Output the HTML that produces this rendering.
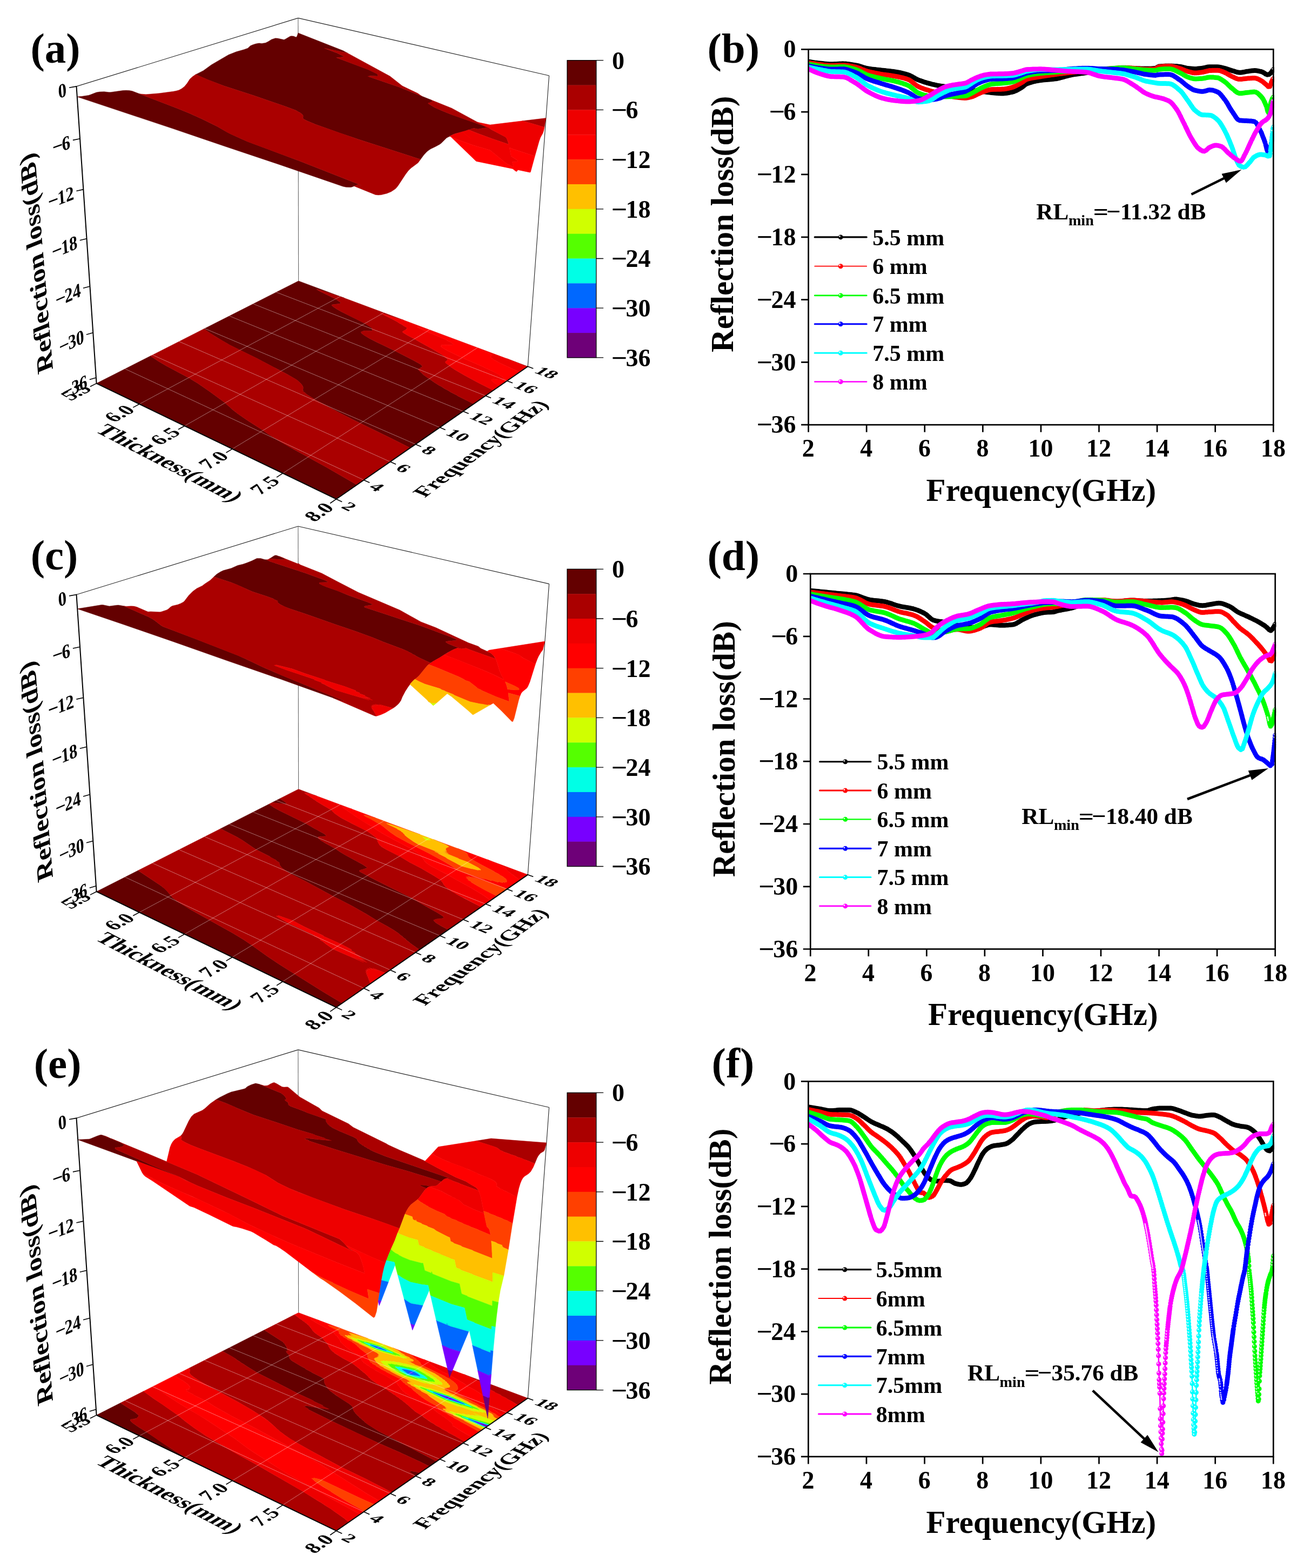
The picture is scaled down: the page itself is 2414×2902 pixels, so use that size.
<!DOCTYPE html>
<html><head><meta charset="utf-8"><title>Reflection loss figure</title>
<style>html,body{margin:0;padding:0;background:#fff}svg{display:block}</style></head><body>
<svg xmlns="http://www.w3.org/2000/svg" width="2414" height="2902" viewBox="0 0 2414 2902">
<defs><marker id="mkk" markerUnits="userSpaceOnUse" markerWidth="10" markerHeight="10" refX="5" refY="5" viewBox="0 0 10 10"><circle cx="5" cy="5" r="4.5" fill="#000000"/></marker><marker id="mkr" markerUnits="userSpaceOnUse" markerWidth="10" markerHeight="10" refX="5" refY="5" viewBox="0 0 10 10"><circle cx="5" cy="5" r="4.5" fill="#ff0000"/></marker><marker id="mkg" markerUnits="userSpaceOnUse" markerWidth="10" markerHeight="10" refX="5" refY="5" viewBox="0 0 10 10"><circle cx="5" cy="5" r="4.5" fill="#00ff00"/></marker><marker id="mkb" markerUnits="userSpaceOnUse" markerWidth="10" markerHeight="10" refX="5" refY="5" viewBox="0 0 10 10"><circle cx="5" cy="5" r="4.5" fill="#0000ff"/></marker><marker id="mkc" markerUnits="userSpaceOnUse" markerWidth="10" markerHeight="10" refX="5" refY="5" viewBox="0 0 10 10"><circle cx="5" cy="5" r="4.5" fill="#00ffff"/></marker><marker id="mkm" markerUnits="userSpaceOnUse" markerWidth="10" markerHeight="10" refX="5" refY="5" viewBox="0 0 10 10"><circle cx="5" cy="5" r="4.5" fill="#ff00ff"/></marker></defs>
<rect width="2414" height="2902" fill="#fff"/>
<g>
<path d="M278.6,658.8 178.5,709.6 622.5,923.7 660.6,897.3 603.5,864.3 545.5,832.4 524.1,820.3 507.4,810.4 495.2,802.4 487.0,796.5 459.6,779.1 440.0,765.4 432.2,759.5 415.4,744.6 388.0,724.4 366.3,709.5 350.3,699.7 307.6,676.9 293.1,668.4ZM552.6,519.9 377.3,608.8 388.5,616.4 411.2,630.4 426.0,638.9 477.3,664.2 530.3,692.1 548.3,702.4 552.3,705.4 556.5,709.4 559.4,712.9 560.0,714.5 561.2,715.9 560.9,717.2 561.5,718.3 560.6,719.5 561.2,720.6 560.2,721.7 561.4,723.0 560.8,724.4 563.7,726.3 567.9,729.9 582.1,739.1 623.9,761.6 655.0,777.6 723.6,811.1 759.4,829.0 876.9,747.6 847.8,732.9 844.8,731.0 833.9,725.5 829.8,722.7 822.4,719.0 817.4,715.6 812.8,713.2 804.5,707.9 784.4,694.0 777.1,687.0 776.9,686.4 773.8,683.7 775.3,683.7 775.0,682.1 776.9,682.2 777.8,681.1 778.9,680.8 779.9,679.8 780.8,679.5 781.5,678.3 782.3,677.9 778.5,674.3 765.6,667.1 730.9,649.2 696.5,632.7 683.3,625.9 674.7,620.8 669.5,617.0 668.2,614.5 670.3,613.7 670.2,613.3 676.4,612.1 688.2,612.6 689.6,611.2 688.9,610.4 689.4,609.1 688.2,608.3 688.0,606.6 675.7,598.6 631.3,576.5 622.6,571.5 616.7,567.6 613.9,564.9 614.7,564.0 627.6,562.3 629.9,561.7 631.0,560.2 621.2,553.3 591.9,538.9 586.2,535.7 586.9,535.7 586.5,535.3 587.9,535.6 598.6,538.9 637.3,551.5Z" fill="#640000" stroke="#640000" stroke-width=".5" fill-rule="evenodd"/>
<path d="M377.3,608.8 278.5,658.9 293.1,668.4 307.6,676.9 350.3,699.8 366.3,709.5 387.9,724.4 415.3,744.6 432.2,759.5 439.9,765.4 459.6,779.1 487.0,796.5 495.1,802.4 507.4,810.4 524.1,820.4 545.5,832.4 603.4,864.3 660.6,897.3 759.4,829.0 723.6,811.0 655.0,777.6 623.9,761.5 582.1,739.0 567.9,729.8 563.7,726.2 560.9,724.4 561.4,723.0 560.2,721.7 561.2,720.6 560.6,719.5 561.5,718.4 560.9,717.2 561.2,715.9 560.0,714.4 559.4,712.8 556.5,709.4 552.4,705.4 548.3,702.3 530.4,692.0 477.3,664.1 426.0,638.8 398.9,623.0ZM586.4,535.3 586.9,535.7 586.1,535.7 591.9,539.0 621.2,553.3 631.0,560.2 629.9,561.6 627.6,562.3 614.6,564.0 613.8,564.9 616.6,567.6 622.6,571.6 631.2,576.5 675.6,598.7 688.0,606.7 688.2,608.3 689.3,609.1 688.8,610.4 689.6,611.2 688.1,612.6 676.4,612.0 670.1,613.3 670.2,613.6 668.1,614.5 669.4,617.0 674.7,620.9 683.3,626.0 696.5,632.8 730.9,649.2 765.6,667.1 778.5,674.3 782.2,677.9 781.5,678.3 780.8,679.4 779.9,679.7 778.9,680.8 777.8,681.0 776.9,682.1 775.0,682.1 775.3,683.6 773.7,683.7 776.9,686.4 777.0,687.1 784.4,694.0 790.2,698.3 794.8,701.0 804.4,708.0 812.8,713.3 817.4,715.6 822.4,719.0 829.7,722.8 833.9,725.5 844.7,731.0 847.8,733.0 876.9,747.7 913.4,722.4 885.2,708.2 860.7,695.0 841.7,683.9 834.9,679.4 832.1,676.9 824.9,671.6 824.7,669.6 828.2,666.8 828.8,666.8 828.3,664.5 824.5,661.5 824.4,660.9 819.8,657.7 819.2,656.9 799.6,645.4 774.5,631.6 767.3,627.2 754.2,620.5 746.5,615.8 745.4,614.8 745.2,613.9 747.1,612.4 750.2,610.9 751.2,609.9 752.2,609.6 752.9,608.6 753.9,608.4 752.7,606.7 753.2,606.1 746.4,602.5 745.1,601.2 739.0,598.0 736.2,595.9 725.1,589.9 704.0,579.5 733.6,588.8 746.8,592.3 637.3,551.5 598.6,538.9ZM975.5,679.4 977.2,678.3 937.9,663.6 956.3,670.9Z" fill="#aa0000" stroke="#aa0000" stroke-width=".5" fill-rule="evenodd"/>
<path d="M703.8,579.4 725.1,589.9 736.2,596.0 739.0,598.1 745.0,601.2 746.4,602.6 753.1,606.2 752.7,606.7 753.8,608.3 752.9,608.6 752.1,609.6 751.2,609.9 750.2,610.8 747.1,612.3 745.2,613.9 745.4,614.9 746.5,615.8 754.2,620.5 767.3,627.2 774.5,631.6 799.6,645.4 819.2,657.0 819.7,657.8 824.3,661.0 824.5,661.5 828.3,664.5 828.8,666.8 828.2,666.8 824.6,669.5 824.8,671.7 832.1,676.9 834.8,679.4 841.7,684.0 860.7,695.1 885.1,708.2 913.4,722.4 924.6,714.6 914.9,708.6 910.6,704.6 909.7,702.1 914.3,701.8 922.0,702.9 927.5,702.9 931.6,702.3 931.3,702.0 932.3,700.5 931.6,700.0 930.5,697.8 923.4,693.1 910.1,686.3 898.8,681.2 893.1,678.2 855.1,662.1 828.9,649.2 819.7,643.9 816.4,641.1 816.4,640.2 817.8,638.6 821.0,638.7 822.0,638.0 826.6,638.6 827.3,638.0 833.3,639.1 833.8,638.5 838.3,638.9 837.8,638.0 841.1,638.0 835.9,635.3 837.3,634.7 827.1,630.1 827.4,629.3 800.5,617.9 789.6,613.7 776.2,607.4 770.8,604.4 793.7,611.3 882.6,644.3 896.9,650.0 911.2,656.5 910.8,656.6 911.5,657.0 910.5,657.1 911.3,657.7 908.2,657.9 909.6,659.0 907.8,659.7 909.2,660.9 908.3,661.8 912.2,664.0 913.4,665.6 920.8,669.2 923.4,671.1 962.0,688.8 975.5,679.4 956.3,670.9 937.9,663.6 746.8,592.3 733.6,588.7Z" fill="#ee0000" stroke="#ee0000" stroke-width=".5" fill-rule="evenodd"/>
<path d="M770.7,604.4 776.2,607.5 789.6,613.7 800.5,617.9 827.4,629.3 827.1,630.1 837.2,634.7 835.8,635.3 841.0,637.9 837.7,638.0 838.2,638.9 833.8,638.5 833.3,639.1 827.3,638.0 826.6,638.6 822.0,637.9 821.0,638.6 817.8,638.5 816.4,640.1 816.4,641.1 819.6,643.9 828.9,649.2 855.0,662.1 893.1,678.2 898.7,681.2 910.1,686.3 923.3,693.2 930.5,697.8 931.6,700.0 932.3,700.5 931.2,702.0 931.5,702.3 927.4,702.8 922.0,702.9 914.3,701.8 909.6,702.1 909.5,702.5 910.6,704.6 914.9,708.7 924.6,714.7 962.0,688.8 923.5,671.1 920.8,669.2 913.4,665.5 912.2,664.0 908.3,661.8 909.2,660.8 907.8,659.7 909.6,659.0 908.3,657.9 911.3,657.7 910.6,657.2 911.6,657.1 910.8,656.6 911.3,656.4 896.9,650.0 882.7,644.3 793.7,611.3Z" fill="#ff0000" stroke="#ff0000" stroke-width=".5" fill-rule="evenodd"/>
<path d="M258.0 747.9L629.8 548.7M341.7 788.3L710.5 578.8M430.1 830.9L795.2 610.4M523.6 875.9L883.9 643.5M231.5 682.7L673.5 888.4M282.4 656.9L722.3 854.6M331.5 632.0L769.2 822.2M378.9 608.0L814.1 791.1M424.6 584.8L857.3 761.2M468.7 562.4L898.8 732.5M511.4 540.8L938.7 704.9" stroke="#fff" stroke-opacity=".5" stroke-width=".85" fill="none"/>
<path d="M141.5 159.9L551.9 33.4M551.9 33.4L1016.5 140.0M1016.5 140.0L977.1 678.3" stroke="#222" stroke-width="1.1" fill="none"/>
<path d="M551.9 33.4L552.6 519.9" stroke="#666" stroke-width="1.1" fill="none"/>
<path d="M238.9,167.4 233.3,167.2 227.6,167.5 204.7,170.7 201.8,170.8 193.0,169.7 184.2,170.0 178.3,171.1 166.7,175.6 163.8,176.4 151.8,178.3 142.7,179.1 320.1,238.1 416.9,271.0 519.7,305.4 634.8,345.0 640.4,346.2 648.9,346.6 651.7,346.0 662.9,341.5 670.7,344.3 665.6,341.5 559.8,299.9 458.4,262.1 428.8,248.8 420.4,244.6 402.2,233.9 372.5,219.5 349.1,208.9 327.6,200.2 244.7,168.5ZM376.5,130.7 362.3,137.9 385.5,147.9 414.7,159.1 470.2,177.0 527.7,196.8 547.2,204.1 556.1,209.1 559.2,211.6 559.9,212.7 561.2,213.8 560.9,214.7 561.6,215.5 560.5,216.3 561.2,217.1 560.1,217.9 561.4,218.8 560.8,219.8 568.5,223.7 584.1,230.3 629.7,246.4 663.7,257.9 778.5,295.0 784.4,287.1 789.5,281.5 792.0,279.3 797.0,275.8 806.9,271.0 814.3,266.9 816.8,265.0 826.7,255.2 838.7,249.0 843.5,247.3 859.9,242.9 876.0,237.5 878.3,237.6 884.9,239.0 902.5,235.9 905.6,236.8 904.9,236.3 832.6,210.8 817.4,204.6 804.0,198.6 792.3,191.3 793.9,191.2 793.5,190.1 795.6,190.2 796.5,189.4 799.8,188.3 800.5,187.4 801.4,187.2 797.3,184.6 738.6,161.0 681.0,141.2 685.9,140.6 698.6,141.1 700.2,140.0 699.3,139.5 699.9,138.6 698.6,138.0 698.4,136.8 681.3,128.6 622.6,106.6 632.8,105.8 635.4,105.3 636.6,104.3 624.3,98.3 600.5,89.2 643.3,98.2 635.2,93.8 552.0,61.1 549.8,66.9 548.5,69.0 543.2,66.9 538.8,66.7 536.6,67.4 527.7,72.8 525.5,73.5 514.2,71.1 509.7,70.8 502.8,73.0 496.0,77.2 491.4,79.4 484.5,80.5 479.9,80.0 477.5,80.3 472.9,81.2 468.2,82.7 463.5,84.8 458.8,89.2 451.8,91.7 437.4,95.8 423.0,101.4 391.3,119.9Z" fill="#640000" stroke="#640000" stroke-width=".5" fill-rule="evenodd"/>
<path d="M362.3,137.8 356.5,141.8 351.5,146.3 346.5,154.1 341.6,160.1 336.5,164.0 331.4,166.8 326.2,168.2 321.0,169.2 294.4,172.8 270.0,174.8 258.2,173.8 327.5,200.3 349.1,208.9 372.5,219.5 402.1,234.0 420.4,244.7 428.8,248.9 458.4,262.2 559.8,299.9 665.6,341.6 670.4,344.1 662.9,341.5 655.5,344.4 695.1,360.4 700.4,360.9 705.7,360.6 716.2,358.0 724.1,354.7 732.0,349.5 734.7,346.6 737.4,343.0 750.7,322.8 756.0,315.7 761.2,310.8 774.0,301.2 778.5,295.0 663.7,257.9 629.8,246.3 584.1,230.2 568.5,223.7 560.9,219.8 561.5,218.8 560.2,217.9 561.3,217.1 560.6,216.3 561.6,215.5 561.0,214.7 561.3,213.7 560.0,212.7 559.3,211.6 556.1,209.1 547.2,204.1 527.7,196.8 470.2,176.9 414.7,159.0 385.6,147.8ZM600.2,89.1 624.3,98.3 636.5,104.3 635.4,105.3 632.8,105.7 622.4,106.6 681.3,128.7 698.4,136.9 698.6,138.0 699.8,138.6 699.3,139.5 700.1,140.0 698.6,141.0 685.9,140.6 680.9,141.2 738.5,161.0 780.7,178.0 773.1,172.6 744.8,159.1 721.9,141.0 643.2,98.2ZM796.5,189.3 795.6,190.1 793.5,190.1 793.8,191.2 792.1,191.3 803.9,198.6 810.2,201.6 836.6,212.4 899.0,234.3 836.2,200.2 797.2,184.6 801.3,187.1 800.5,187.4 799.8,188.2ZM966.9,223.8 986.9,229.3 1007.8,235.6 1010.8,218.6ZM902.5,235.8 884.9,239.0 878.3,237.6 876.0,237.5 867.5,240.2 884.4,246.9 911.0,256.7 941.8,267.2 939.7,260.3 937.9,256.0 935.9,253.6 909.2,239.6 905.6,236.8Z" fill="#aa0000" stroke="#aa0000" stroke-width=".5" fill-rule="evenodd"/>
<path d="M862.2,242.1 841.1,248.0 833.1,251.7 837.2,254.5 847.2,258.5 875.3,268.4 907.3,278.1 936.0,301.6 940.2,304.3 950.7,308.9 948.4,299.7 953.5,299.8 957.9,299.4 957.6,299.1 958.7,297.9 956.7,295.9 946.3,289.2 943.1,273.1 948.6,275.4 990.2,289.0 998.0,261.6 1000.4,254.8 1004.9,246.4 1006.4,242.2 1007.9,235.5 986.9,229.2 967.0,223.8 907.2,231.0 883.5,226.1 898.9,234.3 904.9,236.4 909.2,239.6 935.9,253.7 937.8,256.0 939.7,260.3 941.8,267.2 911.0,256.7 884.4,246.9 867.5,240.2Z" fill="#ee0000" stroke="#ee0000" stroke-width=".5" fill-rule="evenodd"/>
<path d="M871.7,256.2 855.8,244.1 871.7,256.3ZM833.1,251.7 831.9,252.3 834.5,253.1 881.5,298.5 949.2,312.4 954.5,316.7 956.5,317.5 958.8,314.4 980.3,318.9 981.5,319.1 982.3,317.9 990.2,289.0 948.6,275.4 943.1,273.0 946.2,289.2 956.7,295.9 958.6,298.0 957.5,299.1 957.8,299.3 953.5,299.7 948.3,299.7 950.6,308.8 940.2,304.2 936.1,301.5 907.4,278.1 875.4,268.4 847.2,258.4 837.3,254.4Z" fill="#ff0000" stroke="#ff0000" stroke-width=".5" fill-rule="evenodd"/>
<path d="M141.5 159.9L178.6 709.6M178.6 709.6L622.5 923.7M622.5 923.7L977.1 678.3" stroke="#000" stroke-width="2" fill="none" stroke-linecap="round"/>
<path d="M141.5 159.9L128.1 162.3M148.0 256.7L134.9 259.4M154.3 350.6L141.4 353.5M160.5 441.7L147.8 444.7M166.4 530.0L154.0 533.3M172.2 615.8L159.9 619.2M177.9 699.1L165.8 702.6M178.6 709.6L166.9 715.5M258.0 747.9L246.3 754.1M341.7 788.3L330.1 794.8M430.1 830.9L418.6 837.8M523.6 875.9L512.1 883.3M622.5 923.7L611.2 931.5M622.5 923.7L633.2 928.8M673.5 888.4L684.2 893.3M722.3 854.6L732.9 859.3M769.2 822.2L779.7 826.7M814.1 791.1L824.5 795.4M857.3 761.2L867.6 765.4M898.8 732.5L909.0 736.5M938.7 704.9L948.9 708.8M977.1 678.3L987.2 682.0" stroke="#000" stroke-width="1.6" fill="none" stroke-linecap="butt"/>
<g font-family="Liberation Serif, serif" font-weight="bold" font-size="46" transform="matrix(0.6679 -0.2096 0.0567 0.7980 123.9 177.5)"><text x="-23.00">0</text></g>
<g font-family="Liberation Serif, serif" font-weight="bold" font-size="46" transform="matrix(0.6610 -0.2303 0.0567 0.7980 130.8 274.5)"><text transform="translate(-50.10 0) scale(1.13 1)">−</text><text x="-23.00">6</text></g>
<g font-family="Liberation Serif, serif" font-weight="bold" font-size="46" transform="matrix(0.6539 -0.2498 0.0567 0.7980 137.5 368.5)"><text transform="translate(-73.10 0) scale(1.13 1)">−</text><text x="-46.00">12</text></g>
<g font-family="Liberation Serif, serif" font-weight="bold" font-size="46" transform="matrix(0.6466 -0.2682 0.0567 0.7980 143.9 459.6)"><text transform="translate(-73.10 0) scale(1.13 1)">−</text><text x="-46.00">18</text></g>
<g font-family="Liberation Serif, serif" font-weight="bold" font-size="46" transform="matrix(0.6391 -0.2855 0.0567 0.7980 150.2 548.0)"><text transform="translate(-73.10 0) scale(1.13 1)">−</text><text x="-46.00">24</text></g>
<g font-family="Liberation Serif, serif" font-weight="bold" font-size="46" transform="matrix(0.6316 -0.3018 0.0567 0.7980 156.3 633.8)"><text transform="translate(-73.10 0) scale(1.13 1)">−</text><text x="-46.00">30</text></g>
<g font-family="Liberation Serif, serif" font-weight="bold" font-size="46" transform="matrix(0.6240 -0.3171 0.0567 0.7980 162.2 717.1)"><text transform="translate(-73.10 0) scale(1.13 1)">−</text><text x="-46.00">36</text></g>
<text font-family="Liberation Serif, serif" font-weight="bold" font-size="58" text-anchor="middle" transform="matrix(-0.0727 -0.8670 0.7228 -0.2931 81.0 481.5)">Reflection loss(dB)</text>
<g font-family="Liberation Serif, serif" font-weight="bold" font-size="46" transform="matrix(0.7124 -0.3640 0.6923 0.4010 171.7 721.4)"><text x="-57.50">5.5</text></g>
<g font-family="Liberation Serif, serif" font-weight="bold" font-size="46" transform="matrix(0.7039 -0.3801 0.6923 0.4010 251.8 760.6)"><text x="-57.50">6.0</text></g>
<g font-family="Liberation Serif, serif" font-weight="bold" font-size="46" transform="matrix(0.6942 -0.3975 0.6923 0.4010 336.2 801.9)"><text x="-57.50">6.5</text></g>
<g font-family="Liberation Serif, serif" font-weight="bold" font-size="46" transform="matrix(0.6831 -0.4163 0.6923 0.4010 425.4 845.6)"><text x="-57.50">7.0</text></g>
<g font-family="Liberation Serif, serif" font-weight="bold" font-size="46" transform="matrix(0.6704 -0.4366 0.6923 0.4010 519.8 891.8)"><text x="-57.50">7.5</text></g>
<g font-family="Liberation Serif, serif" font-weight="bold" font-size="46" transform="matrix(0.6557 -0.4584 0.6923 0.4010 619.8 940.7)"><text x="-57.50">8.0</text></g>
<text font-family="Liberation Serif, serif" font-weight="bold" font-size="58" text-anchor="middle" transform="matrix(0.6662 0.3445 -0.6473 0.3789 302.0 864.0)">Thickness(mm)</text>
<g font-family="Liberation Serif, serif" font-weight="bold" font-size="46" transform="matrix(0.7194 0.3500 -0.5241 0.3673 629.9 939.1)"><text x="0.00">2</text></g>
<g font-family="Liberation Serif, serif" font-weight="bold" font-size="46" transform="matrix(0.7242 0.3398 -0.5241 0.3673 681.3 903.1)"><text x="0.00">4</text></g>
<g font-family="Liberation Serif, serif" font-weight="bold" font-size="46" transform="matrix(0.7287 0.3301 -0.5241 0.3673 730.5 868.6)"><text x="0.00">6</text></g>
<g font-family="Liberation Serif, serif" font-weight="bold" font-size="46" transform="matrix(0.7328 0.3209 -0.5241 0.3673 777.7 835.5)"><text x="0.00">8</text></g>
<g font-family="Liberation Serif, serif" font-weight="bold" font-size="46" transform="matrix(0.7366 0.3122 -0.5241 0.3673 822.9 803.8)"><text x="0.00">10</text></g>
<g font-family="Liberation Serif, serif" font-weight="bold" font-size="46" transform="matrix(0.7400 0.3039 -0.5241 0.3673 866.4 773.3)"><text x="0.00">12</text></g>
<g font-family="Liberation Serif, serif" font-weight="bold" font-size="46" transform="matrix(0.7432 0.2960 -0.5241 0.3673 908.1 744.1)"><text x="0.00">14</text></g>
<g font-family="Liberation Serif, serif" font-weight="bold" font-size="46" transform="matrix(0.7462 0.2884 -0.5241 0.3673 948.3 716.0)"><text x="0.00">16</text></g>
<g font-family="Liberation Serif, serif" font-weight="bold" font-size="46" transform="matrix(0.7489 0.2813 -0.5241 0.3673 986.9 688.9)"><text x="0.00">18</text></g>
<text font-family="Liberation Serif, serif" font-weight="bold" font-size="58" text-anchor="middle" transform="matrix(0.5530 -0.4127 0.6268 0.2636 902.0 835.3)">Frequency(GHz)</text>
<text font-family="Liberation Serif, serif" font-weight="bold" font-size="79" x="56.5" y="115.6">(a)</text>
<rect x="1050.0" y="111.70" width="53.8" height="46.15" fill="#640000"/>
<rect x="1050.0" y="157.55" width="53.8" height="46.15" fill="#aa0000"/>
<rect x="1050.0" y="203.40" width="53.8" height="46.15" fill="#ee0000"/>
<rect x="1050.0" y="249.25" width="53.8" height="46.15" fill="#ff0000"/>
<rect x="1050.0" y="295.10" width="53.8" height="46.15" fill="#ff4000"/>
<rect x="1050.0" y="340.95" width="53.8" height="46.15" fill="#ffc000"/>
<rect x="1050.0" y="386.80" width="53.8" height="46.15" fill="#d0ff00"/>
<rect x="1050.0" y="432.65" width="53.8" height="46.15" fill="#55ff00"/>
<rect x="1050.0" y="478.50" width="53.8" height="46.15" fill="#00ffe6"/>
<rect x="1050.0" y="524.35" width="53.8" height="46.15" fill="#0068ff"/>
<rect x="1050.0" y="570.20" width="53.8" height="46.15" fill="#7800ff"/>
<rect x="1050.0" y="616.05" width="53.8" height="46.15" fill="#6e0078"/>
<rect x="1050.0" y="111.7" width="53.8" height="550.2" fill="none" stroke="#000" stroke-width="1.3"/>
<path d="M1103.8 111.7h13.3M1103.8 203.4h13.3M1103.8 295.1h13.3M1103.8 386.8h13.3M1103.8 478.5h13.3M1103.8 570.2h13.3M1103.8 661.9h13.3" stroke="#000" stroke-width="1.3"/>
<g font-family="Liberation Serif, serif" font-weight="bold" font-size="46" transform="translate(1132.9 127.6)"><text x="0.00">0</text></g>
<g font-family="Liberation Serif, serif" font-weight="bold" font-size="46" transform="translate(1131.4 219.3)"><text transform="translate(0.00 0) scale(1.13 1)">−</text><text x="27.10">6</text></g>
<g font-family="Liberation Serif, serif" font-weight="bold" font-size="46" transform="translate(1131.4 311.0)"><text transform="translate(0.00 0) scale(1.13 1)">−</text><text x="27.10">12</text></g>
<g font-family="Liberation Serif, serif" font-weight="bold" font-size="46" transform="translate(1131.4 402.7)"><text transform="translate(0.00 0) scale(1.13 1)">−</text><text x="27.10">18</text></g>
<g font-family="Liberation Serif, serif" font-weight="bold" font-size="46" transform="translate(1131.4 494.4)"><text transform="translate(0.00 0) scale(1.13 1)">−</text><text x="27.10">24</text></g>
<g font-family="Liberation Serif, serif" font-weight="bold" font-size="46" transform="translate(1131.4 586.1)"><text transform="translate(0.00 0) scale(1.13 1)">−</text><text x="27.10">30</text></g>
<g font-family="Liberation Serif, serif" font-weight="bold" font-size="46" transform="translate(1131.4 677.8)"><text transform="translate(0.00 0) scale(1.13 1)">−</text><text x="27.10">36</text></g>
</g>
<g>
<path d="M255.6,1611.1 178.5,1650.2 622.5,1864.3 633.5,1856.7 598.9,1835.9 519.8,1786.4 494.3,1769.6 465.0,1748.4 450.9,1739.1 430.6,1726.8 354.2,1684.2 327.7,1668.1 319.7,1661.6 309.4,1649.3 304.8,1644.6 297.3,1638.7ZM497.9,1488.2 408.2,1533.7 437.9,1548.8 448.1,1554.8 474.3,1572.6 499.1,1585.1 501.4,1586.9 511.2,1592.0 511.5,1593.3 517.7,1596.7 515.4,1597.1 518.2,1599.1 517.0,1600.0 518.3,1601.3 519.2,1603.1 522.5,1606.8 530.3,1612.5 538.1,1617.3 564.5,1630.5 616.7,1658.8 650.4,1676.0 678.7,1692.0 698.0,1704.0 717.2,1714.6 729.8,1722.1 738.5,1728.0 740.3,1730.0 744.8,1733.0 746.4,1735.1 750.2,1737.6 752.6,1740.3 755.6,1742.3 759.8,1745.9 776.5,1757.7 829.8,1720.8 816.3,1713.6 806.4,1707.4 802.9,1703.7 802.8,1702.9 807.8,1701.0 818.3,1699.9 821.5,1698.8 820.4,1696.0 810.7,1689.7 789.7,1678.0 762.7,1662.3 694.7,1628.5 666.2,1613.3 665.4,1612.6 665.8,1610.7 678.4,1607.1 679.5,1605.4 671.6,1600.1 638.9,1582.2 629.7,1576.7 620.5,1570.5 601.4,1560.1 600.4,1559.2 593.6,1555.2 592.5,1554.0 589.3,1551.6 588.8,1549.5 589.5,1548.8 595.3,1548.0 598.3,1548.2 600.1,1547.8 602.5,1547.9 603.9,1546.4 601.8,1544.5 599.0,1542.4 592.4,1539.1 587.3,1535.9 581.9,1533.2 565.5,1523.7 517.6,1500.2 507.4,1494.7ZM518.1,1478.0 503.7,1485.3 503.7,1485.3 522.7,1487.7 528.3,1488.0 530.7,1487.0 526.8,1483.6Z" fill="#640000" stroke="#640000" stroke-width=".5" fill-rule="evenodd"/>
<path d="M408.3,1533.7 255.6,1611.1 297.3,1638.7 304.7,1644.7 309.4,1649.4 319.7,1661.6 327.7,1668.1 354.2,1684.2 430.6,1726.8 450.9,1739.1 464.9,1748.5 494.3,1769.6 519.8,1786.5 598.8,1836.0 633.4,1856.7 686.1,1820.3 684.2,1816.7 683.6,1813.9 682.8,1813.3 682.6,1810.7 681.2,1809.7 681.5,1807.4 679.5,1806.1 680.4,1804.2 677.8,1802.6 679.6,1801.2 676.7,1799.3 679.9,1798.6 676.6,1796.5 681.5,1796.6 677.6,1794.2 684.7,1795.3 679.8,1792.4 690.2,1794.9 683.5,1791.3 701.0,1796.8 690.9,1792.0 713.8,1801.1 776.6,1757.7 759.8,1745.9 755.6,1742.2 752.6,1740.3 750.2,1737.6 746.4,1735.1 744.8,1733.0 740.3,1730.0 738.6,1728.0 729.8,1722.0 717.2,1714.6 698.1,1704.0 678.7,1692.0 650.5,1676.0 616.7,1658.8 564.5,1630.5 538.2,1617.3 530.3,1612.5 522.5,1606.7 519.2,1603.1 518.4,1601.3 517.1,1600.0 518.2,1599.0 515.5,1597.1 517.8,1596.7 511.5,1593.2 511.2,1592.0 501.4,1586.8 499.1,1585.1 474.3,1572.6 448.2,1554.8 437.9,1548.8ZM581.2,1730.4 534.3,1708.5 511.5,1695.3 514.9,1695.0 515.5,1694.6 542.0,1703.9 564.3,1715.7 598.0,1731.5 599.2,1732.9 631.1,1747.2 651.1,1757.8 649.2,1759.1 657.8,1763.5 656.2,1764.6 667.1,1770.4 664.5,1770.7 675.5,1776.8 664.6,1773.4 679.0,1781.1 645.9,1768.1 672.3,1780.8 616.6,1756.5 602.5,1746.6 597.9,1742.6 592.4,1739.4 592.9,1737.9 579.9,1731.2ZM552.6,1460.5 518.0,1478.0 526.7,1483.6 530.7,1487.0 528.3,1487.9 522.7,1487.6 503.7,1485.3 497.9,1488.2 507.4,1494.7 517.6,1500.3 565.5,1523.7 581.9,1533.3 587.3,1535.9 592.4,1539.1 599.0,1542.5 601.8,1544.5 603.8,1546.4 602.5,1547.8 600.1,1547.8 598.3,1548.2 595.3,1547.9 589.5,1548.8 588.8,1549.5 589.2,1551.6 592.5,1554.0 593.5,1555.2 600.4,1559.2 601.4,1560.1 620.5,1570.5 629.7,1576.8 638.8,1582.2 671.6,1600.1 679.5,1605.4 678.4,1607.1 665.8,1610.6 665.3,1612.6 666.1,1613.3 694.7,1628.5 762.7,1662.3 789.7,1678.1 810.7,1689.8 820.4,1696.0 821.4,1698.8 818.3,1699.8 807.8,1701.0 804.4,1702.0 802.8,1702.8 802.9,1703.7 806.4,1707.4 816.3,1713.6 829.8,1720.8 890.8,1678.6 859.5,1662.7 856.3,1660.7 846.3,1655.6 842.4,1652.9 836.4,1649.8 832.6,1646.9 829.4,1645.0 826.7,1642.4 824.8,1641.2 823.2,1638.9 822.0,1638.1 819.2,1633.0 815.3,1628.3 801.7,1619.7 779.3,1606.8 759.4,1596.4 739.4,1584.6 714.7,1572.1 706.5,1567.2 705.5,1566.0 702.4,1563.7 702.5,1562.7 700.7,1561.1 701.1,1560.2 699.5,1558.7 699.9,1557.7 698.7,1556.5 699.3,1555.5 698.0,1554.3 698.4,1553.2 696.7,1551.9 696.6,1550.5 685.8,1542.5 678.5,1537.6 652.2,1524.6 630.9,1513.2 620.0,1505.7 612.5,1498.5 599.3,1491.1 585.6,1482.7 584.2,1481.4 579.7,1478.8 578.0,1477.2 574.2,1475.1 571.9,1473.1 568.7,1471.4 564.3,1468.3 563.9,1467.4 568.5,1468.3 585.8,1472.9Z" fill="#aa0000" stroke="#aa0000" stroke-width=".5" fill-rule="evenodd"/>
<path d="M585.8,1472.9 563.9,1467.4 564.3,1468.3 568.7,1471.4 571.9,1473.1 574.1,1475.1 578.0,1477.2 579.7,1478.8 584.2,1481.4 585.6,1482.7 599.2,1491.1 612.5,1498.6 619.9,1505.7 630.9,1513.3 652.2,1524.6 678.4,1537.7 685.8,1542.5 696.6,1550.6 696.7,1552.0 698.4,1553.2 697.9,1554.3 699.2,1555.5 698.6,1556.5 699.9,1557.8 699.4,1558.7 701.1,1560.2 700.6,1561.1 702.5,1562.7 702.4,1563.8 705.5,1566.0 706.5,1567.2 714.6,1572.1 739.4,1584.7 759.4,1596.5 779.3,1606.8 801.7,1619.8 815.3,1628.4 819.2,1633.0 822.0,1638.1 823.2,1638.9 824.8,1641.2 826.6,1642.4 829.4,1645.1 832.6,1646.9 836.3,1649.8 842.4,1653.0 846.3,1655.6 890.8,1678.6 908.0,1666.8 899.2,1660.1 891.7,1655.0 871.9,1642.9 842.5,1626.9 829.4,1619.2 806.6,1607.6 796.4,1601.9 790.2,1597.7 786.8,1594.4 780.0,1584.5 776.5,1581.1 770.7,1576.9 761.7,1571.2 751.7,1565.7 728.0,1553.6 724.5,1551.4 707.8,1542.6 698.2,1536.6 690.5,1530.8 673.9,1521.1 660.8,1512.8 659.2,1511.4 655.3,1509.0 653.4,1507.3 649.9,1505.3 647.6,1503.3 644.5,1501.6 641.8,1499.3 639.1,1497.9 635.3,1494.9 634.5,1493.8 637.7,1494.1 651.2,1497.2ZM515.5,1694.6 514.9,1695.0 511.4,1695.3 534.3,1708.6 581.1,1730.4 579.9,1731.2 592.9,1737.9 592.3,1739.4 597.9,1742.6 602.5,1746.6 616.6,1756.6 673.3,1781.3 646.5,1768.3 679.3,1781.3 664.8,1773.5 675.7,1776.9 664.6,1770.7 667.2,1770.4 656.2,1764.6 657.9,1763.5 649.3,1759.1 651.1,1757.8 631.1,1747.1 599.2,1732.9 598.0,1731.4 564.3,1715.7 542.1,1703.8ZM683.3,1791.2 690.0,1794.8 679.7,1792.3 684.6,1795.2 677.5,1794.1 681.4,1796.6 676.5,1796.4 679.9,1798.6 676.6,1799.3 679.6,1801.2 677.8,1802.6 680.3,1804.2 679.4,1806.1 681.4,1807.4 681.2,1809.7 682.6,1810.7 682.8,1813.3 683.6,1813.9 684.1,1816.8 686.1,1820.3 713.8,1801.1 690.4,1791.7 700.7,1796.7ZM962.8,1628.8 977.1,1618.8 902.5,1591.0 925.8,1601.7 934.3,1606.3 937.7,1608.9 938.1,1610.3 940.0,1611.7 941.5,1613.6 944.2,1615.1 946.6,1617.5 949.1,1618.8 952.6,1621.8Z" fill="#ee0000" stroke="#ee0000" stroke-width=".5" fill-rule="evenodd"/>
<path d="M634.4,1493.8 635.2,1494.9 639.1,1497.9 641.7,1499.3 644.4,1501.6 647.6,1503.3 649.8,1505.4 653.4,1507.4 655.2,1509.1 659.2,1511.4 660.8,1512.9 673.8,1521.2 690.5,1530.8 698.1,1536.6 707.8,1542.6 724.5,1551.4 728.0,1553.6 751.7,1565.7 761.7,1571.2 770.6,1576.9 776.5,1581.2 780.0,1584.6 786.8,1594.4 790.2,1597.7 796.4,1602.0 806.5,1607.6 829.4,1619.3 842.4,1626.9 871.9,1642.9 891.7,1655.0 899.2,1660.1 907.9,1666.8 920.0,1658.4 897.0,1646.8 881.3,1638.1 872.0,1632.4 872.1,1631.6 865.6,1627.9 869.0,1628.4 862.8,1624.6 868.8,1626.2 862.7,1622.5 873.0,1625.7 865.7,1621.6 884.2,1627.8 872.9,1622.3 938.7,1645.5 962.9,1628.8 952.6,1621.8 949.1,1618.8 946.6,1617.5 944.2,1615.1 941.6,1613.6 940.0,1611.6 938.1,1610.3 937.7,1608.9 934.3,1606.3 925.8,1601.7 902.5,1591.0 847.0,1570.3 857.5,1574.8 863.9,1578.7 865.0,1579.7 865.3,1580.1 864.9,1580.1 865.8,1581.2 865.0,1581.3 866.5,1583.5 865.9,1583.5 867.4,1585.8 867.1,1585.9 871.0,1589.2 892.1,1601.0 913.3,1612.1 916.8,1614.4 922.8,1617.4 926.7,1620.2 930.3,1622.1 934.9,1625.6 936.9,1627.3 937.7,1628.4 936.5,1628.4 939.1,1631.0 936.7,1630.4 938.2,1632.7 935.3,1631.9 934.9,1633.5 930.7,1632.3 930.2,1633.8 922.7,1631.5 922.5,1632.9 909.4,1628.7 910.2,1630.3 890.2,1623.8 897.4,1627.5 847.4,1610.3 920.0,1638.3 844.7,1609.4 839.6,1605.4 832.7,1600.7 822.0,1594.5 794.5,1579.4 754.5,1559.2 733.8,1548.1 722.5,1540.3 710.1,1530.3 705.1,1526.6 686.8,1516.1 677.3,1511.4 673.0,1508.2 677.7,1509.0 695.0,1513.6 651.2,1497.2 637.7,1494.1Z" fill="#ff0000" stroke="#ff0000" stroke-width=".5" fill-rule="evenodd"/>
<path d="M695.0,1513.6 673.0,1508.2 677.3,1511.4 686.8,1516.2 705.0,1526.7 710.1,1530.3 722.5,1540.3 733.8,1548.1 754.5,1559.3 794.5,1579.4 822.0,1594.6 832.7,1600.7 839.6,1605.4 844.7,1609.4 936.8,1644.7 872.6,1622.1 883.9,1627.6 865.5,1621.5 872.8,1625.6 862.5,1622.4 868.7,1626.2 862.7,1624.6 868.9,1628.4 865.5,1627.9 872.1,1631.6 872.0,1632.4 881.3,1638.1 897.0,1646.9 920.0,1658.5 938.7,1645.5 848.4,1610.7 897.7,1627.6 890.4,1623.9 910.2,1630.4 909.4,1628.7 922.5,1633.0 922.7,1631.5 930.2,1633.8 930.7,1632.3 934.9,1633.6 935.3,1632.0 938.2,1632.7 936.8,1630.5 939.2,1631.0 936.6,1628.4 937.8,1628.5 937.0,1627.3 934.9,1625.6 930.3,1622.1 926.7,1620.1 922.8,1617.4 916.8,1614.4 913.3,1612.0 892.1,1601.0 871.1,1589.2 867.2,1585.9 867.5,1585.8 865.9,1583.5 866.6,1583.5 865.1,1581.3 865.8,1581.2 865.0,1580.1 865.3,1580.1 865.0,1579.7 857.5,1574.8 847.0,1570.3 802.4,1553.7 825.4,1563.5 830.8,1566.9 829.6,1567.3 830.0,1567.9 827.3,1567.9 828.0,1569.0 825.2,1569.1 825.9,1570.2 823.9,1570.6 825.8,1572.1 823.7,1572.4 826.9,1574.5 822.1,1573.7 827.2,1576.6 819.7,1574.8 829.7,1579.5 816.8,1575.8 848.1,1588.4 804.5,1573.3 866.0,1595.7 885.5,1606.1 890.1,1609.6 889.2,1609.8 889.6,1610.2 884.6,1609.7 885.4,1610.6 873.2,1607.6 873.4,1608.1 854.6,1603.0 827.6,1588.6 825.0,1586.4 811.5,1579.7 816.0,1580.8 805.1,1576.1 822.7,1581.7 773.9,1562.4 765.3,1557.4 754.4,1549.7 748.9,1545.1 749.1,1544.1 746.6,1542.3 746.8,1541.4 742.9,1539.1 742.2,1537.9 735.7,1534.5 734.9,1533.5 715.6,1524.1 724.6,1526.6 777.8,1544.5Z" fill="#ff4000" stroke="#ff4000" stroke-width=".5" fill-rule="evenodd"/>
<path d="M715.6,1524.1 721.8,1527.4 734.9,1533.5 735.7,1534.5 742.2,1537.9 742.9,1539.1 746.7,1541.4 746.5,1542.4 749.1,1544.1 748.9,1545.2 754.4,1549.8 765.3,1557.4 773.9,1562.4 822.2,1581.5 804.7,1576.0 815.7,1580.8 811.3,1579.7 824.9,1586.4 827.6,1588.7 854.6,1603.0 873.5,1608.1 873.2,1607.7 885.5,1610.6 884.7,1609.8 889.6,1610.2 889.3,1609.8 890.2,1609.6 885.6,1606.1 866.0,1595.6 807.2,1574.2 848.8,1588.7 817.2,1575.9 830.0,1579.6 819.9,1574.9 827.3,1576.6 822.2,1573.8 827.0,1574.6 823.7,1572.4 825.8,1572.1 824.0,1570.6 826.0,1570.2 825.3,1569.2 828.1,1569.1 827.4,1568.0 830.1,1567.9 829.7,1567.3 830.8,1567.2 830.9,1566.9 825.4,1563.5 802.4,1553.7 777.7,1544.5 724.6,1526.5ZM788.5,1555.0 785.6,1551.4 784.3,1550.7 782.7,1548.9 793.2,1552.2 797.3,1554.4Z" fill="#ffc000" stroke="#ffc000" stroke-width=".5" fill-rule="evenodd"/>
<path d="M782.6,1548.9 782.5,1549.2 784.3,1550.8 785.6,1551.4 788.5,1555.0 795.0,1554.8 797.3,1554.4 793.3,1552.1Z" fill="#d0ff00" stroke="#d0ff00" stroke-width=".5" fill-rule="evenodd"/>
<path d="M258.0 1688.5L629.8 1489.3M341.7 1728.9L710.5 1519.4M430.1 1771.5L795.2 1551.0M523.6 1816.5L883.9 1584.1M231.5 1623.3L673.5 1829.0M282.4 1597.5L722.3 1795.2M331.5 1572.6L769.2 1762.8M378.9 1548.6L814.1 1731.7M424.6 1525.4L857.3 1701.8M468.7 1503.0L898.8 1673.1M511.4 1481.4L938.7 1645.5" stroke="#fff" stroke-opacity=".5" stroke-width=".85" fill="none"/>
<path d="M141.5 1100.5L551.9 974.0M551.9 974.0L1016.5 1080.6M1016.5 1080.6L977.1 1618.9" stroke="#222" stroke-width="1.1" fill="none"/>
<path d="M551.9 974.0L552.6 1460.5" stroke="#666" stroke-width="1.1" fill="none"/>
<path d="M229.5,1121.7 219.7,1120.0 216.8,1120.1 202.4,1121.9 190.6,1119.5 187.7,1119.5 143.2,1126.8 229.3,1156.0 320.5,1187.5 417.1,1221.6 519.8,1257.1 628.9,1296.1 640.9,1298.5 602.7,1283.3 515.8,1247.3 487.9,1235.2 455.9,1219.9 440.6,1213.1 367.5,1184.6 301.6,1159.5 298.2,1157.6 287.2,1148.9 282.2,1145.5 274.2,1141.3ZM413.5,1055.8 408.6,1058.1 401.3,1062.6 395.9,1067.5 427.9,1078.1 438.9,1082.4 467.1,1094.9 493.9,1103.8 507.0,1108.6 507.3,1109.5 514.0,1111.9 511.5,1112.2 514.5,1113.6 513.3,1114.3 514.7,1115.2 515.6,1116.5 519.2,1119.1 527.6,1123.2 536.2,1126.6 564.8,1135.9 621.7,1156.1 658.5,1168.4 689.4,1179.8 710.7,1188.4 745.5,1201.4 755.2,1205.7 757.1,1207.1 762.1,1209.3 763.8,1210.8 768.0,1212.6 770.7,1214.5 778.6,1218.6 797.1,1227.1 804.1,1222.7 813.9,1217.3 828.5,1208.1 840.5,1201.8 847.3,1199.3 849.9,1200.1 854.9,1200.7 839.9,1195.4 829.1,1191.0 825.2,1188.3 825.0,1187.8 830.5,1186.5 841.9,1185.6 845.3,1184.9 844.2,1182.9 833.5,1178.4 780.7,1158.8 675.2,1123.9 674.3,1123.4 674.8,1122.0 688.5,1119.6 689.7,1118.3 681.1,1114.5 645.1,1101.8 625.5,1093.6 604.7,1086.3 596.3,1082.8 591.6,1080.3 591.1,1079.6 591.1,1078.9 591.9,1078.4 593.5,1078.1 605.9,1077.7 607.4,1076.7 602.1,1073.9 565.9,1060.7 500.6,1039.2 493.1,1035.9 489.5,1035.5 482.4,1033.4 475.4,1033.5 466.1,1038.1 456.7,1041.8 449.6,1044.2 440.1,1046.4 428.1,1051.8ZM512.1,1027.9 509.8,1027.8 507.5,1028.6 499.3,1033.9 519.7,1035.6 525.8,1035.8 528.4,1035.1 524.1,1032.7Z" fill="#640000" stroke="#640000" stroke-width=".5" fill-rule="evenodd"/>
<path d="M248.1,1122.1 242.5,1121.8 234.0,1122.2 229.4,1121.7 274.2,1141.3 282.2,1145.6 287.2,1148.9 298.2,1157.6 301.6,1159.6 367.5,1184.7 440.5,1213.2 455.8,1219.9 487.9,1235.2 515.8,1247.4 602.7,1283.4 640.6,1298.4 629.0,1296.1 617.1,1291.9 691.9,1324.3 694.5,1325.2 697.4,1325.2 695.3,1322.5 694.7,1320.3 693.8,1319.9 693.5,1317.9 692.0,1317.2 692.3,1315.5 690.1,1314.5 691.0,1313.1 688.3,1311.8 690.2,1310.8 687.0,1309.3 690.5,1308.8 686.9,1307.2 692.2,1307.3 688.0,1305.5 695.7,1306.3 690.5,1304.2 701.7,1306.1 694.6,1303.4 713.4,1307.5 703.0,1304.0 727.4,1310.8 731.5,1308.0 736.8,1303.6 739.4,1300.5 742.1,1296.5 744.8,1289.8 750.2,1279.5 755.5,1271.3 760.8,1264.3 765.9,1258.9 773.6,1252.8 776.2,1250.3 791.6,1231.5 797.2,1227.0 778.7,1218.5 770.7,1214.5 768.0,1212.5 763.9,1210.7 762.1,1209.2 757.1,1207.1 755.2,1205.6 745.5,1201.4 710.7,1188.4 689.5,1179.8 658.5,1168.4 621.7,1156.0 564.8,1135.9 536.2,1126.5 527.7,1123.1 519.2,1119.0 515.7,1116.5 514.8,1115.2 513.4,1114.3 514.6,1113.6 511.7,1112.2 514.2,1111.9 507.4,1109.5 507.0,1108.6 493.9,1103.7 467.1,1094.9 438.9,1082.3 427.9,1078.1 396.0,1067.5 389.2,1073.9 379.3,1080.4 374.4,1084.2 364.4,1089.0 356.9,1094.5 349.4,1102.1 342.0,1111.7 339.5,1114.2 334.4,1116.9 329.2,1119.0 318.8,1121.5 316.2,1123.0 311.1,1127.5 308.5,1128.9 297.9,1132.4 295.3,1132.7 279.0,1131.9 273.9,1132.3 253.8,1123.6ZM621.4,1277.1 606.1,1269.7 601.1,1266.7 595.1,1264.3 595.6,1263.1 581.6,1258.1 582.9,1257.5 529.9,1239.8 507.6,1231.3 511.8,1230.8 540.5,1237.7 564.6,1246.6 601.1,1258.4 602.4,1259.5 637.2,1270.2 658.8,1278.2 656.9,1279.1 666.2,1282.5 664.5,1283.3 676.3,1287.6 673.5,1287.9 685.4,1292.4 673.6,1289.9 689.0,1295.6 653.3,1285.9 681.1,1295.1ZM516.4,1029.5 524.1,1032.7 528.3,1035.1 525.8,1035.7 519.7,1035.5 499.3,1033.8 496.1,1035.6 493.0,1035.9 500.5,1039.3 565.9,1060.8 602.1,1074.0 607.3,1076.7 605.9,1077.7 593.5,1078.0 591.8,1078.3 591.1,1078.8 591.1,1079.6 591.6,1080.4 596.2,1082.9 604.7,1086.4 625.5,1093.7 645.1,1101.8 681.0,1114.6 689.6,1118.3 688.5,1119.5 674.8,1122.0 674.5,1122.2 674.3,1123.4 675.2,1123.9 780.7,1158.8 833.5,1178.4 844.1,1182.9 845.3,1184.9 841.9,1185.6 830.5,1186.4 825.0,1187.7 825.2,1188.4 829.0,1191.0 839.9,1195.5 854.8,1200.7 859.0,1200.6 862.3,1199.4 869.2,1202.3 883.5,1207.6 917.7,1219.4 913.6,1213.3 909.6,1209.4 907.5,1208.0 889.9,1200.0 886.2,1196.8 884.1,1195.7 866.9,1189.5 806.7,1161.5 779.3,1150.9 740.0,1129.1 663.1,1096.2 623.6,1075.8 595.6,1061.0 555.9,1045.3 552.0,1042.5 551.7,1043.6Z" fill="#aa0000" stroke="#aa0000" stroke-width=".5" fill-rule="evenodd"/>
<path d="M511.8,1230.7 507.5,1231.3 529.9,1239.9 582.8,1257.5 581.5,1258.1 595.6,1263.2 595.0,1264.3 601.1,1266.7 606.1,1269.7 621.4,1277.2 683.2,1295.8 654.4,1286.2 689.7,1295.8 674.1,1290.0 685.8,1292.5 673.7,1287.9 676.5,1287.6 664.6,1283.3 666.3,1282.4 657.0,1279.1 658.9,1278.2 637.2,1270.1 602.5,1259.4 601.2,1258.3 564.6,1246.5 540.5,1237.7ZM822.0,1212.0 848.2,1221.7 894.0,1239.9 915.4,1249.2 933.1,1258.3 928.4,1249.6 924.7,1241.2 919.4,1223.6 917.7,1219.4 883.6,1207.5 869.2,1202.3 862.3,1199.4 859.0,1200.5 856.7,1200.7 849.9,1200.0 847.3,1199.3 845.2,1199.7 835.7,1204.1ZM727.4,1310.8 701.9,1303.6 712.8,1307.4 694.1,1303.3 701.3,1306.0 690.2,1304.1 695.4,1306.3 687.8,1305.4 692.1,1307.3 686.7,1307.2 690.4,1308.8 686.9,1309.3 690.1,1310.8 688.2,1311.8 691.0,1313.1 690.0,1314.5 692.2,1315.5 692.0,1317.2 693.5,1318.0 693.7,1319.9 694.6,1320.4 695.2,1322.5 697.4,1325.2 705.2,1322.7 713.1,1319.2ZM925.9,1200.1 950.9,1208.3 960.1,1211.9 963.8,1213.9 964.3,1215.0 966.3,1216.0 968.0,1217.5 991.1,1229.2 994.8,1219.4 997.1,1214.4 1001.5,1207.0 1004.7,1202.9 1008.7,1187.0Z" fill="#ee0000" stroke="#ee0000" stroke-width=".5" fill-rule="evenodd"/>
<path d="M848.2,1221.6 822.0,1212.0 813.9,1217.3 801.6,1224.1 793.5,1229.8 808.5,1235.6 849.3,1252.5 856.7,1256.3 862.1,1259.5 868.6,1261.4 881.9,1271.8 884.4,1274.2 890.3,1276.7 891.4,1277.8 918.2,1289.4 942.8,1298.6 941.0,1282.6 962.6,1288.3 964.9,1283.0 967.1,1280.2 975.4,1273.4 977.6,1269.8 980.9,1261.9 991.2,1229.1 968.0,1217.4 966.3,1215.9 964.3,1214.9 963.8,1213.8 960.1,1211.8 950.9,1208.3 925.9,1200.1 905.4,1203.3 901.8,1205.5 907.4,1208.1 911.6,1211.2 915.6,1215.9 917.5,1219.0 919.4,1223.6 924.7,1241.2 928.3,1249.6 933.0,1258.2 915.4,1249.2 894.0,1239.9ZM939.7,1275.7 937.6,1267.4 935.2,1261.8 953.1,1269.7 960.2,1273.8 960.6,1274.2 959.9,1274.6 961.4,1275.8 960.1,1276.3 960.6,1276.9 953.9,1277.0Z" fill="#ff0000" stroke="#ff0000" stroke-width=".5" fill-rule="evenodd"/>
<path d="M789.0,1234.3 776.1,1250.2 773.6,1252.8 768.0,1257.2 775.8,1261.3 786.3,1266.0 814.6,1274.6 817.4,1276.6 823.1,1278.5 824.4,1279.6 838.8,1285.2 841.7,1287.0 870.2,1298.9 890.2,1303.1 890.8,1302.9 902.8,1305.2 904.1,1304.6 907.3,1304.8 913.3,1301.4 927.9,1315.2 947.5,1335.3 949.4,1335.5 951.9,1329.2 960.0,1296.7 962.6,1288.2 941.0,1282.6 942.8,1298.6 918.2,1289.3 891.4,1277.7 890.3,1276.6 884.5,1274.1 881.9,1271.7 868.6,1261.3 862.1,1259.4 856.7,1256.2 849.3,1252.5 808.5,1235.5 793.5,1229.7ZM935.1,1261.7 937.6,1267.4 939.7,1275.7 953.9,1277.1 960.7,1276.9 960.2,1276.3 961.5,1275.8 960.0,1274.6 960.7,1274.3 960.3,1273.7 953.2,1269.6Z" fill="#ff4000" stroke="#ff4000" stroke-width=".5" fill-rule="evenodd"/>
<path d="M764.1,1260.5 758.9,1266.5 791.0,1295.8 793.4,1299.0 797.1,1300.4 798.5,1301.9 807.7,1301.4 828.0,1283.8 835.7,1289.1 866.3,1314.8 875.1,1322.7 875.9,1322.8 907.3,1304.8 904.1,1304.5 902.8,1305.1 890.8,1302.8 890.2,1303.0 870.2,1298.8 841.7,1287.0 838.9,1285.1 824.5,1279.6 823.1,1278.5 817.5,1276.6 814.6,1274.6 786.3,1265.9 775.8,1261.3 768.0,1257.1Z" fill="#ffc000" stroke="#ffc000" stroke-width=".5" fill-rule="evenodd"/>
<path d="M798.6,1301.8 797.1,1300.4 795.4,1299.8 802.1,1306.0 807.7,1301.4Z" fill="#d0ff00" stroke="#d0ff00" stroke-width=".5" fill-rule="evenodd"/>
<path d="M141.5 1100.5L178.6 1650.2M178.6 1650.2L622.5 1864.3M622.5 1864.3L977.1 1618.9" stroke="#000" stroke-width="2" fill="none" stroke-linecap="round"/>
<path d="M141.5 1100.5L128.1 1102.9M148.0 1197.3L134.9 1200.0M154.3 1291.2L141.4 1294.1M160.5 1382.3L147.8 1385.3M166.4 1470.6L154.0 1473.9M172.2 1556.4L159.9 1559.8M177.9 1639.7L165.8 1643.2M178.6 1650.2L166.9 1656.1M258.0 1688.5L246.3 1694.7M341.7 1728.9L330.1 1735.4M430.1 1771.5L418.6 1778.4M523.6 1816.5L512.1 1823.9M622.5 1864.3L611.2 1872.1M622.5 1864.3L633.2 1869.4M673.5 1829.0L684.1 1833.9M722.3 1795.2L732.9 1799.9M769.2 1762.8L779.7 1767.3M814.1 1731.7L824.5 1736.0M857.3 1701.8L867.6 1706.0M898.8 1673.1L909.0 1677.1M938.7 1645.5L948.9 1649.4M977.1 1618.9L987.2 1622.6" stroke="#000" stroke-width="1.6" fill="none" stroke-linecap="butt"/>
<g font-family="Liberation Serif, serif" font-weight="bold" font-size="46" transform="matrix(0.6679 -0.2096 0.0567 0.7980 123.9 1118.1)"><text x="-23.00">0</text></g>
<g font-family="Liberation Serif, serif" font-weight="bold" font-size="46" transform="matrix(0.6610 -0.2303 0.0567 0.7980 130.8 1215.1)"><text transform="translate(-50.10 0) scale(1.13 1)">−</text><text x="-23.00">6</text></g>
<g font-family="Liberation Serif, serif" font-weight="bold" font-size="46" transform="matrix(0.6539 -0.2498 0.0567 0.7980 137.5 1309.1)"><text transform="translate(-73.10 0) scale(1.13 1)">−</text><text x="-46.00">12</text></g>
<g font-family="Liberation Serif, serif" font-weight="bold" font-size="46" transform="matrix(0.6466 -0.2682 0.0567 0.7980 143.9 1400.2)"><text transform="translate(-73.10 0) scale(1.13 1)">−</text><text x="-46.00">18</text></g>
<g font-family="Liberation Serif, serif" font-weight="bold" font-size="46" transform="matrix(0.6391 -0.2855 0.0567 0.7980 150.2 1488.6)"><text transform="translate(-73.10 0) scale(1.13 1)">−</text><text x="-46.00">24</text></g>
<g font-family="Liberation Serif, serif" font-weight="bold" font-size="46" transform="matrix(0.6316 -0.3018 0.0567 0.7980 156.3 1574.4)"><text transform="translate(-73.10 0) scale(1.13 1)">−</text><text x="-46.00">30</text></g>
<g font-family="Liberation Serif, serif" font-weight="bold" font-size="46" transform="matrix(0.6240 -0.3171 0.0567 0.7980 162.2 1657.7)"><text transform="translate(-73.10 0) scale(1.13 1)">−</text><text x="-46.00">36</text></g>
<text font-family="Liberation Serif, serif" font-weight="bold" font-size="58" text-anchor="middle" transform="matrix(-0.0727 -0.8670 0.7228 -0.2931 81.0 1422.1)">Reflection loss(dB)</text>
<g font-family="Liberation Serif, serif" font-weight="bold" font-size="46" transform="matrix(0.7124 -0.3640 0.6923 0.4010 171.7 1662.0)"><text x="-57.50">5.5</text></g>
<g font-family="Liberation Serif, serif" font-weight="bold" font-size="46" transform="matrix(0.7039 -0.3801 0.6923 0.4010 251.8 1701.2)"><text x="-57.50">6.0</text></g>
<g font-family="Liberation Serif, serif" font-weight="bold" font-size="46" transform="matrix(0.6942 -0.3975 0.6923 0.4010 336.2 1742.5)"><text x="-57.50">6.5</text></g>
<g font-family="Liberation Serif, serif" font-weight="bold" font-size="46" transform="matrix(0.6831 -0.4163 0.6923 0.4010 425.4 1786.2)"><text x="-57.50">7.0</text></g>
<g font-family="Liberation Serif, serif" font-weight="bold" font-size="46" transform="matrix(0.6704 -0.4366 0.6923 0.4010 519.8 1832.4)"><text x="-57.50">7.5</text></g>
<g font-family="Liberation Serif, serif" font-weight="bold" font-size="46" transform="matrix(0.6557 -0.4584 0.6923 0.4010 619.8 1881.3)"><text x="-57.50">8.0</text></g>
<text font-family="Liberation Serif, serif" font-weight="bold" font-size="58" text-anchor="middle" transform="matrix(0.6662 0.3445 -0.6473 0.3789 302.0 1804.6)">Thickness(mm)</text>
<g font-family="Liberation Serif, serif" font-weight="bold" font-size="46" transform="matrix(0.7194 0.3500 -0.5241 0.3673 629.9 1879.7)"><text x="0.00">2</text></g>
<g font-family="Liberation Serif, serif" font-weight="bold" font-size="46" transform="matrix(0.7242 0.3398 -0.5241 0.3673 681.3 1843.7)"><text x="0.00">4</text></g>
<g font-family="Liberation Serif, serif" font-weight="bold" font-size="46" transform="matrix(0.7287 0.3301 -0.5241 0.3673 730.5 1809.2)"><text x="0.00">6</text></g>
<g font-family="Liberation Serif, serif" font-weight="bold" font-size="46" transform="matrix(0.7328 0.3209 -0.5241 0.3673 777.7 1776.1)"><text x="0.00">8</text></g>
<g font-family="Liberation Serif, serif" font-weight="bold" font-size="46" transform="matrix(0.7366 0.3122 -0.5241 0.3673 822.9 1744.4)"><text x="0.00">10</text></g>
<g font-family="Liberation Serif, serif" font-weight="bold" font-size="46" transform="matrix(0.7400 0.3039 -0.5241 0.3673 866.4 1713.9)"><text x="0.00">12</text></g>
<g font-family="Liberation Serif, serif" font-weight="bold" font-size="46" transform="matrix(0.7432 0.2960 -0.5241 0.3673 908.1 1684.7)"><text x="0.00">14</text></g>
<g font-family="Liberation Serif, serif" font-weight="bold" font-size="46" transform="matrix(0.7462 0.2884 -0.5241 0.3673 948.3 1656.6)"><text x="0.00">16</text></g>
<g font-family="Liberation Serif, serif" font-weight="bold" font-size="46" transform="matrix(0.7489 0.2813 -0.5241 0.3673 986.9 1629.5)"><text x="0.00">18</text></g>
<text font-family="Liberation Serif, serif" font-weight="bold" font-size="58" text-anchor="middle" transform="matrix(0.5530 -0.4127 0.6268 0.2636 902.0 1775.9)">Frequency(GHz)</text>
<text font-family="Liberation Serif, serif" font-weight="bold" font-size="79" x="56.7" y="1054.4">(c)</text>
<rect x="1050.0" y="1053.30" width="53.8" height="46.15" fill="#640000"/>
<rect x="1050.0" y="1099.15" width="53.8" height="46.15" fill="#aa0000"/>
<rect x="1050.0" y="1145.00" width="53.8" height="46.15" fill="#ee0000"/>
<rect x="1050.0" y="1190.85" width="53.8" height="46.15" fill="#ff0000"/>
<rect x="1050.0" y="1236.70" width="53.8" height="46.15" fill="#ff4000"/>
<rect x="1050.0" y="1282.55" width="53.8" height="46.15" fill="#ffc000"/>
<rect x="1050.0" y="1328.40" width="53.8" height="46.15" fill="#d0ff00"/>
<rect x="1050.0" y="1374.25" width="53.8" height="46.15" fill="#55ff00"/>
<rect x="1050.0" y="1420.10" width="53.8" height="46.15" fill="#00ffe6"/>
<rect x="1050.0" y="1465.95" width="53.8" height="46.15" fill="#0068ff"/>
<rect x="1050.0" y="1511.80" width="53.8" height="46.15" fill="#7800ff"/>
<rect x="1050.0" y="1557.65" width="53.8" height="46.15" fill="#6e0078"/>
<rect x="1050.0" y="1053.3" width="53.8" height="550.2" fill="none" stroke="#000" stroke-width="1.3"/>
<path d="M1103.8 1053.3h13.3M1103.8 1145.0h13.3M1103.8 1236.7h13.3M1103.8 1328.4h13.3M1103.8 1420.1h13.3M1103.8 1511.8h13.3M1103.8 1603.5h13.3" stroke="#000" stroke-width="1.3"/>
<g font-family="Liberation Serif, serif" font-weight="bold" font-size="46" transform="translate(1132.9 1069.2)"><text x="0.00">0</text></g>
<g font-family="Liberation Serif, serif" font-weight="bold" font-size="46" transform="translate(1131.4 1160.9)"><text transform="translate(0.00 0) scale(1.13 1)">−</text><text x="27.10">6</text></g>
<g font-family="Liberation Serif, serif" font-weight="bold" font-size="46" transform="translate(1131.4 1252.6)"><text transform="translate(0.00 0) scale(1.13 1)">−</text><text x="27.10">12</text></g>
<g font-family="Liberation Serif, serif" font-weight="bold" font-size="46" transform="translate(1131.4 1344.3)"><text transform="translate(0.00 0) scale(1.13 1)">−</text><text x="27.10">18</text></g>
<g font-family="Liberation Serif, serif" font-weight="bold" font-size="46" transform="translate(1131.4 1436.0)"><text transform="translate(0.00 0) scale(1.13 1)">−</text><text x="27.10">24</text></g>
<g font-family="Liberation Serif, serif" font-weight="bold" font-size="46" transform="translate(1131.4 1527.7)"><text transform="translate(0.00 0) scale(1.13 1)">−</text><text x="27.10">30</text></g>
<g font-family="Liberation Serif, serif" font-weight="bold" font-size="46" transform="translate(1131.4 1619.4)"><text transform="translate(0.00 0) scale(1.13 1)">−</text><text x="27.10">36</text></g>
</g>
<g>
<path d="M489.2,2461.6 411.9,2500.8 428.3,2509.9 436.5,2515.1 437.9,2516.5 443.8,2520.0 446.1,2522.0 451.4,2525.0 455.7,2528.1 475.9,2540.6 515.4,2560.4 551.0,2578.9 580.4,2592.4 577.3,2591.9 598.3,2601.6 593.8,2601.0 609.1,2608.1 579.2,2604.1 571.9,2602.3 564.5,2601.6 565.5,2602.9 561.6,2602.7 570.1,2607.2 570.9,2608.7 613.3,2629.7 672.9,2657.9 701.1,2671.0 738.4,2687.2 777.0,2705.1 794.9,2713.9 808.3,2704.7 701.0,2648.8 681.1,2636.3 675.1,2631.7 673.6,2629.8 670.2,2627.5 668.7,2625.4 665.5,2623.4 663.9,2621.1 661.4,2619.6 660.0,2617.2 658.2,2616.1 657.0,2613.7 655.8,2612.9 655.0,2610.5 654.3,2610.2 653.6,2607.6 653.5,2605.4 651.4,2602.3 646.4,2598.0 622.3,2582.5 610.5,2573.7 608.9,2571.6 606.9,2570.2 606.3,2568.4 604.7,2567.2 604.5,2565.5 603.0,2564.5 602.8,2562.6 601.6,2561.8 601.5,2559.9 600.6,2559.3 600.7,2557.5 600.0,2557.0 600.6,2555.3 600.1,2555.0 600.4,2553.1 599.4,2551.4 594.3,2548.5 577.6,2540.3 577.1,2539.5 566.3,2534.0 564.9,2532.5 557.8,2528.7 539.3,2517.8 537.3,2515.2 536.2,2514.6 536.1,2512.7 535.6,2512.4 535.7,2508.6 530.0,2502.4 531.0,2502.6 529.4,2500.3 533.3,2501.5 531.7,2499.2 533.5,2499.6 531.3,2497.1 532.8,2497.3 530.6,2494.9 531.7,2494.8 530.5,2493.5 530.9,2493.3 530.4,2492.3 528.5,2490.2 529.1,2489.9 526.9,2487.7 527.6,2487.3 524.5,2484.9 524.9,2484.3ZM222.9,2596.6 178.5,2619.1 351.3,2702.4 343.2,2696.9 318.2,2681.7 304.3,2672.8 284.8,2659.3 271.2,2650.3 255.9,2640.7 245.6,2633.5 243.0,2631.3 241.3,2629.1 242.0,2626.8 245.1,2627.0 245.7,2625.9 249.3,2626.4 250.0,2625.3 252.8,2625.4 253.3,2624.2 254.6,2623.7 255.1,2622.4 256.3,2621.8 256.1,2620.3 257.3,2619.7 253.1,2616.5 250.3,2613.8ZM768.6,2723.7 759.4,2722.3 759.6,2722.7 758.7,2724.6 769.4,2731.5 777.5,2726.0Z" fill="#640000" stroke="#640000" stroke-width=".5" fill-rule="evenodd"/>
<path d="M265.8,2574.8 222.9,2596.6 250.3,2613.8 253.1,2616.5 257.2,2619.7 256.0,2620.3 256.2,2621.8 255.0,2622.4 254.6,2623.6 253.2,2624.1 252.8,2625.4 250.0,2625.2 249.3,2626.4 245.7,2625.9 245.1,2627.0 242.0,2626.8 241.2,2629.1 243.0,2631.3 245.5,2633.5 255.9,2640.7 271.2,2650.3 304.3,2672.9 318.2,2681.8 343.2,2696.9 351.3,2702.4 622.5,2833.2 645.7,2817.2 637.1,2810.0 611.7,2792.1 602.1,2786.2 595.6,2781.7 587.1,2776.8 561.7,2760.8 477.1,2712.0 431.7,2686.9 380.2,2656.7 359.2,2642.5 343.0,2630.5 329.3,2619.2 300.1,2598.8 284.1,2588.3ZM411.9,2500.7 350.2,2532.0 351.3,2534.3 351.5,2536.5 350.7,2540.8 352.7,2543.9 358.5,2548.7 368.4,2555.3 384.0,2564.3 441.4,2595.3 468.4,2610.9 488.3,2623.8 496.2,2629.4 511.0,2642.7 512.6,2644.6 516.3,2647.4 518.5,2649.7 522.5,2652.4 526.7,2655.8 537.5,2663.2 554.2,2673.1 576.9,2685.8 632.1,2715.4 675.8,2736.6 705.1,2751.4 725.2,2762.1 769.4,2731.5 758.8,2724.5 759.6,2722.7 759.5,2722.3 768.6,2723.7 777.4,2726.0 794.9,2713.9 777.0,2705.1 738.4,2687.2 701.1,2670.9 672.9,2657.8 613.3,2629.7 570.9,2608.7 570.2,2607.1 561.8,2602.8 565.6,2602.9 564.5,2601.6 571.9,2602.3 579.2,2604.1 582.6,2604.3 587.9,2605.4 609.3,2608.1 593.9,2601.1 598.5,2601.6 577.5,2591.9 580.6,2592.4 551.0,2578.9 515.5,2560.4 475.9,2540.6 455.7,2528.1 451.4,2525.0 446.1,2521.9 443.8,2519.9 437.9,2516.4 436.5,2515.1 428.3,2509.8ZM489.2,2461.6 524.9,2484.3 524.4,2484.9 527.5,2487.3 526.8,2487.7 529.1,2489.9 528.5,2490.2 530.3,2492.3 530.9,2493.3 530.5,2493.5 531.7,2494.8 530.5,2494.8 532.7,2497.2 531.3,2497.1 533.5,2499.5 531.6,2499.1 533.3,2501.5 529.4,2500.2 531.0,2502.6 529.9,2502.4 535.7,2508.6 535.6,2512.4 536.0,2512.7 536.2,2514.6 537.2,2515.2 539.3,2517.8 557.7,2528.8 564.9,2532.5 566.2,2534.0 577.0,2539.5 577.6,2540.3 594.3,2548.5 599.3,2551.5 600.4,2553.1 600.0,2555.0 600.5,2555.3 599.9,2557.1 600.6,2557.5 600.5,2559.4 601.4,2560.0 601.6,2561.9 602.7,2562.6 603.0,2564.5 604.4,2565.5 604.7,2567.3 606.3,2568.4 606.9,2570.2 608.8,2571.6 610.4,2573.7 629.7,2587.5 646.4,2598.0 651.3,2602.3 653.5,2605.4 653.5,2607.7 654.3,2610.2 654.9,2610.6 655.8,2613.0 657.0,2613.7 658.1,2616.1 660.0,2617.2 661.4,2619.6 663.9,2621.1 665.5,2623.5 668.7,2625.4 670.2,2627.6 673.6,2629.8 675.0,2631.7 681.1,2636.4 701.0,2648.8 808.2,2704.7 861.0,2668.2 843.5,2658.6 842.5,2657.7 829.9,2651.2 828.0,2649.6 817.5,2644.2 814.1,2641.7 806.9,2637.9 802.5,2634.7 798.1,2632.4 784.5,2622.9 780.6,2619.6 769.3,2612.8 756.0,2601.3 755.2,2600.2 751.4,2597.5 750.4,2596.2 746.0,2593.3 744.9,2591.8 740.4,2589.1 738.9,2587.3 734.5,2584.8 731.9,2582.3 728.5,2580.5 723.8,2577.0 721.7,2575.9 713.0,2569.5 697.2,2560.6 696.9,2560.1 686.0,2552.4 685.7,2551.5 682.4,2549.1 682.1,2548.0 674.8,2541.0 671.9,2539.2 669.9,2537.1 667.5,2535.6 665.2,2533.2 655.0,2525.2 650.8,2522.3 634.7,2513.8 619.7,2504.4 618.9,2503.3 615.0,2500.8 614.7,2499.7 611.9,2497.8 612.3,2496.8 610.0,2495.2 610.5,2494.2 608.7,2492.9 609.1,2491.7 607.6,2490.6 607.9,2489.3 606.6,2488.3 606.2,2486.7 605.0,2485.9 603.5,2483.7 602.3,2483.0 596.6,2476.0 588.3,2470.6 583.4,2467.0 580.1,2464.0 578.1,2461.5 578.1,2460.8 576.0,2458.9 576.3,2458.3 574.0,2456.4 574.5,2455.8 571.8,2453.8 572.2,2453.1 568.8,2451.0 568.4,2449.8 565.0,2447.8 563.8,2446.2 560.5,2444.5 558.4,2442.4 556.1,2441.2 545.3,2433.1ZM888.4,2557.3 894.5,2560.9 899.6,2566.3 899.2,2566.6 905.4,2570.3 905.1,2570.8 915.5,2576.0 916.6,2577.2 926.5,2581.7 928.9,2583.8 936.3,2587.2 940.8,2590.3 945.2,2592.3 958.7,2600.5 977.2,2587.8 858.8,2543.6Z" fill="#aa0000" stroke="#aa0000" stroke-width=".5" fill-rule="evenodd"/>
<path d="M350.2,2532.0 322.7,2546.0 339.7,2556.0 349.2,2563.0 349.8,2564.6 351.8,2566.5 351.5,2566.9 352.2,2567.8 351.4,2568.0 352.2,2569.0 349.7,2569.1 351.3,2571.0 347.6,2570.5 349.6,2572.6 343.2,2571.0 347.3,2573.9 344.5,2573.9 359.1,2581.6 358.0,2581.8 379.8,2592.1 398.9,2604.0 429.2,2621.0 475.8,2645.1 573.2,2698.5 592.5,2709.8 679.4,2764.4 702.4,2777.9 725.2,2762.1 705.2,2751.4 675.8,2736.5 632.1,2715.4 576.9,2685.8 554.3,2673.1 537.5,2663.1 526.7,2655.8 522.5,2652.3 518.5,2649.7 516.4,2647.3 512.6,2644.6 511.1,2642.7 496.2,2629.4 478.4,2617.3 465.9,2609.4 441.4,2595.2 384.0,2564.3 368.4,2555.2 358.5,2548.7 352.7,2543.9 350.7,2540.8 351.6,2536.5 351.4,2534.3ZM283.8,2565.7 265.7,2574.9 284.1,2588.3 300.1,2598.9 329.2,2619.2 343.0,2630.5 359.1,2642.6 380.2,2656.8 431.7,2686.9 477.1,2712.0 561.7,2760.9 587.1,2776.8 595.6,2781.7 602.1,2786.2 611.7,2792.2 637.1,2810.1 645.6,2817.2 666.7,2802.6 618.8,2776.7 575.6,2751.9 535.4,2729.4 519.1,2719.6 467.4,2686.6 454.3,2677.2 434.8,2662.5 381.1,2627.1 369.2,2619.6 349.6,2608.3 327.2,2594.6 306.8,2581.1 306.9,2580.7 301.5,2577.4 301.3,2576.6ZM574.7,2440.1 577.3,2440.4 585.8,2442.8 591.2,2443.8 552.6,2429.4 545.3,2433.1 556.1,2441.2 558.3,2442.4 560.5,2444.5 563.8,2446.2 565.0,2447.9 568.4,2449.8 568.8,2451.0 572.2,2453.1 571.7,2453.8 574.5,2455.8 574.0,2456.4 576.2,2458.3 576.0,2459.0 578.0,2460.9 578.0,2461.5 580.1,2464.1 583.4,2467.0 588.2,2470.6 596.5,2476.0 602.3,2483.1 603.5,2483.8 605.0,2485.9 606.2,2486.7 606.6,2488.3 607.8,2489.3 607.6,2490.6 609.1,2491.7 608.7,2492.9 610.5,2494.2 610.0,2495.2 612.2,2496.8 611.8,2497.8 614.7,2499.7 614.9,2500.8 618.9,2503.3 619.7,2504.5 625.3,2507.7 627.2,2509.3 634.7,2513.8 650.7,2522.3 655.0,2525.2 665.2,2533.2 667.5,2535.6 669.9,2537.1 671.9,2539.2 674.8,2541.1 682.0,2548.0 682.4,2549.1 685.7,2551.5 686.0,2552.4 696.9,2560.1 697.2,2560.6 713.0,2569.5 721.6,2575.9 723.8,2577.1 728.5,2580.5 731.9,2582.4 734.5,2584.9 738.9,2587.3 740.3,2589.2 744.8,2591.8 746.0,2593.4 750.4,2596.2 751.4,2597.5 755.2,2600.3 756.0,2601.4 769.3,2612.8 780.6,2619.7 790.8,2627.5 793.2,2628.7 798.1,2632.4 802.5,2634.8 806.9,2638.0 814.1,2641.7 817.5,2644.2 828.0,2649.6 829.9,2651.2 842.5,2657.8 843.4,2658.6 860.9,2668.2 873.2,2659.7 855.0,2649.6 846.7,2644.2 845.3,2643.0 838.3,2638.9 837.7,2637.7 838.3,2636.7 837.7,2635.4 835.2,2632.2 831.2,2629.7 830.0,2627.9 825.5,2625.3 823.5,2623.1 819.1,2620.8 816.3,2618.0 812.6,2616.2 800.6,2606.7 764.9,2587.8 763.0,2586.2 758.7,2583.9 754.8,2580.8 750.1,2578.2 748.9,2576.4 745.8,2574.5 744.9,2572.7 742.8,2571.4 742.3,2569.6 740.8,2568.6 740.0,2566.6 738.9,2565.9 737.3,2563.5 736.5,2563.0 732.9,2557.5 713.2,2545.8 695.0,2535.9 691.5,2533.3 685.4,2530.3 682.9,2528.0 678.4,2525.8 676.5,2523.5 673.2,2522.0 671.9,2519.8 670.4,2519.0 669.5,2516.9 668.4,2516.3 667.6,2512.7 655.8,2503.8 649.7,2500.1 649.1,2499.3 639.9,2492.8 639.0,2491.6 636.5,2489.7 635.7,2488.4 633.5,2486.8 632.8,2485.4 630.6,2483.9 630.4,2482.6 629.2,2481.5 629.3,2480.3 628.1,2479.3 628.1,2477.9 626.7,2477.0 626.5,2475.5 624.7,2474.4 624.2,2472.7 621.4,2471.4 620.6,2469.5 619.0,2468.8 617.0,2465.0 584.1,2447.4 582.0,2445.8 576.6,2443.1 575.6,2441.6 574.3,2440.7ZM786.2,2516.8 791.9,2521.9 795.4,2523.8 800.7,2527.7 806.9,2531.6 806.9,2532.0 816.2,2536.8 816.8,2537.7 818.8,2538.7 828.3,2543.1 830.2,2544.7 838.3,2548.4 841.9,2551.0 847.8,2553.7 852.6,2557.0 855.8,2558.5 862.2,2562.8 865.0,2565.2 879.4,2572.8 886.8,2577.4 891.4,2581.1 894.3,2584.1 894.5,2585.0 896.0,2586.7 895.6,2587.5 896.4,2588.9 895.8,2589.6 896.4,2590.9 895.6,2591.6 895.6,2592.2 896.3,2593.2 895.8,2593.7 897.2,2595.3 896.8,2596.2 900.7,2598.5 900.6,2599.7 906.6,2602.7 907.5,2604.5 913.0,2607.1 914.9,2609.4 918.6,2611.2 921.8,2614.2 923.9,2615.2 930.6,2620.0 958.7,2600.5 945.2,2592.3 940.8,2590.3 936.3,2587.1 928.9,2583.8 926.5,2581.7 916.6,2577.1 915.5,2575.9 905.1,2570.8 905.4,2570.2 899.2,2566.6 899.7,2566.3 894.5,2560.9 888.4,2557.3 858.8,2543.6 784.7,2516.0Z" fill="#ee0000" stroke="#ee0000" stroke-width=".5" fill-rule="evenodd"/>
<path d="M322.7,2546.0 283.8,2565.7 301.2,2576.7 301.5,2577.4 306.9,2580.7 306.8,2581.1 327.1,2594.6 349.5,2608.3 369.2,2619.7 381.1,2627.1 434.8,2662.5 454.2,2677.2 467.4,2686.6 519.1,2719.7 535.4,2729.4 575.6,2751.9 618.8,2776.8 666.6,2802.6 674.6,2797.1 640.1,2777.7 613.8,2761.6 612.6,2760.2 597.8,2751.4 587.1,2744.4 584.1,2742.4 578.5,2737.1 576.8,2735.9 581.7,2736.0 580.4,2735.2 592.5,2738.1 592.3,2737.9 595.5,2739.0 664.2,2771.6 693.0,2784.4 702.4,2777.9 679.4,2764.4 592.5,2709.8 573.2,2698.5 475.8,2645.0 429.2,2621.0 398.9,2604.0 379.8,2592.1 358.1,2581.7 359.2,2581.6 344.6,2573.9 347.4,2574.0 343.3,2571.1 349.6,2572.6 347.7,2570.6 351.4,2571.0 349.7,2569.1 352.3,2569.1 351.4,2568.0 352.3,2567.8 351.5,2566.9 351.8,2566.5 349.8,2564.6 349.2,2563.0 339.8,2556.0ZM574.3,2440.7 575.6,2441.6 576.6,2443.1 582.0,2445.8 584.0,2447.5 616.9,2465.1 619.0,2468.8 620.5,2469.5 621.3,2471.4 624.1,2472.7 624.7,2474.4 626.5,2475.5 626.6,2477.0 628.0,2478.0 628.1,2479.3 629.2,2480.3 629.1,2481.5 630.4,2482.6 630.6,2483.9 632.8,2485.4 633.4,2486.8 635.7,2488.4 636.5,2489.7 639.0,2491.6 639.8,2492.8 649.0,2499.3 649.6,2500.1 655.8,2503.8 667.6,2512.7 667.6,2514.2 667.9,2514.4 668.3,2516.4 669.4,2516.9 670.3,2519.0 671.9,2519.8 673.2,2522.0 676.4,2523.6 678.4,2525.8 682.9,2528.1 685.3,2530.3 691.4,2533.4 695.0,2536.0 713.2,2545.9 732.8,2557.5 736.5,2563.0 737.3,2563.5 738.8,2565.9 739.9,2566.6 740.8,2568.6 742.2,2569.6 742.8,2571.4 744.9,2572.7 745.8,2574.6 748.9,2576.4 750.1,2578.2 754.8,2580.8 758.7,2583.9 763.0,2586.2 764.9,2587.9 800.6,2606.8 812.6,2616.2 816.2,2618.1 819.0,2620.8 823.5,2623.1 825.5,2625.4 829.9,2627.9 831.2,2629.7 835.1,2632.2 837.7,2635.5 838.2,2636.7 837.6,2637.7 838.3,2638.9 845.3,2643.0 846.7,2644.3 855.0,2649.6 873.2,2659.7 887.1,2650.1 878.8,2645.1 865.9,2638.3 864.9,2637.4 852.5,2631.1 850.5,2629.5 840.6,2624.5 838.0,2622.3 830.8,2618.7 827.4,2615.9 819.4,2612.3 816.0,2609.2 811.9,2607.4 809.8,2604.6 809.1,2604.3 807.9,2602.0 794.5,2594.6 786.0,2589.4 785.6,2588.7 779.7,2585.0 779.4,2584.1 774.8,2581.2 774.3,2580.0 770.4,2577.5 769.4,2576.0 765.7,2573.7 761.6,2568.8 756.4,2566.2 755.1,2564.2 750.9,2562.2 749.3,2559.9 746.4,2558.5 744.7,2556.0 743.4,2555.4 741.9,2552.9 742.3,2553.0 741.4,2552.3 715.8,2539.4 714.9,2538.4 704.0,2533.2 703.2,2531.9 696.6,2528.5 696.0,2527.1 689.5,2524.0 689.2,2522.5 685.2,2520.5 685.1,2519.0 683.4,2518.0 683.4,2516.3 682.0,2515.5 682.0,2513.8 681.4,2513.4 680.1,2509.8 680.0,2509.2 680.5,2509.3 679.6,2505.9 667.6,2497.1 667.5,2496.7 664.3,2494.1 664.4,2493.6 661.4,2491.2 661.4,2490.6 657.7,2488.0 657.6,2487.2 652.4,2484.3 652.1,2483.2 643.0,2479.1 642.4,2477.7 635.9,2474.7 635.2,2473.1 630.3,2471.0 629.6,2469.1 628.1,2468.4 627.3,2466.5 630.0,2467.2 627.0,2464.5 629.2,2465.1 623.5,2461.5 610.4,2454.9 607.1,2452.5 611.6,2453.3 631.2,2458.7 591.1,2443.8 585.8,2442.8 577.3,2440.4 574.7,2440.0ZM786.3,2516.7 755.7,2505.2 761.4,2508.0 766.6,2512.2 767.4,2513.3 770.6,2515.0 770.6,2516.5 774.9,2518.4 774.9,2520.0 777.7,2521.2 778.8,2523.6 777.5,2523.3 780.6,2526.0 779.4,2525.6 782.6,2527.5 822.7,2546.7 825.8,2548.9 833.7,2552.6 836.3,2554.9 838.9,2556.4 840.7,2558.5 843.0,2559.8 843.9,2561.8 845.8,2562.8 845.9,2564.5 847.2,2565.3 846.8,2566.9 847.9,2567.5 847.0,2569.0 848.0,2569.5 846.8,2570.9 847.1,2571.2 845.5,2573.0 845.1,2573.0 844.3,2574.0 843.8,2573.9 843.1,2575.6 842.4,2575.4 843.9,2578.0 844.5,2578.4 857.7,2585.0 857.9,2585.4 872.5,2592.4 873.3,2593.4 884.7,2598.9 886.5,2600.6 895.0,2604.7 898.7,2607.4 906.0,2610.8 911.1,2614.3 916.4,2616.6 921.2,2620.4 922.9,2621.1 925.5,2623.5 930.6,2620.0 923.9,2615.2 921.8,2614.2 918.6,2611.2 914.9,2609.4 913.0,2607.1 907.6,2604.5 906.6,2602.7 900.6,2599.7 900.7,2598.5 896.8,2596.2 897.3,2595.3 895.8,2593.7 896.3,2593.2 895.6,2592.2 895.6,2591.6 896.4,2590.9 895.9,2589.6 896.5,2588.9 895.7,2587.5 896.0,2586.7 894.5,2585.0 894.4,2584.1 891.4,2581.0 886.8,2577.4 879.4,2572.8 865.0,2565.2 862.2,2562.7 855.8,2558.5 852.6,2557.0 847.8,2553.7 841.9,2551.0 838.4,2548.4 830.2,2544.6 828.4,2543.1 818.8,2538.7 816.8,2537.6 816.3,2536.7 806.9,2532.0 806.9,2531.5 800.7,2527.7 795.4,2523.7 791.9,2521.8 790.5,2520.0Z" fill="#ff0000" stroke="#ff0000" stroke-width=".5" fill-rule="evenodd"/>
<path d="M607.1,2452.5 610.4,2455.0 623.5,2461.6 629.0,2465.1 626.9,2464.5 629.9,2467.2 627.2,2466.4 628.1,2468.4 629.6,2469.2 630.3,2471.0 635.2,2473.1 635.9,2474.8 642.3,2477.7 642.9,2479.1 652.0,2483.3 652.4,2484.3 657.5,2487.2 657.7,2488.0 661.4,2490.6 661.4,2491.2 664.3,2493.6 664.3,2494.1 667.5,2496.7 667.5,2497.1 679.6,2505.9 680.4,2509.2 680.0,2509.2 680.0,2509.8 681.3,2513.4 681.9,2513.8 682.0,2515.5 683.4,2516.4 683.4,2518.0 685.1,2519.0 685.2,2520.6 689.1,2522.5 689.4,2524.0 696.0,2527.1 696.6,2528.6 703.2,2531.9 703.9,2533.2 714.9,2538.4 715.8,2539.4 741.4,2552.4 742.2,2553.0 741.8,2552.9 743.4,2555.5 744.7,2556.1 746.4,2558.6 749.3,2559.9 750.9,2562.2 755.0,2564.2 756.4,2566.3 761.5,2568.8 765.7,2573.7 769.4,2576.0 770.3,2577.5 774.3,2580.1 774.8,2581.2 779.4,2584.2 779.7,2585.1 785.5,2588.7 785.9,2589.4 794.4,2594.7 807.8,2602.1 809.0,2604.3 809.8,2604.6 811.8,2607.4 816.0,2609.3 819.4,2612.4 827.4,2615.9 830.8,2618.7 838.0,2622.3 840.6,2624.6 850.5,2629.5 852.5,2631.2 864.9,2637.4 865.9,2638.4 878.8,2645.2 887.1,2650.1 892.7,2646.2 859.9,2629.6 858.0,2628.0 840.2,2620.1 837.7,2617.8 825.9,2612.7 824.2,2610.3 820.6,2608.7 819.9,2607.3 821.8,2607.9 821.1,2607.0 828.0,2609.2 824.4,2606.1 829.4,2607.6 823.7,2603.7 827.1,2604.7 818.1,2599.3 818.9,2599.5 814.9,2597.5 795.3,2584.6 790.7,2580.1 780.2,2574.9 779.3,2573.6 770.1,2569.2 768.9,2567.5 761.3,2564.0 759.9,2561.9 755.1,2559.7 754.0,2557.9 754.3,2558.0 754.1,2557.7 760.7,2559.8 756.6,2556.6 765.6,2559.6 754.1,2553.6 761.0,2555.9 745.9,2549.6 735.3,2544.5 723.3,2538.2 723.0,2537.5 710.8,2531.7 710.6,2530.7 702.9,2526.9 702.9,2525.8 699.3,2523.7 699.3,2522.4 696.2,2520.6 696.1,2519.2 694.6,2518.2 694.1,2516.5 693.0,2515.8 692.7,2514.6 693.1,2514.7 693.0,2514.2 694.9,2514.5 694.4,2512.8 697.7,2513.6 697.0,2511.8 700.4,2512.6 698.9,2510.6 702.4,2511.4 699.5,2508.9 703.2,2509.8 700.1,2507.2 703.8,2508.2 698.5,2504.6 701.7,2505.5 690.2,2499.9 680.4,2493.9 664.8,2486.8 664.4,2486.0 652.9,2480.8 652.4,2479.6 643.2,2475.5 642.6,2474.0 639.5,2472.4 638.8,2471.0 646.1,2472.9 643.8,2470.8 653.1,2473.6 648.7,2470.8 655.8,2472.7 647.4,2468.5 650.3,2469.2 646.2,2466.8 680.8,2477.2 631.2,2458.7 611.6,2453.2 607.2,2452.2ZM580.3,2735.1 581.6,2736.0 576.7,2735.9 578.5,2737.1 584.1,2742.4 589.4,2746.1 612.6,2760.3 613.8,2761.6 640.1,2777.7 674.6,2797.1 693.1,2784.4 664.2,2771.6 595.5,2739.0 592.1,2737.8 592.4,2738.0ZM755.7,2505.1 727.1,2494.5 736.9,2499.4 742.2,2503.4 742.6,2504.1 749.1,2507.4 749.1,2508.4 758.3,2512.5 758.3,2513.8 764.8,2516.7 765.4,2518.3 766.0,2518.8 762.1,2517.8 764.5,2519.9 755.5,2517.1 761.6,2520.7 750.0,2517.1 767.2,2524.8 750.0,2519.0 778.7,2529.8 805.7,2542.6 807.0,2543.8 812.4,2546.9 813.4,2548.2 818.4,2551.0 819.0,2552.3 823.6,2554.8 823.7,2556.1 827.4,2558.1 827.0,2559.3 830.4,2561.2 829.7,2562.4 832.7,2564.0 831.7,2565.2 832.9,2566.0 831.8,2567.8 830.0,2567.4 829.4,2568.3 827.0,2567.9 826.4,2569.2 822.5,2568.2 823.7,2570.2 819.6,2569.2 824.6,2572.6 817.6,2570.5 831.6,2577.3 824.7,2575.1 840.0,2581.3 866.6,2594.3 868.4,2595.7 882.5,2602.2 885.8,2604.5 898.7,2610.2 902.5,2613.1 909.7,2616.3 913.7,2619.9 909.7,2618.6 914.9,2622.1 911.0,2620.9 921.0,2626.6 925.6,2623.5 923.0,2621.1 921.3,2620.3 916.5,2616.6 911.1,2614.3 906.0,2610.7 898.7,2607.4 895.0,2604.6 886.5,2600.6 884.7,2598.8 873.4,2593.4 872.6,2592.4 858.0,2585.4 857.8,2585.0 844.0,2578.0 842.5,2575.5 843.2,2575.6 843.8,2574.0 844.4,2574.1 845.1,2573.0 845.5,2573.1 847.2,2571.2 846.8,2570.9 848.0,2569.5 847.1,2569.0 847.9,2567.5 846.8,2566.8 847.3,2565.3 845.9,2564.5 845.8,2562.8 844.0,2561.7 843.0,2559.8 840.8,2558.5 839.0,2556.4 836.3,2554.8 833.8,2552.6 825.8,2548.9 822.7,2546.7 782.6,2527.5 779.5,2525.7 780.7,2526.0 777.6,2523.4 778.8,2523.7 777.7,2521.2 774.9,2520.0 774.9,2518.4 770.6,2516.4 770.6,2515.0 767.4,2513.3 766.7,2512.2 761.4,2508.0Z" fill="#ff4000" stroke="#ff4000" stroke-width=".5" fill-rule="evenodd"/>
<path d="M638.7,2471.0 639.4,2472.5 642.6,2474.1 643.2,2475.6 652.4,2479.6 652.9,2480.8 664.4,2486.1 664.8,2486.9 680.4,2494.0 690.2,2499.9 701.5,2505.5 698.4,2504.6 703.7,2508.1 700.0,2507.1 703.1,2509.8 699.5,2508.8 702.3,2511.4 698.9,2510.5 700.3,2512.6 696.9,2511.7 697.6,2513.5 694.4,2512.7 694.8,2514.4 693.0,2514.1 693.1,2514.6 692.6,2514.6 693.0,2515.8 694.1,2516.5 694.6,2518.2 696.1,2519.3 696.1,2520.7 699.3,2522.5 699.3,2523.7 702.8,2525.8 702.9,2527.0 710.6,2530.8 710.8,2531.8 722.9,2537.5 723.3,2538.2 735.2,2544.6 745.9,2549.7 760.4,2555.7 753.8,2553.5 765.4,2559.5 756.5,2556.5 760.6,2559.7 754.0,2557.6 755.0,2559.8 759.9,2562.0 761.3,2564.0 768.8,2567.5 770.0,2569.2 779.2,2573.6 780.1,2575.0 790.6,2580.2 795.3,2584.6 814.9,2597.5 827.0,2604.6 823.5,2603.6 829.3,2607.6 824.3,2606.1 827.9,2609.2 821.1,2606.9 821.7,2607.9 819.8,2607.3 820.6,2608.7 824.1,2610.3 825.9,2612.7 837.6,2617.8 840.2,2620.1 858.0,2628.0 859.9,2629.6 892.7,2646.2 896.0,2643.9 889.0,2640.3 861.2,2627.9 859.6,2626.4 840.1,2617.9 838.7,2616.0 832.2,2613.1 831.6,2611.9 835.3,2613.1 834.7,2612.3 849.0,2617.0 846.4,2614.8 859.2,2618.7 855.7,2616.3 869.5,2620.4 865.2,2617.8 878.5,2621.6 872.8,2618.6 887.9,2622.9 879.4,2619.1 898.2,2624.6 878.4,2616.5 915.6,2630.3 921.1,2626.6 911.2,2621.0 915.0,2622.2 909.8,2618.7 913.9,2619.9 909.8,2616.2 902.5,2613.1 898.8,2610.1 885.9,2604.5 882.5,2602.1 868.5,2595.7 866.6,2594.3 840.1,2581.3 825.3,2575.3 831.9,2577.5 817.9,2570.6 824.7,2572.7 819.7,2569.2 823.7,2570.2 822.6,2568.3 826.4,2569.2 827.0,2567.9 829.4,2568.3 830.0,2567.4 831.8,2567.8 833.0,2566.0 831.8,2565.2 832.8,2564.0 829.7,2562.3 830.4,2561.2 827.0,2559.3 827.4,2558.1 823.7,2556.0 823.7,2554.8 819.1,2552.3 818.4,2551.0 813.5,2548.2 812.4,2546.9 807.0,2543.7 805.7,2542.6 778.7,2529.8 751.1,2519.4 767.6,2525.0 750.3,2517.2 761.7,2520.8 755.6,2517.2 764.6,2520.0 762.2,2517.9 766.0,2518.9 765.4,2518.3 764.8,2516.7 758.3,2513.7 758.3,2512.5 749.1,2508.4 749.1,2507.4 742.6,2504.1 742.2,2503.4 736.9,2499.4 727.1,2494.5 680.7,2477.2 652.7,2468.6 646.1,2466.8 650.1,2469.1 647.3,2468.4 655.6,2472.6 648.5,2470.7 652.9,2473.5 643.7,2470.7 646.0,2472.9ZM732.4,2539.6 732.3,2539.1 720.8,2533.4 720.8,2532.7 715.4,2529.5 715.3,2528.6 710.4,2525.8 710.4,2524.7 708.0,2523.0 707.6,2521.7 705.7,2520.4 705.4,2519.5 706.1,2519.6 706.1,2519.2 709.4,2519.7 709.0,2518.3 715.3,2519.9 714.8,2518.6 721.9,2520.3 720.9,2518.9 729.0,2521.0 727.2,2519.4 737.9,2522.2 736.4,2520.9 750.2,2524.7 748.4,2523.6 768.9,2529.5 767.8,2529.0 775.7,2531.7 801.7,2547.0 801.7,2547.7 807.7,2551.1 807.5,2551.9 813.0,2554.9 812.5,2555.8 817.6,2558.6 816.8,2559.5 818.8,2561.0 818.0,2561.9 818.3,2562.3 818.1,2562.5 815.0,2561.9 814.5,2562.6 810.3,2561.8 809.9,2562.9 802.8,2561.1 803.6,2562.5 795.5,2560.5 798.7,2562.6 781.7,2557.4 787.9,2560.5 749.3,2547.6ZM693.8,2497.8 670.1,2486.9 669.8,2486.1 656.2,2480.1 655.7,2479.0 650.9,2476.5 650.3,2475.4 662.4,2478.7 660.8,2477.2 677.3,2482.1 675.0,2480.6 689.9,2484.7 687.2,2483.3 695.6,2485.5 694.8,2485.0 709.1,2489.1 712.7,2490.9 718.2,2495.0 727.9,2499.9 727.9,2500.5 741.9,2506.7 741.9,2507.6 752.0,2512.2 752.5,2513.5 753.2,2514.0 746.8,2512.3 748.6,2513.9 731.9,2508.8 735.4,2510.9 708.6,2502.4 712.6,2504.2ZM765.9,2562.6 766.5,2562.7 766.3,2562.4 779.3,2566.6 776.3,2564.2 798.7,2571.6 792.7,2568.5 836.9,2583.3 859.2,2593.7 860.9,2594.9 881.2,2603.8 883.9,2605.9 896.6,2611.5 900.3,2614.6 891.1,2611.7 895.0,2614.4 881.5,2610.1 888.1,2613.9 868.5,2607.4 879.7,2612.7 833.8,2596.7 848.4,2602.7 821.9,2593.0 820.2,2591.7 804.2,2583.8 803.8,2583.2 789.4,2576.3 788.6,2575.2 776.3,2569.5 775.2,2567.9 766.8,2564.1Z" fill="#ffc000" stroke="#ffc000" stroke-width=".5" fill-rule="evenodd"/>
<path d="M650.3,2475.3 650.9,2476.6 655.7,2479.0 656.2,2480.1 669.8,2486.2 670.1,2486.9 693.8,2497.8 712.9,2504.4 708.9,2502.5 735.6,2511.0 732.1,2508.8 748.7,2514.0 746.9,2512.4 753.3,2514.1 752.5,2513.5 752.0,2512.1 741.9,2507.6 741.9,2506.7 727.9,2500.4 727.9,2499.9 718.2,2494.9 712.7,2490.9 709.2,2489.1 694.7,2484.9 695.5,2485.4 687.0,2483.3 689.7,2484.6 674.8,2480.6 677.1,2482.0 660.7,2477.1 662.3,2478.6ZM708.6,2500.5 709.7,2501.2 695.7,2496.7 669.3,2484.7 669.0,2484.0 662.4,2480.6 662.0,2479.8 678.8,2484.5 677.9,2483.6 704.9,2491.5 739.3,2507.7 739.6,2508.7 740.6,2509.3 731.7,2506.9 732.9,2508.0ZM807.8,2551.1 801.8,2547.7 801.8,2547.0 794.5,2543.0 794.2,2542.3 778.1,2532.7 767.5,2528.8 768.6,2529.4 748.3,2523.5 750.0,2524.7 736.3,2520.9 737.8,2522.2 727.2,2519.4 728.9,2520.9 720.8,2518.9 721.8,2520.3 714.8,2518.5 715.3,2519.8 709.0,2518.3 709.4,2519.6 706.1,2519.1 706.1,2519.5 705.4,2519.5 705.6,2520.5 707.5,2521.7 707.9,2523.0 710.3,2524.7 710.4,2525.8 715.3,2528.6 715.3,2529.5 720.7,2532.7 720.8,2533.4 732.3,2539.1 732.4,2539.6 749.3,2547.6 788.2,2560.6 782.0,2557.5 798.8,2562.7 795.7,2560.5 803.7,2562.5 802.9,2561.2 809.9,2562.9 810.3,2561.9 814.5,2562.6 815.0,2561.9 818.1,2562.6 818.4,2562.3 818.0,2561.9 818.9,2561.0 816.8,2559.5 817.6,2558.5 812.5,2555.8 813.0,2554.9 807.5,2551.9ZM719.3,2524.5 719.2,2524.2 724.1,2525.0 723.8,2524.0 733.1,2526.3 732.8,2525.4 743.6,2528.1 743.1,2527.4 755.9,2530.6 755.4,2530.1 771.2,2534.4 788.2,2544.1 788.1,2544.5 795.8,2548.8 795.5,2549.3 802.5,2553.2 802.0,2553.8 804.8,2555.9 804.2,2556.6 804.7,2557.2 800.1,2556.4 799.7,2556.9 793.8,2555.9 793.5,2556.6 783.3,2554.1 783.8,2554.9 771.8,2551.9 773.1,2552.8 751.6,2546.2 738.9,2540.0 738.9,2539.6 731.5,2535.3 731.5,2534.8 724.8,2531.0 724.8,2530.2 721.4,2527.8 721.1,2526.9 718.4,2525.1 718.2,2524.4ZM765.8,2562.5 766.8,2564.1 775.2,2567.9 776.3,2569.5 788.6,2575.2 789.4,2576.3 803.8,2583.2 804.2,2583.8 820.2,2591.7 821.9,2593.0 849.4,2603.1 834.6,2597.0 880.0,2612.9 868.8,2607.5 888.3,2614.0 881.7,2610.2 895.1,2614.5 891.2,2611.8 900.4,2614.7 896.7,2611.5 883.9,2605.9 881.2,2603.7 861.0,2594.9 859.3,2593.7 836.9,2583.3 792.5,2568.4 798.5,2571.5 776.2,2564.2 779.2,2566.5 766.3,2562.4 766.5,2562.7ZM808.6,2582.9 791.4,2575.0 790.6,2573.9 778.6,2568.4 777.9,2567.2 798.1,2573.4 796.2,2571.9 834.8,2584.7 863.8,2597.4 865.5,2598.8 883.6,2606.7 886.9,2609.5 872.7,2604.9 875.4,2606.8 852.3,2599.4 855.3,2601.1 824.9,2591.1 808.9,2583.5ZM832.1,2613.1 838.6,2616.0 840.1,2618.0 859.5,2626.5 861.2,2628.0 889.0,2640.3 896.0,2643.9 897.8,2642.7 882.4,2635.9 881.7,2635.2 854.4,2623.3 853.3,2621.8 843.8,2617.5 843.3,2616.6 848.9,2618.4 848.4,2617.7 870.2,2624.9 868.7,2623.5 889.5,2629.9 888.3,2629.1 908.6,2635.2 915.7,2630.3 877.2,2616.0 897.8,2624.5 879.1,2618.9 887.6,2622.8 872.6,2618.6 878.3,2621.5 865.0,2617.7 869.4,2620.3 855.6,2616.2 859.1,2618.6 846.3,2614.7 848.9,2617.0 834.7,2612.3 835.2,2613.1 831.5,2611.9Z" fill="#d0ff00" stroke="#d0ff00" stroke-width=".5" fill-rule="evenodd"/>
<path d="M661.9,2479.7 662.4,2480.7 668.9,2484.0 669.3,2484.8 695.7,2496.8 733.0,2508.1 731.8,2507.0 740.7,2509.3 739.7,2508.6 739.3,2507.7 704.9,2491.5 677.8,2483.5 678.7,2484.4ZM716.7,2501.6 717.3,2502.1 697.1,2495.9 682.5,2489.4 682.3,2489.0 674.0,2484.8 673.7,2484.2 703.2,2492.5 726.7,2503.2 726.9,2503.9 728.1,2504.6ZM718.2,2524.4 718.4,2525.1 721.1,2526.9 721.4,2527.9 724.7,2530.3 724.8,2531.0 731.5,2534.8 731.5,2535.4 738.8,2539.6 738.9,2540.0 751.5,2546.2 773.2,2552.9 771.9,2551.9 783.8,2554.9 783.4,2554.1 793.5,2556.6 793.8,2555.9 799.8,2557.0 800.1,2556.5 804.5,2557.4 804.7,2557.2 804.2,2556.7 804.9,2555.9 802.0,2553.8 802.6,2553.1 795.5,2549.3 795.8,2548.7 788.1,2544.5 788.3,2544.1 771.3,2534.3 755.3,2530.0 755.8,2530.6 743.1,2527.4 743.5,2528.1 732.8,2525.4 733.1,2526.2 723.8,2523.9 724.0,2524.9 719.2,2524.2 719.3,2524.5ZM753.9,2544.8 739.3,2536.2 739.3,2535.8 735.0,2532.7 734.8,2532.1 731.3,2529.8 731.1,2529.3 738.8,2530.3 738.7,2529.7 767.7,2536.5 787.6,2547.8 787.3,2548.2 791.0,2550.9 790.5,2551.4 791.1,2552.1 777.4,2550.0 777.2,2550.3ZM777.8,2567.1 778.6,2568.5 790.6,2573.9 791.4,2575.0 808.5,2583.0 808.9,2583.5 824.9,2591.1 855.5,2601.2 852.5,2599.5 875.5,2606.9 872.8,2605.0 887.0,2609.5 883.6,2606.7 865.6,2598.8 863.8,2597.4 834.8,2584.6 796.1,2571.9 798.0,2573.4ZM806.2,2579.9 790.5,2572.8 789.9,2571.9 817.1,2580.4 816.3,2579.7 833.6,2585.5 870.7,2602.0 873.6,2604.3 854.4,2598.2 855.9,2599.2 826.8,2589.9 806.7,2580.6ZM843.8,2617.6 853.2,2621.8 854.4,2623.3 881.7,2635.2 882.4,2635.9 897.8,2642.7 899.0,2641.8 868.8,2628.6 868.0,2627.6 855.6,2622.0 855.2,2621.3 862.6,2623.7 862.3,2623.2 891.7,2632.9 891.2,2632.4 906.1,2637.0 908.7,2635.2 888.2,2629.0 889.4,2629.9 868.5,2623.5 870.2,2624.8 848.4,2617.7 848.8,2618.3 843.3,2616.5Z" fill="#55ff00" stroke="#55ff00" stroke-width=".5" fill-rule="evenodd"/>
<path d="M674.0,2484.8 682.3,2489.0 682.5,2489.4 697.1,2496.0 717.3,2502.2 716.7,2501.6 728.1,2504.6 726.9,2503.9 726.7,2503.2 703.2,2492.5 673.7,2484.1ZM695.7,2494.0 685.5,2488.6 701.9,2493.3 714.1,2498.8 715.6,2499.9 701.8,2496.3ZM787.7,2547.8 767.7,2536.5 738.6,2529.6 738.8,2530.2 731.1,2529.3 731.2,2529.8 734.8,2532.1 735.0,2532.7 739.2,2535.8 739.3,2536.2 753.9,2544.8 777.2,2550.4 777.4,2550.0 791.1,2552.2 790.5,2551.4 791.0,2550.9 787.3,2548.2ZM744.1,2534.3 753.7,2535.4 764.9,2538.2 772.9,2542.5 777.2,2546.0 776.9,2546.2 777.7,2547.0 756.7,2543.1 753.9,2541.5ZM789.9,2571.8 790.5,2572.9 826.7,2589.9 856.0,2599.3 854.5,2598.2 873.7,2604.4 870.7,2602.0 833.6,2585.4 816.2,2579.6 817.0,2580.3ZM828.1,2589.0 802.5,2577.2 802.1,2576.6 832.5,2586.2 857.8,2597.3 860.4,2599.2ZM855.5,2622.0 868.0,2627.6 868.8,2628.6 899.0,2641.9 899.8,2641.3 883.3,2634.0 882.8,2633.4 867.4,2626.5 867.1,2626.0 904.5,2638.0 906.1,2637.0 891.1,2632.3 891.6,2632.8 862.2,2623.1 862.5,2623.6 855.1,2621.2Z" fill="#00ffe6" stroke="#00ffe6" stroke-width=".5" fill-rule="evenodd"/>
<path d="M685.6,2489.0 698.3,2495.3 715.7,2499.9 714.2,2498.8 701.9,2493.2 685.5,2488.6ZM697.4,2493.1 700.7,2493.9 703.2,2495.2 699.9,2494.4ZM744.1,2534.3 753.9,2541.5 756.7,2543.1 761.1,2544.2 777.8,2547.0 777.0,2546.2 777.2,2546.0 772.9,2542.5 764.9,2538.1 753.7,2535.3 745.8,2534.3ZM757.2,2539.3 762.0,2539.9 764.4,2542.0 760.0,2541.1ZM802.4,2577.3 828.1,2589.0 860.5,2599.2 857.9,2597.3 832.5,2586.1 802.0,2576.5ZM814.3,2581.3 831.6,2586.7 845.1,2592.6 847.3,2594.1 829.2,2588.3ZM867.4,2626.5 882.8,2633.5 883.2,2634.0 899.8,2641.3 900.7,2640.7 879.1,2630.7 903.6,2638.6 904.6,2638.0 867.0,2625.9Z" fill="#0068ff" stroke="#0068ff" stroke-width=".5" fill-rule="evenodd"/>
<path d="M697.4,2493.1 699.9,2494.4 703.3,2495.3 700.7,2493.9ZM762.0,2539.9 757.2,2539.3 760.0,2541.1 764.4,2542.0ZM814.5,2581.7 829.2,2588.3 847.4,2594.1 845.1,2592.6 831.7,2586.7 814.2,2581.3ZM826.6,2586.1 830.8,2587.3 834.2,2589.0 830.1,2587.7ZM879.2,2631.1 900.7,2640.7 901.4,2640.2 891.1,2635.4 902.8,2639.2 903.7,2638.6 879.0,2630.6Z" fill="#7800ff" stroke="#7800ff" stroke-width=".5" fill-rule="evenodd"/>
<path d="M826.6,2586.2 830.1,2587.7 834.4,2589.1 830.8,2587.3ZM891.1,2635.4 901.4,2640.2 902.8,2639.2Z" fill="#6e0078" stroke="#6e0078" stroke-width=".5" fill-rule="evenodd"/>
<path d="M258.0 2657.4L629.8 2458.2M341.7 2697.8L710.5 2488.3M430.1 2740.4L795.2 2519.9M523.6 2785.4L883.9 2553.0M231.5 2592.2L673.5 2797.9M282.4 2566.4L722.3 2764.1M331.5 2541.5L769.2 2731.7M378.9 2517.5L814.1 2700.6M424.6 2494.3L857.3 2670.7M468.7 2471.9L898.8 2642.0M511.4 2450.3L938.7 2614.4" stroke="#fff" stroke-opacity=".5" stroke-width=".85" fill="none"/>
<path d="M141.5 2069.4L551.9 1942.9M551.9 1942.9L1016.5 2049.5M1016.5 2049.5L977.1 2587.8" stroke="#222" stroke-width="1.1" fill="none"/>
<path d="M551.9 1942.9L552.6 2429.4" stroke="#666" stroke-width="1.1" fill="none"/>
<path d="M406.3,2031.3 399.9,2035.1 417.5,2041.6 434.2,2048.7 436.7,2050.1 468.9,2063.2 511.6,2077.2 550.1,2090.3 581.9,2099.8 578.8,2099.5 601.4,2106.4 596.7,2106.0 613.2,2111.0 580.9,2108.1 572.9,2106.9 564.8,2106.4 565.9,2107.3 561.7,2107.2 571.0,2110.3 571.8,2111.4 618.0,2126.4 683.1,2146.5 713.9,2155.9 754.9,2167.6 797.3,2180.5 817.0,2186.9 821.2,2183.2 823.6,2181.9 828.4,2180.5 831.5,2180.2 713.7,2140.1 691.9,2131.2 685.3,2127.9 683.7,2126.5 679.9,2124.9 678.3,2123.4 674.8,2122.0 673.0,2120.3 670.3,2119.3 668.7,2117.6 666.8,2116.8 665.5,2115.1 664.2,2114.5 663.2,2112.8 662.6,2112.6 661.7,2110.8 661.7,2109.2 659.3,2107.0 653.9,2103.9 627.6,2092.9 614.7,2086.7 613.0,2085.2 610.8,2084.2 610.2,2082.9 608.5,2082.1 608.2,2080.9 606.6,2080.2 606.3,2078.9 605.1,2078.3 604.9,2077.0 603.9,2076.6 604.0,2075.2 603.3,2074.9 603.9,2073.7 603.4,2073.5 603.8,2072.2 602.6,2071.0 566.7,2058.6 565.2,2057.6 537.6,2047.2 535.3,2045.4 534.2,2045.0 534.1,2043.7 533.6,2043.5 533.7,2040.8 527.6,2036.5 528.6,2036.6 527.0,2035.0 531.1,2035.9 529.4,2034.2 531.4,2034.5 529.0,2032.8 530.6,2032.9 528.2,2031.2 529.4,2031.2 528.1,2030.2 528.5,2030.1 528.0,2029.4 526.0,2027.9 526.6,2027.7 524.2,2026.2 525.0,2025.9 521.6,2024.2 522.1,2023.8 480.1,2006.6 473.1,2005.1 465.1,2007.6 459.0,2010.4 456.7,2012.0 454.4,2014.2 452.0,2015.3 428.1,2021.0 420.9,2024.0ZM188.4,2100.5 185.5,2100.6 179.7,2102.5 168.1,2107.3 165.2,2108.2 144.1,2109.3 331.7,2177.9 322.8,2173.9 280.7,2156.6 259.6,2147.0 217.4,2128.5 214.6,2126.9 212.8,2125.4 213.7,2123.8 217.0,2124.0 217.7,2123.2 221.6,2123.5 222.4,2122.7 225.4,2122.8 226.0,2121.9 227.5,2121.6 228.0,2120.7 229.3,2120.3 229.1,2119.2 230.4,2118.7 223.0,2114.5 193.5,2102.3ZM778.4,2192.8 778.5,2193.1 777.6,2194.5 789.4,2199.5 791.7,2197.7 794.2,2196.5 798.1,2195.5 788.4,2193.8Z" fill="#640000" stroke="#640000" stroke-width=".5" fill-rule="evenodd"/>
<path d="M193.5,2102.3 196.8,2103.7 202.4,2106.0 194.4,2102.6ZM335.8,2105.7 334.9,2108.8 337.0,2111.1 343.2,2114.6 353.7,2119.4 370.4,2126.1 432.0,2149.0 458.3,2159.5 471.8,2165.4 492.6,2175.3 515.0,2189.4 535.6,2199.5 546.7,2204.1 578.3,2216.4 638.2,2238.6 685.8,2254.5 717.8,2265.7 739.7,2273.8 750.3,2245.8 755.6,2236.0 760.9,2229.4 770.0,2222.7 773.7,2219.3 776.3,2216.4 786.6,2202.3 789.5,2199.5 777.7,2194.4 778.6,2193.1 778.4,2192.9 788.4,2193.9 798.1,2195.5 806.3,2195.0 808.8,2193.9 811.3,2192.0 817.0,2186.8 797.4,2180.5 754.9,2167.6 714.0,2155.9 683.1,2146.5 618.0,2126.4 571.8,2111.4 571.0,2110.3 561.9,2107.2 566.0,2107.3 564.9,2106.4 572.9,2106.9 590.2,2109.1 613.5,2111.0 597.0,2106.1 601.7,2106.4 579.1,2099.6 582.3,2099.8 550.2,2090.3 511.6,2077.2 468.9,2063.2 436.7,2050.0 434.2,2048.6 417.5,2041.5 399.9,2035.1 389.2,2042.6 379.4,2051.5 374.4,2055.1 359.4,2061.8 354.4,2066.4 349.5,2074.6 339.9,2094.8 337.4,2098.9 334.4,2102.3 335.6,2104.0ZM205.7,2107.3 223.0,2114.6 230.3,2118.7 229.0,2119.2 229.2,2120.2 227.9,2120.6 227.5,2121.5 225.9,2121.9 225.4,2122.8 222.4,2122.7 221.6,2123.5 217.7,2123.1 217.0,2123.9 213.6,2123.7 212.8,2125.4 214.6,2127.0 217.4,2128.6 259.6,2147.0 280.7,2156.7 322.8,2174.0 330.5,2177.5 352.8,2188.8 365.3,2194.5 420.9,2217.0 469.9,2235.8 561.8,2272.6 571.5,2276.8 650.8,2314.7 653.5,2315.2 645.7,2310.8 637.0,2300.8 628.6,2293.1 524.0,2250.5 458.4,2218.4 365.2,2173.7 274.4,2135.5ZM483.6,2007.9 522.0,2023.8 521.5,2024.2 524.9,2025.9 524.1,2026.2 526.5,2027.7 525.9,2027.9 527.9,2029.4 528.4,2030.1 528.0,2030.2 529.3,2031.1 528.1,2031.2 530.4,2032.8 528.9,2032.7 531.2,2034.4 529.3,2034.2 531.0,2035.8 526.8,2034.9 528.5,2036.5 527.4,2036.5 533.7,2040.8 533.5,2043.5 534.0,2043.7 534.2,2045.0 535.3,2045.5 537.5,2047.3 565.2,2057.6 566.7,2058.7 602.6,2071.0 603.7,2072.2 603.3,2073.5 603.9,2073.7 603.2,2074.9 604.0,2075.3 603.9,2076.6 604.9,2077.0 605.0,2078.3 606.3,2078.9 606.6,2080.2 608.1,2080.9 608.4,2082.2 610.2,2083.0 610.8,2084.3 612.9,2085.3 614.7,2086.7 627.6,2093.0 653.8,2104.0 659.2,2107.0 661.6,2109.2 661.6,2110.8 662.5,2112.6 663.2,2112.9 664.1,2114.6 665.5,2115.1 666.7,2116.8 668.7,2117.6 670.2,2119.3 673.0,2120.4 674.8,2122.0 678.2,2123.5 679.9,2125.0 683.7,2126.6 685.2,2127.9 691.9,2131.3 713.7,2140.1 831.3,2180.2 826.4,2180.9 834.7,2183.9 838.4,2185.8 849.8,2189.8 851.9,2191.0 885.8,2203.6 884.3,2201.1 882.3,2198.7 880.1,2197.0 869.3,2190.8 862.7,2186.5 843.6,2178.7 809.1,2161.1 783.6,2147.2 740.8,2129.0 718.9,2119.0 714.9,2116.5 653.9,2086.4 645.0,2079.7 596.3,2056.1 591.0,2050.7 555.2,2030.4 534.5,2012.9 532.3,2011.8 525.6,2012.1 522.1,2011.6 512.1,2005.6 507.6,2003.5 505.3,2004.0 500.8,2006.0 496.2,2008.8 494.0,2009.3 489.4,2009.5ZM881.2,2111.5 913.3,2121.7 920.0,2124.3 925.6,2128.2 925.1,2128.5 931.8,2131.2 931.6,2131.6 942.9,2135.4 944.1,2136.3 954.8,2139.6 957.5,2141.2 965.5,2143.7 970.4,2146.0 975.2,2147.5 990.0,2153.6 994.1,2143.6 996.3,2139.4 1000.3,2134.4 1006.7,2130.5 1008.1,2128.4 1011.7,2115.0 909.1,2107.1Z" fill="#aa0000" stroke="#aa0000" stroke-width=".5" fill-rule="evenodd"/>
<path d="M334.4,2102.3 324.7,2108.1 322.2,2110.2 319.7,2113.2 317.2,2117.4 314.8,2123.5 308.5,2149.9 365.2,2173.7 458.4,2218.4 524.0,2250.5 628.6,2293.1 634.2,2298.0 640.6,2305.1 688.8,2326.9 713.8,2337.4 720.0,2320.7 731.0,2296.0 736.5,2280.9 739.7,2273.7 717.8,2265.6 685.8,2254.4 638.2,2238.6 578.3,2216.3 553.7,2206.9 535.6,2199.4 515.1,2189.4 491.0,2174.3 471.9,2165.3 458.4,2159.4 432.0,2148.9 370.5,2126.1 353.7,2119.4 343.2,2114.5 337.1,2111.0 334.9,2108.7 335.9,2105.6 335.7,2104.0ZM252.8,2148.9 263.1,2170.2 264.8,2172.7 281.9,2180.5 283.5,2181.7 288.0,2183.7 293.9,2187.0 310.7,2194.9 334.5,2205.5 355.5,2214.2 414.5,2242.0 425.5,2247.4 460.4,2266.1 501.4,2285.2 533.4,2299.4 555.2,2308.4 623.4,2336.5 675.3,2356.8 672.2,2342.7 669.6,2334.4 667.0,2327.5 664.4,2322.3 661.7,2319.2 659.0,2317.1 645.2,2310.2 653.3,2315.1 650.8,2314.7 571.5,2276.8 561.8,2272.5 470.0,2235.8 420.9,2217.0 365.4,2194.4 342.8,2183.9 330.6,2177.4ZM799.5,2135.3 805.7,2138.5 807.2,2139.8 811.0,2141.3 816.7,2144.3 823.3,2147.2 823.3,2147.6 833.4,2151.2 834.0,2151.9 836.1,2152.7 857.1,2160.2 861.0,2162.2 867.3,2164.2 882.8,2171.2 885.9,2173.0 901.4,2178.9 909.3,2182.4 914.3,2185.2 917.5,2187.6 917.8,2188.3 919.3,2189.6 919.0,2190.1 919.8,2191.2 919.2,2191.8 919.9,2192.7 919.0,2193.3 919.0,2193.8 919.8,2194.5 919.3,2194.9 920.8,2196.1 920.3,2196.8 924.6,2198.6 924.5,2199.6 931.0,2201.9 932.0,2203.2 938.0,2205.3 940.0,2207.0 944.0,2208.4 947.5,2210.7 957.0,2215.2 960.4,2199.5 963.0,2190.8 965.4,2184.8 967.7,2180.7 969.8,2178.2 971.9,2176.5 978.2,2172.5 982.5,2168.2 987.0,2160.5 990.0,2153.6 975.2,2147.5 970.5,2146.0 965.5,2143.6 957.5,2141.2 954.8,2139.6 944.1,2136.2 942.9,2135.4 931.6,2131.6 931.9,2131.2 925.2,2128.5 925.7,2128.2 920.0,2124.2 913.3,2121.6 881.3,2111.5 811.3,2122.6ZM794.8,2196.3 817.6,2204.8 830.6,2212.1 834.5,2213.6 837.5,2215.7 842.3,2217.5 844.5,2219.2 849.3,2221.2 850.7,2222.5 851.9,2223.1 858.4,2229.6 866.0,2232.8 876.5,2237.9 896.2,2245.8 890.2,2215.5 888.3,2209.2 885.8,2203.6 851.9,2190.9 849.8,2189.7 838.4,2185.7 834.7,2183.8 826.5,2180.9 823.6,2181.8 821.1,2183.1 813.7,2190.0 808.8,2193.8 806.3,2194.9 799.1,2195.3Z" fill="#ee0000" stroke="#ee0000" stroke-width=".5" fill-rule="evenodd"/>
<path d="M282.9,2186.1 351.2,2232.2 359.2,2234.7 387.7,2248.2 429.0,2268.6 431.7,2269.7 437.8,2270.8 448.1,2273.5 464.0,2278.7 468.9,2281.1 492.1,2294.9 506.5,2304.1 511.1,2305.5 518.0,2309.7 527.6,2316.3 577.8,2354.4 579.7,2355.3 585.7,2359.6 600.4,2366.9 616.1,2374.0 617.5,2375.2 628.6,2380.3 645.7,2388.2 682.8,2404.0 680.1,2386.2 702.5,2393.6 705.8,2372.5 708.8,2356.6 711.7,2344.2 713.8,2337.4 688.8,2326.8 640.6,2305.0 645.2,2310.3 659.0,2317.1 661.7,2319.2 664.4,2322.3 667.0,2327.5 669.6,2334.4 672.1,2342.7 675.2,2356.7 623.4,2336.4 533.5,2299.4 515.9,2291.8 460.4,2266.0 425.5,2247.3 368.2,2220.0 310.8,2194.9 293.9,2186.9 288.0,2183.6 283.5,2181.6 281.9,2180.5 264.8,2172.7 266.0,2174.5 268.9,2177.2ZM799.5,2135.3 786.7,2149.1 809.1,2161.1 843.6,2178.7 862.7,2186.5 869.3,2190.9 880.1,2197.1 882.2,2198.7 884.3,2201.1 886.3,2204.6 888.2,2209.3 890.1,2215.5 891.8,2223.4 895.3,2241.4 904.9,2244.8 906.8,2246.2 915.9,2249.4 919.9,2251.6 927.7,2254.3 933.2,2257.1 938.9,2259.0 944.1,2262.0 945.9,2262.6 948.7,2264.5 957.1,2215.1 947.5,2210.7 944.0,2208.3 940.0,2207.0 938.0,2205.2 932.1,2203.2 931.1,2201.8 924.5,2199.5 924.6,2198.6 920.4,2196.8 920.9,2196.1 919.3,2194.9 919.9,2194.5 919.1,2193.8 919.1,2193.3 919.9,2192.8 919.3,2191.8 919.9,2191.2 919.1,2190.1 919.4,2189.5 917.8,2188.2 917.6,2187.5 914.3,2185.2 909.4,2182.4 901.4,2178.8 885.9,2173.0 882.9,2171.1 867.3,2164.2 861.0,2162.1 857.2,2160.1 836.1,2152.6 834.0,2151.8 833.4,2151.2 823.4,2147.5 823.4,2147.2 816.7,2144.3 811.0,2141.2 807.3,2139.8 805.7,2138.4ZM772.6,2220.3 773.8,2220.7 778.2,2224.6 782.1,2226.5 783.2,2227.6 787.4,2229.7 787.9,2230.6 792.6,2232.8 793.2,2233.7 808.9,2241.3 823.3,2247.3 824.6,2249.0 825.3,2249.3 827.6,2251.5 832.0,2253.0 835.6,2255.5 844.2,2258.3 847.8,2260.6 855.5,2263.4 858.3,2265.2 869.0,2269.2 871.1,2270.5 884.4,2275.5 885.5,2276.3 908.2,2285.7 906.1,2275.7 904.1,2273.0 901.4,2270.3 896.2,2245.7 876.5,2237.9 866.0,2232.8 858.5,2229.6 851.9,2223.0 850.7,2222.5 849.3,2221.1 844.6,2219.1 842.4,2217.4 837.6,2215.6 834.5,2213.5 830.6,2212.1 817.6,2204.8 794.8,2196.3 794.2,2196.5 791.7,2197.7 786.6,2202.3 776.2,2216.4Z" fill="#ff0000" stroke="#ff0000" stroke-width=".5" fill-rule="evenodd"/>
<path d="M758.2,2232.2 752.9,2240.3 749.7,2247.2 763.1,2251.8 764.1,2256.1 765.3,2257.7 770.4,2259.5 771.9,2261.2 779.9,2264.1 781.2,2265.5 790.9,2269.1 791.8,2270.2 803.0,2274.5 807.9,2278.2 828.7,2288.8 831.7,2290.0 832.7,2290.6 834.0,2296.9 834.8,2298.1 838.6,2299.4 840.5,2301.3 852.9,2305.6 855.6,2307.5 874.5,2314.1 876.5,2315.4 911.4,2329.1 910.5,2307.9 909.6,2296.7 917.3,2299.3 921.3,2301.8 928.9,2304.4 929.7,2304.9 928.9,2306.3 931.1,2307.5 930.4,2308.2 941.1,2312.9 948.7,2264.4 945.9,2262.5 944.1,2261.9 938.9,2258.9 933.2,2257.1 927.7,2254.2 919.9,2251.6 915.9,2249.4 906.8,2246.1 904.9,2244.7 895.3,2241.3 898.5,2258.2 901.3,2270.3 904.1,2273.0 906.1,2275.7 908.2,2285.6 885.5,2276.2 884.4,2275.5 871.1,2270.5 869.0,2269.1 858.4,2265.2 855.6,2263.4 847.9,2260.5 844.3,2258.3 835.7,2255.4 832.1,2252.9 827.6,2251.5 825.4,2249.3 824.6,2249.0 823.3,2247.2 809.0,2241.3 793.2,2233.6 792.7,2232.8 788.0,2230.5 787.4,2229.6 783.2,2227.6 782.2,2226.4 778.2,2224.6 773.8,2220.7 772.6,2220.2 760.8,2229.4ZM599.5,2369.7 628.0,2389.8 658.5,2412.6 691.3,2438.4 692.8,2438.1 694.0,2436.6 697.0,2427.5 702.5,2393.6 680.1,2386.1 682.7,2403.9 645.7,2388.1 617.5,2375.1 616.1,2373.9 600.4,2366.9 588.9,2361.2 577.8,2354.3 592.5,2365.5Z" fill="#ff4000" stroke="#ff4000" stroke-width=".5" fill-rule="evenodd"/>
<path d="M749.7,2247.1 739.9,2273.3 736.1,2282.1 739.8,2283.6 740.0,2284.1 757.7,2290.9 773.1,2295.1 775.1,2303.5 776.1,2304.9 784.9,2308.1 786.1,2309.5 799.0,2314.3 799.8,2315.3 814.9,2321.1 815.4,2321.7 832.2,2328.4 834.0,2329.5 841.3,2331.7 844.2,2345.6 844.9,2346.6 851.7,2349.1 853.3,2350.8 873.7,2358.1 875.5,2359.3 904.8,2369.9 912.1,2373.0 912.0,2356.0 914.2,2356.5 912.0,2355.2 932.6,2361.4 941.1,2312.9 930.5,2308.2 931.2,2307.4 929.0,2306.3 929.8,2304.9 929.0,2304.3 921.3,2301.7 917.3,2299.3 909.6,2296.7 910.5,2308.0 911.4,2329.0 876.5,2315.3 874.5,2314.0 855.6,2307.4 852.9,2305.5 840.5,2301.3 838.6,2299.3 834.8,2298.0 834.6,2297.0 834.7,2297.9 834.0,2296.9 832.7,2290.6 831.8,2290.0 828.8,2288.8 807.9,2278.1 803.0,2274.4 791.9,2270.2 790.9,2269.1 781.2,2265.4 779.9,2264.0 771.9,2261.1 770.4,2259.4 769.8,2257.3 770.3,2259.4 765.3,2257.6 764.1,2256.1 763.1,2251.7Z" fill="#ffc000" stroke="#ffc000" stroke-width=".5" fill-rule="evenodd"/>
<path d="M739.9,2283.6 736.0,2282.1 730.9,2296.0 723.7,2312.0 724.2,2313.8 727.0,2315.3 727.3,2316.1 730.6,2318.1 730.8,2318.9 737.6,2322.2 737.8,2322.7 745.5,2326.8 758.7,2332.2 781.2,2338.1 781.6,2337.6 783.1,2337.9 786.0,2350.6 786.9,2351.7 799.3,2356.5 800.2,2357.5 835.1,2371.6 850.6,2375.9 854.4,2393.9 854.9,2394.8 864.8,2398.5 866.0,2399.8 911.3,2416.9 911.6,2407.6 922.5,2410.3 926.2,2388.0 932.6,2361.3 912.0,2355.1 914.0,2356.4 911.9,2355.9 912.1,2372.9 904.8,2369.9 875.5,2359.3 873.7,2358.0 853.3,2350.7 851.7,2349.1 844.9,2346.6 844.3,2345.6 841.3,2331.7 834.0,2329.5 832.2,2328.3 815.4,2321.6 815.0,2321.1 799.9,2315.2 799.0,2314.3 786.1,2309.4 784.9,2308.1 776.1,2304.8 775.2,2303.5 773.2,2295.0 757.8,2290.8 740.1,2284.0Z" fill="#d0ff00" stroke="#d0ff00" stroke-width=".5" fill-rule="evenodd"/>
<path d="M737.9,2322.7 737.7,2322.1 730.9,2318.8 730.6,2318.1 727.4,2316.1 727.0,2315.2 724.2,2313.7 723.7,2312.0 715.3,2332.7 721.9,2334.5 722.1,2334.2 730.0,2336.1 736.3,2359.4 739.9,2361.4 740.1,2362.0 744.4,2364.7 744.6,2365.2 759.7,2372.9 783.7,2377.9 783.9,2377.6 791.9,2378.8 792.5,2378.6 796.9,2397.3 797.5,2398.2 835.0,2413.5 860.0,2420.6 864.4,2441.8 864.9,2442.6 877.7,2447.6 878.6,2448.6 909.9,2460.5 910.2,2454.2 917.1,2456.1 919.2,2436.4 922.5,2410.3 911.5,2407.5 911.2,2416.9 866.0,2399.8 864.8,2398.5 855.0,2394.8 854.8,2394.0 854.9,2394.6 854.4,2393.9 850.6,2375.9 835.1,2371.5 800.2,2357.4 799.2,2353.9 800.1,2357.3 799.4,2356.4 798.6,2353.7 799.3,2356.4 786.9,2351.7 786.1,2350.5 783.1,2337.9 781.6,2337.5 781.2,2338.0 758.7,2332.2 745.5,2326.7Z" fill="#55ff00" stroke="#55ff00" stroke-width=".5" fill-rule="evenodd"/>
<path d="M715.3,2332.7 711.6,2344.2 708.7,2356.6 706.3,2369.7 719.1,2372.7 731.4,2340.9 730.1,2336.0 722.0,2334.1 721.9,2334.5ZM759.7,2372.8 744.6,2365.1 744.5,2364.7 740.2,2362.0 740.0,2361.4 736.3,2359.4 736.1,2358.9 748.3,2404.7 758.3,2411.1 761.2,2412.6 782.6,2416.4 794.7,2387.7 792.6,2378.6 791.9,2378.8 783.9,2377.5 783.7,2377.8ZM796.9,2397.2 807.6,2443.6 808.1,2444.2 834.4,2455.2 867.6,2464.6 868.7,2462.0 874.8,2489.9 908.1,2503.6 908.3,2499.2 912.9,2500.6 917.1,2456.0 910.1,2454.2 909.8,2460.4 878.6,2448.5 877.8,2447.6 864.9,2442.5 864.5,2441.8 860.0,2420.5 835.0,2413.5 797.5,2398.1Z" fill="#00ffe6" stroke="#00ffe6" stroke-width=".5" fill-rule="evenodd"/>
<path d="M700.5,2406.4 705.5,2408.0 719.1,2372.7 706.3,2369.6ZM782.7,2416.2 761.2,2412.6 758.3,2411.1 748.2,2404.4 760.2,2449.7 763.1,2451.5 767.6,2452.3ZM808.0,2443.6 808.0,2444.1 807.6,2443.6 818.6,2490.0 833.5,2496.3 852.0,2501.8 867.6,2464.6 834.4,2455.1 828.2,2452.5 827.1,2449.0 828.1,2452.4 808.1,2444.2ZM884.5,2536.9 906.4,2546.1 906.5,2543.2 909.4,2544.1 912.9,2500.6 908.3,2499.2 908.1,2503.5 891.1,2496.8 890.6,2496.3 874.8,2489.9 874.4,2489.3Z" fill="#0068ff" stroke="#0068ff" stroke-width=".5" fill-rule="evenodd"/>
<path d="M702.1,2416.4 705.5,2407.9 700.5,2406.4 700.1,2408.7ZM763.5,2462.0 767.6,2452.3 763.1,2451.4 760.2,2449.6ZM828.9,2535.2 832.5,2536.9 836.8,2538.2 852.0,2501.8 833.5,2496.2 818.3,2489.5ZM906.3,2546.0 884.3,2536.5 894.1,2583.2 904.6,2587.9 904.6,2586.6 906.0,2586.9 909.4,2544.1 906.5,2543.1Z" fill="#7800ff" stroke="#7800ff" stroke-width=".5" fill-rule="evenodd"/>
<path d="M832.1,2549.2 836.8,2538.2 832.5,2536.8 828.9,2535.2ZM902.9,2625.0 906.0,2586.9 904.6,2586.5 904.5,2587.8 894.1,2583.2Z" fill="#6e0078" stroke="#6e0078" stroke-width=".5" fill-rule="evenodd"/>
<path d="M141.5 2069.4L178.6 2619.1M178.6 2619.1L622.5 2833.2M622.5 2833.2L977.1 2587.8" stroke="#000" stroke-width="2" fill="none" stroke-linecap="round"/>
<path d="M141.5 2069.4L128.1 2071.8M148.0 2166.2L134.9 2168.9M154.3 2260.1L141.4 2263.0M160.5 2351.2L147.8 2354.2M166.4 2439.5L154.0 2442.8M172.2 2525.3L159.9 2528.7M177.9 2608.6L165.8 2612.1M178.6 2619.1L166.9 2625.0M258.0 2657.4L246.3 2663.6M341.7 2697.8L330.1 2704.3M430.1 2740.4L418.6 2747.3M523.6 2785.4L512.1 2792.8M622.5 2833.2L611.2 2841.0M622.5 2833.2L633.2 2838.3M673.5 2797.9L684.1 2802.8M722.3 2764.1L732.9 2768.8M769.2 2731.7L779.7 2736.2M814.1 2700.6L824.5 2704.9M857.3 2670.7L867.6 2674.9M898.8 2642.0L909.0 2646.0M938.7 2614.4L948.9 2618.3M977.1 2587.8L987.2 2591.5" stroke="#000" stroke-width="1.6" fill="none" stroke-linecap="butt"/>
<g font-family="Liberation Serif, serif" font-weight="bold" font-size="46" transform="matrix(0.6679 -0.2096 0.0567 0.7980 123.9 2087.0)"><text x="-23.00">0</text></g>
<g font-family="Liberation Serif, serif" font-weight="bold" font-size="46" transform="matrix(0.6610 -0.2303 0.0567 0.7980 130.8 2184.0)"><text transform="translate(-50.10 0) scale(1.13 1)">−</text><text x="-23.00">6</text></g>
<g font-family="Liberation Serif, serif" font-weight="bold" font-size="46" transform="matrix(0.6539 -0.2498 0.0567 0.7980 137.5 2278.0)"><text transform="translate(-73.10 0) scale(1.13 1)">−</text><text x="-46.00">12</text></g>
<g font-family="Liberation Serif, serif" font-weight="bold" font-size="46" transform="matrix(0.6466 -0.2682 0.0567 0.7980 143.9 2369.1)"><text transform="translate(-73.10 0) scale(1.13 1)">−</text><text x="-46.00">18</text></g>
<g font-family="Liberation Serif, serif" font-weight="bold" font-size="46" transform="matrix(0.6391 -0.2855 0.0567 0.7980 150.2 2457.5)"><text transform="translate(-73.10 0) scale(1.13 1)">−</text><text x="-46.00">24</text></g>
<g font-family="Liberation Serif, serif" font-weight="bold" font-size="46" transform="matrix(0.6316 -0.3018 0.0567 0.7980 156.3 2543.3)"><text transform="translate(-73.10 0) scale(1.13 1)">−</text><text x="-46.00">30</text></g>
<g font-family="Liberation Serif, serif" font-weight="bold" font-size="46" transform="matrix(0.6240 -0.3171 0.0567 0.7980 162.2 2626.6)"><text transform="translate(-73.10 0) scale(1.13 1)">−</text><text x="-46.00">36</text></g>
<text font-family="Liberation Serif, serif" font-weight="bold" font-size="58" text-anchor="middle" transform="matrix(-0.0727 -0.8670 0.7228 -0.2931 81.0 2391.0)">Reflection loss(dB)</text>
<g font-family="Liberation Serif, serif" font-weight="bold" font-size="46" transform="matrix(0.7124 -0.3640 0.6923 0.4010 171.7 2630.9)"><text x="-57.50">5.5</text></g>
<g font-family="Liberation Serif, serif" font-weight="bold" font-size="46" transform="matrix(0.7039 -0.3801 0.6923 0.4010 251.8 2670.1)"><text x="-57.50">6.0</text></g>
<g font-family="Liberation Serif, serif" font-weight="bold" font-size="46" transform="matrix(0.6942 -0.3975 0.6923 0.4010 336.2 2711.4)"><text x="-57.50">6.5</text></g>
<g font-family="Liberation Serif, serif" font-weight="bold" font-size="46" transform="matrix(0.6831 -0.4163 0.6923 0.4010 425.4 2755.1)"><text x="-57.50">7.0</text></g>
<g font-family="Liberation Serif, serif" font-weight="bold" font-size="46" transform="matrix(0.6704 -0.4366 0.6923 0.4010 519.8 2801.3)"><text x="-57.50">7.5</text></g>
<g font-family="Liberation Serif, serif" font-weight="bold" font-size="46" transform="matrix(0.6557 -0.4584 0.6923 0.4010 619.8 2850.2)"><text x="-57.50">8.0</text></g>
<text font-family="Liberation Serif, serif" font-weight="bold" font-size="58" text-anchor="middle" transform="matrix(0.6662 0.3446 -0.6473 0.3789 302.0 2773.5)">Thickness(mm)</text>
<g font-family="Liberation Serif, serif" font-weight="bold" font-size="46" transform="matrix(0.7194 0.3500 -0.5241 0.3673 629.9 2848.6)"><text x="0.00">2</text></g>
<g font-family="Liberation Serif, serif" font-weight="bold" font-size="46" transform="matrix(0.7242 0.3398 -0.5241 0.3673 681.3 2812.6)"><text x="0.00">4</text></g>
<g font-family="Liberation Serif, serif" font-weight="bold" font-size="46" transform="matrix(0.7287 0.3301 -0.5241 0.3673 730.5 2778.1)"><text x="0.00">6</text></g>
<g font-family="Liberation Serif, serif" font-weight="bold" font-size="46" transform="matrix(0.7328 0.3209 -0.5241 0.3673 777.7 2745.0)"><text x="0.00">8</text></g>
<g font-family="Liberation Serif, serif" font-weight="bold" font-size="46" transform="matrix(0.7366 0.3122 -0.5241 0.3673 822.9 2713.3)"><text x="0.00">10</text></g>
<g font-family="Liberation Serif, serif" font-weight="bold" font-size="46" transform="matrix(0.7400 0.3039 -0.5241 0.3673 866.4 2682.8)"><text x="0.00">12</text></g>
<g font-family="Liberation Serif, serif" font-weight="bold" font-size="46" transform="matrix(0.7432 0.2960 -0.5241 0.3673 908.1 2653.6)"><text x="0.00">14</text></g>
<g font-family="Liberation Serif, serif" font-weight="bold" font-size="46" transform="matrix(0.7462 0.2884 -0.5241 0.3673 948.3 2625.5)"><text x="0.00">16</text></g>
<g font-family="Liberation Serif, serif" font-weight="bold" font-size="46" transform="matrix(0.7489 0.2813 -0.5241 0.3673 986.9 2598.4)"><text x="0.00">18</text></g>
<text font-family="Liberation Serif, serif" font-weight="bold" font-size="58" text-anchor="middle" transform="matrix(0.5530 -0.4127 0.6268 0.2636 902.0 2744.8)">Frequency(GHz)</text>
<text font-family="Liberation Serif, serif" font-weight="bold" font-size="79" x="62.8" y="1995.3">(e)</text>
<rect x="1050.0" y="2022.40" width="53.8" height="46.15" fill="#640000"/>
<rect x="1050.0" y="2068.25" width="53.8" height="46.15" fill="#aa0000"/>
<rect x="1050.0" y="2114.10" width="53.8" height="46.15" fill="#ee0000"/>
<rect x="1050.0" y="2159.95" width="53.8" height="46.15" fill="#ff0000"/>
<rect x="1050.0" y="2205.80" width="53.8" height="46.15" fill="#ff4000"/>
<rect x="1050.0" y="2251.65" width="53.8" height="46.15" fill="#ffc000"/>
<rect x="1050.0" y="2297.50" width="53.8" height="46.15" fill="#d0ff00"/>
<rect x="1050.0" y="2343.35" width="53.8" height="46.15" fill="#55ff00"/>
<rect x="1050.0" y="2389.20" width="53.8" height="46.15" fill="#00ffe6"/>
<rect x="1050.0" y="2435.05" width="53.8" height="46.15" fill="#0068ff"/>
<rect x="1050.0" y="2480.90" width="53.8" height="46.15" fill="#7800ff"/>
<rect x="1050.0" y="2526.75" width="53.8" height="46.15" fill="#6e0078"/>
<rect x="1050.0" y="2022.4" width="53.8" height="550.2" fill="none" stroke="#000" stroke-width="1.3"/>
<path d="M1103.8 2022.4h13.3M1103.8 2114.1h13.3M1103.8 2205.8h13.3M1103.8 2297.5h13.3M1103.8 2389.2h13.3M1103.8 2480.9h13.3M1103.8 2572.6h13.3" stroke="#000" stroke-width="1.3"/>
<g font-family="Liberation Serif, serif" font-weight="bold" font-size="46" transform="translate(1132.9 2038.3)"><text x="0.00">0</text></g>
<g font-family="Liberation Serif, serif" font-weight="bold" font-size="46" transform="translate(1131.4 2130.0)"><text transform="translate(0.00 0) scale(1.13 1)">−</text><text x="27.10">6</text></g>
<g font-family="Liberation Serif, serif" font-weight="bold" font-size="46" transform="translate(1131.4 2221.7)"><text transform="translate(0.00 0) scale(1.13 1)">−</text><text x="27.10">12</text></g>
<g font-family="Liberation Serif, serif" font-weight="bold" font-size="46" transform="translate(1131.4 2313.4)"><text transform="translate(0.00 0) scale(1.13 1)">−</text><text x="27.10">18</text></g>
<g font-family="Liberation Serif, serif" font-weight="bold" font-size="46" transform="translate(1131.4 2405.1)"><text transform="translate(0.00 0) scale(1.13 1)">−</text><text x="27.10">24</text></g>
<g font-family="Liberation Serif, serif" font-weight="bold" font-size="46" transform="translate(1131.4 2496.8)"><text transform="translate(0.00 0) scale(1.13 1)">−</text><text x="27.10">30</text></g>
<g font-family="Liberation Serif, serif" font-weight="bold" font-size="46" transform="translate(1131.4 2588.5)"><text transform="translate(0.00 0) scale(1.13 1)">−</text><text x="27.10">36</text></g>
</g>
<g>
<clipPath id="clip_data_b"><rect x="1496.6" y="91.3" width="862.2" height="694.9"/></clipPath>
<g clip-path="url(#clip_data_b)">
<polyline points="1496.6,114 1499.6,114.5 1502.6,115 1505.6,115.4 1508.6,115.9 1511.7,116.3 1514.7,116.7 1517.7,117 1520.7,117.3 1523.7,117.6 1526.7,118 1529.7,118.3 1532.7,118.5 1535.8,118.7 1538.8,118.8 1541.8,118.8 1544.8,118.6 1547.8,118.5 1550.8,118.3 1553.8,118.1 1556.8,117.9 1559.9,117.8 1562.9,117.9 1565.9,118.1 1568.9,118.4 1571.9,118.8 1574.9,119.2 1577.9,119.7 1580.9,120.2 1584,120.7 1587,121.3 1590,122.1 1593,123 1596,124 1599,124.9 1602,125.7 1605,126.4 1608.1,127 1611.1,127.5 1614.1,127.9 1617.1,128.3 1620.1,128.6 1623.1,128.9 1626.1,129.3 1629.1,129.6 1632.2,130 1635.2,130.3 1638.2,130.6 1641.2,130.9 1644.2,131.2 1647.2,131.6 1650.2,131.9 1653.2,132.3 1656.3,132.7 1659.3,133.2 1662.3,133.7 1665.3,134.3 1668.3,135 1671.3,135.7 1674.3,136.5 1677.3,137.3 1680.4,138.2 1683.4,139.3 1686.4,140.7 1689.4,142.3 1692.4,144 1695.4,145.7 1698.4,147.2 1701.4,148.4 1704.5,149.6 1707.5,150.6 1710.5,151.7 1713.5,152.6 1716.5,153.5 1719.5,154.3 1722.5,155.1 1725.5,155.9 1728.6,156.6 1731.6,157.3 1734.6,157.9 1737.6,158.5 1740.6,159 1743.6,159.4 1746.6,159.8 1749.6,160.3 1752.7,160.7 1755.7,161.2 1758.7,161.6 1761.7,162.1 1764.7,162.5 1767.7,163 1770.7,163.4 1773.7,163.9 1776.8,164.3 1779.8,164.8 1782.8,165.3 1785.8,165.7 1788.8,166.1 1791.8,166.3 1794.8,166.6 1797.8,166.9 1800.9,167.3 1803.9,167.7 1806.9,168.1 1809.9,168.5 1812.9,168.8 1815.9,169.2 1818.9,169.6 1821.9,169.9 1825,170.3 1828,170.7 1831,171.1 1834,171.4 1837,171.7 1840,172 1843,172.3 1846,172.6 1849.1,172.8 1852.1,172.9 1855.1,173 1858.1,172.9 1861.1,172.6 1864.1,172.2 1867.1,171.7 1870.1,171.1 1873.2,170.5 1876.2,169.7 1879.2,168.6 1882.2,167.2 1885.2,165.6 1888.2,163.9 1890.8,162.3 1893.4,160.6 1896,158.3 1898.5,156.2 1901.6,154.8 1904.6,153.7 1907.6,152.7 1910.6,151.9 1913.6,151.1 1916.6,150.4 1919.6,149.8 1922.6,149.3 1925.7,148.8 1928.7,148.4 1931.7,148 1934.7,147.7 1937.7,147.5 1940.7,147.2 1943.7,147 1946.7,146.7 1949.8,146.4 1952.8,146.1 1955.8,145.7 1958.8,145.1 1961.8,144.4 1964.8,143.6 1967.8,142.8 1970.8,141.9 1973.9,141 1976.9,140.2 1979.9,139.5 1982.9,138.9 1985.9,138.3 1988.9,137.8 1991.9,137.4 1994.9,137 1998,136.5 2001,136.1 2004,135.7 2007,135.3 2010,134.8 2013,134.3 2016,133.8 2019,133.2 2022.1,132.7 2025.1,132.2 2028.1,131.6 2031.1,131.1 2034.1,130.6 2037.1,130.2 2040.1,129.8 2043.1,129.3 2046.2,128.9 2049.2,128.5 2052.2,128.1 2055.2,127.8 2058.2,127.4 2061.2,127.2 2064.2,127 2067.2,126.9 2070.3,126.8 2073.3,126.7 2076.3,126.6 2079.3,126.5 2082.3,126.4 2085.3,126.4 2088.3,126.3 2091.3,126.3 2094.4,126.3 2097.4,126.4 2100.4,126.4 2103.4,126.6 2106.4,126.7 2109.4,126.8 2112.4,126.9 2115.4,126.9 2118.5,127 2121.5,127 2124.5,127 2127.5,126.9 2130.5,126.9 2133.5,126.8 2136.5,126.6 2139.5,126.5 2142.1,124.6 2145.1,123.1 2148.1,122.7 2151.2,122.4 2154.2,122.2 2157.2,122 2160.2,122 2163.2,121.9 2166.2,121.9 2169.2,122 2172.2,122.2 2175.3,122.4 2178.3,122.6 2181.3,122.9 2184.3,123.2 2187.3,123.7 2190.3,124.4 2193.3,125.3 2196.3,126.1 2199.4,126.5 2202.4,126.8 2205.4,127.1 2208.4,127.3 2211.4,127.4 2214.4,127.4 2217.4,127.1 2220.4,126.8 2223.5,126.4 2226.5,126 2229.5,125.4 2232.5,124.8 2235.5,124.1 2238.5,123.7 2241.5,123.7 2244.5,123.7 2247.6,123.7 2250.6,123.7 2253.6,123.7 2256.6,123.9 2259.6,124.4 2262.6,125.2 2265.6,126 2268.6,126.8 2271.7,127.7 2274.7,128.7 2277.7,129.8 2280.7,130.7 2283.7,131.6 2286.7,132.6 2289.7,133.5 2292.7,134.1 2295.8,134.3 2298.8,134 2301.8,133.5 2304.8,132.9 2307.8,132.3 2310.8,131.9 2313.8,131.4 2316.8,131 2319.9,130.7 2322.9,130.6 2325.9,130.8 2328.9,131.2 2331.9,131.9 2334.9,132.6 2337.9,133.7 2340.5,135.3 2343.1,137 2346.1,138.3 2349.1,137.7 2351.7,135.9 2353.9,133.5 2355.6,130.8 2357.3,128.8" fill="none" stroke="#000000" stroke-width="2.5" stroke-linejoin="round" stroke-linecap="round" marker-start="url(#mkk)" marker-mid="url(#mkk)" marker-end="url(#mkk)"/>
<path d="M2355.6 127.3h.01" stroke="#fff" stroke-opacity=".85" stroke-width="2.7" stroke-linecap="round" fill="none"/>
<polyline points="1496.6,116.1 1499.6,116.6 1502.6,117.2 1505.6,117.6 1508.6,118.1 1511.7,118.6 1514.7,119 1517.7,119.3 1520.7,119.7 1523.7,120 1526.7,120.4 1529.7,120.7 1532.7,121 1535.8,121.2 1538.8,121.3 1541.8,121.3 1544.8,121.2 1547.8,121.1 1550.8,120.9 1553.8,120.8 1556.8,120.7 1559.9,120.7 1562.9,120.7 1565.9,121 1568.9,121.3 1571.9,121.7 1574.9,122.3 1577.9,122.8 1580.9,123.4 1584,124.1 1587,124.9 1590,126 1593,127.1 1596,128.4 1599,129.6 1602,130.8 1605,131.8 1608.1,132.6 1611.1,133.3 1614.1,134 1617.1,134.6 1620.1,135.2 1623.1,135.8 1626.1,136.3 1629.1,136.9 1632.2,137.4 1635.2,137.9 1638.2,138.3 1641.2,138.7 1644.2,139.1 1647.2,139.6 1650.2,140 1653.2,140.5 1656.3,141 1659.3,141.6 1662.3,142.1 1665.3,142.7 1668.3,143.4 1671.3,144.1 1674.3,144.9 1677.3,145.8 1680.4,146.9 1683.4,148.1 1686,149.7 1688.5,151.7 1691.1,153.8 1693.7,155.9 1696.3,157.9 1698.9,159.6 1701.9,161.1 1704.9,162.4 1707.9,163.6 1710.9,164.7 1713.9,165.7 1716.9,166.6 1720,167.5 1723,168.4 1726,169.3 1729,170.1 1732,171 1735,171.9 1738,172.9 1741,174.1 1744.1,175.2 1747.1,176.3 1750.1,177.1 1753.1,177.6 1756.1,178 1759.1,178.4 1762.1,178.8 1765.1,179.3 1768.2,179.7 1771.2,180.1 1774.2,180.4 1777.2,180.7 1780.2,181 1783.2,181.3 1786.2,181.4 1789.2,181.2 1792.3,180.8 1795.3,180.1 1798.3,179.3 1801.3,178.4 1804.3,177 1807.3,175.5 1810.3,174 1813.3,172.7 1816.4,171.4 1819.4,170.2 1822.4,169.1 1825.4,168.1 1828.4,167.1 1831.4,166.3 1834.4,165.7 1837.4,165.5 1840.4,165.4 1843.5,165.4 1846.5,165.3 1849.5,165.3 1852.5,165.2 1855.5,165.1 1858.5,164.9 1861.5,164.5 1864.5,163.9 1867.6,163.2 1870.6,162.5 1873.6,161.7 1876.6,160.7 1879.6,159.4 1882.6,157.9 1885.6,156.3 1888.6,154.6 1891.7,152.8 1894.2,151 1896.8,149 1899.4,147.4 1902.4,146.4 1905.4,145.6 1908.4,144.9 1911.5,144.3 1914.5,143.7 1917.5,143.3 1920.5,142.8 1923.5,142.3 1926.5,141.9 1929.5,141.3 1932.5,140.9 1935.6,140.4 1938.6,139.9 1941.6,139.5 1944.6,139 1947.6,138.6 1950.6,138.2 1953.6,137.8 1956.6,137.3 1959.7,136.9 1962.7,136.6 1965.7,136.2 1968.7,135.8 1971.7,135.4 1974.7,135.1 1977.7,134.7 1980.7,134.3 1983.8,134 1986.8,133.6 1989.8,133.2 1992.8,132.8 1995.8,132.5 1998.8,132.1 2001.8,131.7 2004.8,131.4 2007.9,131.1 2010.9,130.7 2013.9,130.4 2016.9,130.2 2019.9,129.9 2022.9,129.6 2025.9,129.3 2028.9,129.1 2032,128.8 2035,128.6 2038,128.3 2041,128.1 2044,127.8 2047,127.6 2050,127.3 2053,127.1 2056.1,126.8 2059.1,126.6 2062.1,126.4 2065.1,126.2 2068.1,125.9 2071.1,125.6 2074.1,125.4 2077.1,125.2 2080.2,125.2 2083.2,125.3 2086.2,125.4 2089.2,125.6 2092.2,125.8 2095.2,126 2098.2,126.3 2101.2,126.6 2104.3,127 2107.3,127.2 2110.3,127.6 2113.3,127.9 2116.3,128.1 2119.3,128.2 2122.3,128.2 2125.3,128.2 2128.4,128.1 2131.4,128 2134.4,127.9 2137.4,127.7 2140.4,127.4 2142.6,124.9 2145.6,123.7 2148.6,123.2 2151.6,122.9 2154.6,122.6 2157.6,122.5 2160.6,122.4 2163.6,122.3 2166.7,122.4 2169.7,122.8 2172.7,123.4 2175.7,124.2 2178.7,125.1 2181.7,126 2184.7,126.9 2187.7,127.9 2190.8,129.2 2193.8,130.5 2196.8,131.6 2199.8,132.5 2202.8,133.3 2205.8,134.1 2208.8,134.7 2211.8,135 2214.9,134.9 2217.9,134.7 2220.9,134.3 2223.9,133.9 2226.9,133.5 2229.9,132.8 2232.9,132 2235.9,131.2 2239,130.6 2242,130.5 2245,130.3 2248,130.2 2251,130.2 2254,130.2 2257,130.5 2260,131.4 2263.1,132.5 2266.1,133.8 2269.1,135 2272.1,136.7 2274.7,138.2 2277.3,139.8 2280.3,141.4 2283.3,142.8 2286.3,144.2 2289.3,145.5 2292.3,146.4 2295.3,146.6 2298.3,146.5 2301.4,146.1 2304.4,145.7 2307.4,145.4 2310.4,145.1 2313.4,144.9 2316.4,144.8 2319.4,144.6 2322.4,144.6 2325.5,145 2328.5,146 2331.5,147.5 2334.5,149.2 2337.5,151 2340.1,153.2 2342.7,155.5 2345.3,157.8 2347.8,160.2 2350.8,160 2352.1,156.6 2353.4,152.7 2354.7,149.8 2356.4,146.4 2357.3,146" fill="none" stroke="#ff0000" stroke-width="2.5" stroke-linejoin="round" stroke-linecap="round" marker-start="url(#mkr)" marker-mid="url(#mkr)" marker-end="url(#mkr)"/>
<path d="M2355.6 144.5h.01" stroke="#fff" stroke-opacity=".85" stroke-width="2.7" stroke-linecap="round" fill="none"/>
<polyline points="1496.6,118.6 1499.6,119.2 1502.6,119.8 1505.6,120.3 1508.6,120.8 1511.7,121.3 1514.7,121.8 1517.7,122.2 1520.7,122.5 1523.7,122.9 1526.7,123.2 1529.7,123.6 1532.7,123.8 1535.8,124 1538.8,124.1 1541.8,124.1 1544.8,124 1547.8,123.9 1550.8,123.8 1553.8,123.7 1556.8,123.6 1559.9,123.5 1562.9,123.6 1565.9,123.9 1568.9,124.5 1571.9,125.1 1574.9,125.9 1577.9,126.8 1580.9,127.6 1584,128.5 1587,129.7 1590,131 1593,132.5 1596,134.1 1599,135.7 1602,137.1 1605,138.4 1608.1,139.5 1611.1,140.4 1614.1,141.2 1617.1,142 1620.1,142.7 1623.1,143.4 1626.1,144.1 1629.1,144.8 1632.2,145.4 1635.2,146.1 1638.2,146.7 1641.2,147.2 1644.2,147.8 1647.2,148.3 1650.2,148.9 1653.2,149.5 1656.3,150.2 1659.3,151 1662.3,151.8 1665.3,152.6 1668.3,153.5 1671.3,154.4 1674.3,155.5 1677.3,156.6 1680.4,157.9 1683.4,159.4 1686,161.2 1688.5,163.3 1691.1,165.5 1693.7,167.7 1696.3,169.7 1698.9,171.4 1701.9,172.8 1704.9,174.1 1707.9,175.1 1710.9,176 1713.9,176.6 1716.9,177.2 1720,177.6 1723,178 1726,178.3 1729,178.6 1732,178.8 1735,179 1738,179 1741,179 1744.1,179 1747.1,179 1750.1,179 1753.1,179 1756.1,178.9 1759.1,178.9 1762.1,178.8 1765.1,178.7 1768.2,178.5 1771.2,178.3 1774.2,178.2 1777.2,178 1780.2,177.9 1783.2,177.8 1786.2,177.6 1789.2,177 1792.3,175.9 1795.3,174.4 1798.3,172.9 1801.3,171.4 1804.3,169.6 1806.9,168.1 1809.9,166.3 1812.9,164.7 1815.9,163.1 1818.9,161.7 1821.9,160.3 1825,159.1 1828,157.9 1831,156.9 1834,156 1837,155.5 1840,155.2 1843,154.9 1846,154.7 1849.1,154.5 1852.1,154.3 1855.1,154 1858.1,153.7 1861.1,153.5 1864.1,153.2 1867.1,152.8 1870.1,152.4 1873.2,151.9 1876.2,151.2 1879.2,150.1 1882.2,148.8 1885.2,147.3 1888.2,145.8 1891.2,144.3 1894.2,142.9 1897.3,141.4 1900.3,140.2 1903.3,139.5 1906.3,138.8 1909.3,138.1 1912.3,137.6 1915.3,137.1 1918.3,136.6 1921.4,136.2 1924.4,135.9 1927.4,135.5 1930.4,135.2 1933.4,135 1936.4,134.7 1939.4,134.5 1942.4,134.3 1945.5,134.1 1948.5,133.9 1951.5,133.7 1954.5,133.5 1957.5,133.3 1960.5,133.1 1963.5,132.9 1966.5,132.7 1969.6,132.5 1972.6,132.3 1975.6,132.1 1978.6,131.8 1981.6,131.6 1984.6,131.3 1987.6,131 1990.6,130.5 1993.7,130.1 1996.7,129.7 1999.7,129.3 2002.7,128.9 2005.7,128.6 2008.7,128.4 2011.7,128.3 2014.7,128.3 2017.8,128.2 2020.8,128.2 2023.8,128.2 2026.8,128.1 2029.8,128.1 2032.8,128 2035.8,128 2038.8,127.9 2041.9,127.8 2044.9,127.6 2047.9,127.4 2050.9,127.2 2053.9,127 2056.9,126.7 2059.9,126.5 2062.9,126.3 2066,126.1 2069,125.9 2072,125.7 2075,125.6 2078,125.5 2081,125.5 2084,125.7 2087,126 2090.1,126.3 2093.1,126.7 2096.1,127 2099.1,127.4 2102.1,127.8 2105.1,128.1 2108.1,128.5 2111.1,128.8 2114.2,129.1 2117.2,129.4 2120.2,129.6 2123.2,129.8 2126.2,129.9 2129.2,130.1 2132.2,130.2 2135.2,130.2 2138.3,130.3 2141.3,129.9 2144.3,128.7 2147.3,128.3 2150.3,128 2153.3,127.8 2156.3,127.6 2159.3,127.5 2162.4,127.4 2165.4,127.4 2168.4,127.9 2171.4,128.7 2174.4,129.9 2177.4,131.3 2180.4,132.8 2183.4,134.3 2186.5,135.7 2189.5,137.4 2192,139.1 2194.6,140.6 2197.6,142.1 2200.7,143.2 2203.7,144.2 2206.7,145.1 2209.7,145.7 2212.7,146 2215.7,145.9 2218.7,145.8 2221.7,145.6 2224.8,145.4 2227.8,145.1 2230.8,144.5 2233.8,143.8 2236.8,143.2 2239.8,142.9 2242.8,143 2245.8,143.1 2248.9,143.4 2251.9,143.7 2254.9,144.1 2257.9,145.2 2260.9,147 2263.5,148.7 2266.1,150.5 2268.6,152.4 2271.2,154.6 2273.8,157.1 2276,159.2 2278.5,161.7 2281.1,163.8 2283.7,165.9 2286.3,168.2 2288.9,170.2 2291.5,171.8 2294.5,172.7 2297.5,172.7 2300.5,172.4 2303.5,172 2306.5,171.6 2309.5,171.3 2312.5,170.9 2315.6,170.5 2318.6,170.2 2321.6,170 2324.6,170.4 2327.6,172 2330.2,174.1 2332.3,176.2 2334.5,178.5 2336.6,181 2338.4,183.6 2340.1,187 2341.4,189.8 2342.7,192.8 2344,195.9 2345.3,199.8 2346.1,203.2 2347,206.4 2348.7,209 2350,204.2 2350.8,198.9 2351.7,193.7 2352.6,189.9 2353.9,186.1 2355.1,182.9 2356.9,180.3 2357.3,180.3" fill="none" stroke="#00ff00" stroke-width="2.5" stroke-linejoin="round" stroke-linecap="round" marker-start="url(#mkg)" marker-mid="url(#mkg)" marker-end="url(#mkg)"/>
<path d="M2355.6 178.8h.01" stroke="#fff" stroke-opacity=".85" stroke-width="2.7" stroke-linecap="round" fill="none"/>
<polyline points="1496.6,121.7 1499.6,122.4 1502.6,123.1 1505.6,123.7 1508.6,124.3 1511.7,124.8 1514.7,125.4 1517.7,125.8 1520.7,126.2 1523.7,126.6 1526.7,127 1529.7,127.4 1532.7,127.8 1535.8,128 1538.8,128.1 1541.8,128.1 1544.8,128 1547.8,128 1550.8,127.9 1553.8,127.8 1556.8,127.7 1559.9,127.7 1562.9,127.8 1565.9,128.3 1568.9,129 1571.9,129.9 1574.9,130.9 1577.9,132 1580.9,133.1 1584,134.2 1587,135.5 1590,137.1 1593,138.9 1595.6,140.4 1598.2,141.9 1601.2,143.7 1604.2,145.3 1607.2,146.6 1610.2,147.8 1613.2,148.8 1616.2,149.9 1619.2,150.8 1622.3,151.7 1625.3,152.6 1628.3,153.5 1631.3,154.5 1634.3,155.4 1637.3,156.3 1640.3,157.2 1643.3,158 1646.4,158.9 1649.4,159.8 1652.4,160.7 1655.4,161.7 1658.4,162.7 1661.4,163.7 1664.4,164.7 1667.4,165.8 1670.5,166.9 1673.5,168 1676.5,169.2 1679.5,170.5 1682.5,171.9 1685.5,173.6 1688.1,175.3 1690.7,177 1693.3,178.7 1696.3,180.4 1699.3,181.7 1702.3,182.5 1705.3,183.3 1708.3,184 1711.3,184.3 1714.4,184.3 1717.4,184.3 1720.4,184.3 1723.4,184.3 1726.4,184.3 1729.4,184 1732.4,183.5 1735.4,182.9 1738.5,182.1 1741.5,181 1744.5,179.6 1747.5,178.3 1750.5,177.2 1753.5,176.4 1756.5,175.7 1759.5,175 1762.6,174.3 1765.6,173.7 1768.6,173.1 1771.6,172.5 1774.6,171.9 1777.6,171.3 1780.6,170.8 1783.6,170.1 1786.7,169.2 1789.7,167.8 1792.3,166.2 1794.8,164.3 1797.4,162.5 1800,160.8 1802.6,159.1 1805.2,157.4 1807.7,155.7 1810.8,154.1 1813.8,152.7 1816.8,151.4 1819.8,150.3 1822.8,149.3 1825.8,148.5 1828.8,147.6 1831.8,146.9 1834.9,146.5 1837.9,146.3 1840.9,146.3 1843.9,146.2 1846.9,146.2 1849.9,146.1 1852.9,146.1 1855.9,146 1859,145.8 1862,145.6 1865,145.4 1868,145.1 1871,144.8 1874,144.4 1877,143.8 1880,142.9 1883.1,141.8 1886.1,140.7 1889.1,139.5 1892.1,138.4 1895.1,137.2 1898.1,136.1 1901.1,135.3 1904.1,134.6 1907.2,134 1910.2,133.4 1913.2,132.9 1916.2,132.5 1919.2,132.1 1922.2,131.8 1925.2,131.5 1928.2,131.4 1931.3,131.2 1934.3,131.1 1937.3,131.1 1940.3,131 1943.3,130.9 1946.3,130.9 1949.3,130.8 1952.3,130.7 1955.4,130.5 1958.4,130.3 1961.4,130 1964.4,129.7 1967.4,129.3 1970.4,128.9 1973.4,128.5 1976.4,128.1 1979.5,127.8 1982.5,127.5 1985.5,127.3 1988.5,127.1 1991.5,126.9 1994.5,126.7 1997.5,126.5 2000.5,126.4 2003.6,126.3 2006.6,126.2 2009.6,126.2 2012.6,126.2 2015.6,126.3 2018.6,126.4 2021.6,126.6 2024.6,126.8 2027.7,127 2030.7,127.2 2033.7,127.4 2036.7,127.5 2039.7,127.6 2042.7,127.7 2045.7,127.8 2048.7,127.8 2051.8,127.9 2054.8,127.9 2057.8,128 2060.8,128.1 2063.8,128.2 2066.8,128.3 2069.8,128.6 2072.8,128.9 2075.9,129.3 2078.9,129.6 2081.9,130 2084.9,130.5 2087.9,130.9 2090.9,131.4 2093.9,131.9 2096.9,132.5 2100,133.1 2103,133.8 2106,134.4 2109,135.1 2112,135.8 2115,136.5 2118,137.2 2121,137.6 2124.1,138 2127.1,138.4 2130.1,138.8 2133.1,139 2136.1,139.3 2139.1,139.4 2142.1,138.8 2145.1,138.3 2148.1,138.1 2151.2,138 2154.2,137.9 2157.2,137.8 2160.2,137.7 2163.2,137.7 2166.2,137.9 2169.2,138.7 2172.2,140.1 2174.8,141.7 2177.4,143.4 2180,145.2 2182.6,147.1 2185.2,148.8 2187.7,150.7 2190.3,152.9 2192.9,155.1 2195.5,157.3 2198.1,159.3 2200.7,161 2203.2,162.7 2205.8,164.3 2208.8,166 2211.8,167.1 2214.9,167.8 2217.9,168.4 2220.9,168.9 2223.9,169.2 2226.9,169.3 2229.9,168.8 2232.9,168 2235.9,167.1 2239,166.6 2242,166.7 2245,167.1 2248,167.9 2251,169 2254,170.2 2256.6,171.8 2259.2,174.2 2261.3,176.7 2263.5,179.4 2265.6,182.2 2267.8,184.9 2269.9,188 2271.7,190.8 2273.4,193.7 2275.1,196.7 2276.8,199.7 2278.5,202.5 2280.3,205.2 2282.4,208.3 2284.1,210.9 2285.9,213.6 2287.6,216.2 2289.7,219.2 2291.9,221.4 2294.9,222.9 2297.9,223.1 2300.9,223.3 2303.9,223.4 2306.9,223.5 2310,223.7 2313,223.9 2316,224.1 2319,224.4 2322,224.9 2325,226.9 2327.2,230 2328.9,233.1 2330.6,236.6 2332.3,240.2 2334.1,243.6 2335.4,246.5 2336.6,249.6 2337.9,252.9 2339.2,256.3 2340.5,259.8 2341.8,263.4 2343.1,267.9 2344,271.3 2344.8,274.7 2345.7,277.9 2347,281.6 2350,280.6 2350.8,277.3 2351.7,273.5 2352.6,269.6 2353.4,265.2 2354.3,260.1 2355.1,254.1 2355.6,250.9 2356,247.6 2356.4,244.1 2357.3,242.1" fill="none" stroke="#0000ff" stroke-width="2.5" stroke-linejoin="round" stroke-linecap="round" marker-start="url(#mkb)" marker-mid="url(#mkb)" marker-end="url(#mkb)"/>
<path d="M2355.6 240.6h.01" stroke="#fff" stroke-opacity=".85" stroke-width="2.7" stroke-linecap="round" fill="none"/>
<polyline points="1496.6,124.2 1499.6,124.9 1502.6,125.6 1505.6,126.2 1508.6,126.9 1511.7,127.5 1514.7,128.2 1517.7,128.7 1520.7,129.3 1523.7,129.9 1526.7,130.5 1529.7,131.1 1532.7,131.7 1535.8,132.1 1538.8,132.4 1541.8,132.5 1544.8,132.6 1547.8,132.7 1550.8,132.7 1553.8,132.8 1556.8,132.9 1559.9,133 1562.9,133.3 1565.9,134.1 1568.9,135.1 1571.9,136.4 1574.9,137.8 1577.9,139.3 1580.9,140.9 1584,142.4 1586.5,144 1589.1,145.7 1591.7,147.6 1594.3,149.6 1596.9,151.6 1599.5,153.6 1602,155.5 1604.6,157.2 1607.6,158.9 1610.6,160.5 1613.7,162 1616.7,163.4 1619.7,164.8 1622.7,166 1625.7,167.2 1628.7,168.4 1631.7,169.4 1634.7,170.4 1637.8,171.3 1640.8,172.2 1643.8,173 1646.8,173.8 1649.8,174.6 1652.8,175.3 1655.8,176.1 1658.8,176.8 1661.9,177.5 1664.9,178.1 1667.9,178.7 1670.9,179.4 1673.9,180 1676.9,180.7 1679.9,181.5 1682.9,182.4 1686,183.6 1689,185.1 1692,186.5 1695,187.7 1698,188.5 1701,188.7 1704,188.6 1707,188.4 1710.1,188.1 1713.1,187.7 1716.1,187.2 1719.1,186.7 1722.1,185.7 1725.1,184.1 1727.7,182.5 1730.3,180.7 1732.9,178.9 1735.4,177.2 1738.5,175.6 1741.5,174 1744.5,172.5 1747.5,171 1750.5,169.7 1753.5,168.3 1756.5,166.9 1759.5,165.8 1762.6,165 1765.6,164.5 1768.6,164.1 1771.6,163.7 1774.6,163.3 1777.6,162.8 1780.6,162.4 1783.6,161.9 1786.7,161.2 1789.7,160 1792.3,158.4 1794.8,156.7 1797.4,155 1800,153.4 1802.6,151.8 1805.2,150.2 1808.2,148.5 1811.2,147 1814.2,145.8 1817.2,144.8 1820.2,143.8 1823.2,143 1826.2,142.3 1829.3,141.7 1832.3,141.2 1835.3,140.9 1838.3,140.8 1841.3,140.7 1844.3,140.6 1847.3,140.6 1850.3,140.5 1853.4,140.5 1856.4,140.4 1859.4,140.3 1862.4,140.2 1865.4,140.1 1868.4,139.9 1871.4,139.7 1874.4,139.5 1877.5,139 1880.5,138.3 1883.5,137.4 1886.5,136.5 1889.5,135.5 1892.5,134.6 1895.5,133.5 1898.5,132.4 1901.6,131.8 1904.6,131.2 1907.6,130.7 1910.6,130.2 1913.6,129.8 1916.6,129.4 1919.6,129.1 1922.6,128.9 1925.7,128.8 1928.7,128.8 1931.7,128.8 1934.7,128.8 1937.7,128.8 1940.7,128.8 1943.7,128.9 1946.7,128.9 1949.8,128.9 1952.8,128.9 1955.8,128.9 1958.8,128.9 1961.8,128.8 1964.8,128.7 1967.8,128.7 1970.8,128.5 1973.9,128.4 1976.9,128.4 1979.9,128.3 1982.9,128.2 1985.9,128.2 1988.9,128.1 1991.9,128.1 1994.9,128.1 1998,128 2001,128 2004,128 2007,128 2010,128 2013,128 2016,128.3 2019,128.6 2022.1,129.1 2025.1,129.6 2028.1,130.1 2031.1,130.6 2034.1,131.1 2037.1,131.5 2040.1,131.9 2043.1,132.2 2046.2,132.6 2049.2,132.9 2052.2,133.2 2055.2,133.6 2058.2,133.9 2061.2,134.3 2064.2,134.6 2067.2,135 2070.3,135.3 2073.3,135.6 2076.3,136 2079.3,136.5 2082.3,137.1 2085.3,137.9 2088.3,138.8 2091.3,139.7 2094.4,140.7 2097.4,141.6 2100.4,142.6 2103.4,143.6 2106.4,144.7 2109.4,145.9 2112.4,147.1 2115.4,148.4 2118.5,149.4 2121.5,150.2 2124.5,150.8 2127.5,151.4 2130.5,151.9 2133.5,152.4 2136.5,152.9 2139.5,153.4 2142.6,154 2145.6,154.3 2148.6,154.4 2151.6,154.5 2154.6,154.6 2157.6,154.6 2160.6,154.7 2163.6,154.8 2166.7,155.3 2169.7,156.3 2172.7,158 2175.3,159.8 2177.8,161.8 2180.4,164 2183,166.2 2185.6,168.5 2187.7,170.8 2189.9,173.5 2192,176.4 2193.8,178.9 2195.5,181.3 2197.6,184.4 2199.8,187.3 2201.5,189.8 2203.2,192.4 2205,195 2206.7,197.5 2208.8,200.5 2211,203 2213.6,205.3 2216.1,207.4 2218.7,209.3 2221.3,211 2224.3,212.2 2227.3,212.7 2230.3,212.8 2233.4,212.9 2236.4,213 2239.4,213.2 2242.4,213.8 2245.4,215.2 2248,216.9 2250.6,218.9 2253.2,221.1 2255.7,223.6 2257.9,226.3 2259.6,228.8 2261.3,231.5 2263.1,234.4 2264.8,237.4 2266.5,240.5 2268.2,243.7 2269.9,247.1 2271.2,249.8 2272.5,252.7 2273.8,255.6 2275.1,258.7 2276.4,261.8 2277.7,265 2279,268.3 2280.3,271.5 2281.6,274.9 2282.8,278.5 2284.1,282.4 2285.4,286.4 2286.7,290.3 2288,293.9 2289.3,296.9 2290.6,299.8 2291.9,302.5 2293.6,305.5 2296.2,307.4 2299.2,308.7 2302.2,309.4 2305.2,308.8 2307.8,306.6 2310,304.2 2312.1,301.8 2314.3,299.5 2316.4,296.7 2318.6,293.9 2320.7,291.4 2323.3,289.7 2326.3,288 2329.3,286.8 2332.3,286.1 2335.4,286.1 2338.4,286.4 2341.4,286.7 2344.4,287.7 2347.4,289 2350.4,288.5 2351.3,284.4 2352.1,278.2 2352.6,274.8 2353,271.5 2353.4,268.2 2353.9,264.8 2354.3,261 2354.7,256.9 2355.1,252.6 2355.6,248 2356,243.1 2356.4,238.1 2357.3,235.3" fill="none" stroke="#00ffff" stroke-width="2.5" stroke-linejoin="round" stroke-linecap="round" marker-start="url(#mkc)" marker-mid="url(#mkc)" marker-end="url(#mkc)"/>
<path d="M2354.3 241.6h.01M2355.6 233.8h.01" stroke="#fff" stroke-opacity=".85" stroke-width="2.7" stroke-linecap="round" fill="none"/>
<polyline points="1496.6,127.4 1499.6,128.9 1502.6,130.4 1505.6,131.8 1508.6,133 1511.7,134.3 1514.7,135.4 1517.7,136.4 1520.7,137.4 1523.7,138.3 1526.7,139.2 1529.7,140 1532.7,140.8 1535.8,141.3 1538.8,141.7 1541.8,141.8 1544.8,141.9 1547.8,142 1550.8,142 1553.8,142.1 1556.8,142.2 1559.9,142.3 1562.9,142.7 1565.9,143.5 1568.9,144.8 1571.9,146.4 1574.9,148.2 1577.5,149.8 1580.1,151.4 1583.1,153.1 1585.7,154.7 1588.3,156.5 1590.8,158.4 1593.4,160.4 1596,162.4 1598.6,164.3 1601.2,166.2 1603.8,168 1606.3,169.6 1609.4,171.3 1612.4,172.9 1615.4,174.4 1618.4,175.9 1621.4,177.3 1624.4,178.6 1627.4,179.8 1630.4,180.8 1633.5,181.7 1636.5,182.4 1639.5,183.2 1642.5,183.9 1645.5,184.5 1648.5,185 1651.5,185.5 1654.5,185.9 1657.6,186.3 1660.6,186.6 1663.6,186.9 1666.6,187.2 1669.6,187.5 1672.6,187.7 1675.6,187.9 1678.6,188 1681.7,188.1 1684.7,188 1687.7,187.8 1690.7,187.6 1693.7,187.3 1696.7,186.9 1699.7,186.5 1702.7,185.8 1705.8,184.8 1708.8,183.4 1711.8,181.8 1714.8,180.2 1717.8,178.6 1720.8,176.9 1723.8,175.2 1726.4,173.6 1729,171.9 1731.6,170.3 1734.2,168.7 1737.2,167 1740.2,165.3 1743.2,163.7 1746.2,162.2 1749.2,160.9 1752.2,160 1755.2,159.2 1758.3,158.5 1761.3,157.9 1764.3,157.3 1767.3,156.9 1770.3,156.5 1773.3,156 1776.3,155.6 1779.3,155.2 1782.4,154.8 1785.4,154.3 1788.4,153.5 1791.4,152.1 1794.4,150.4 1797.4,148.6 1800.4,147.2 1803.4,145.7 1806.5,144.3 1809.5,143 1812.5,141.9 1815.5,140.8 1818.5,139.9 1821.5,139 1824.5,138.4 1827.5,137.9 1830.6,137.5 1833.6,137.1 1836.6,137 1839.6,136.9 1842.6,136.9 1845.6,136.9 1848.6,136.8 1851.6,136.8 1854.7,136.7 1857.7,136.7 1860.7,136.6 1863.7,136.4 1866.7,136.2 1869.7,136 1872.7,135.8 1875.7,135.4 1878.8,134.8 1881.8,134.1 1884.8,133.2 1887.8,132.3 1890.8,131.4 1893.8,130.5 1896.8,129.4 1899.8,128.8 1902.9,128.6 1905.9,128.4 1908.9,128.2 1911.9,128.1 1914.9,128 1917.9,127.9 1920.9,127.9 1923.9,127.8 1927,127.8 1930,127.9 1933,128 1936,128.2 1939,128.5 1942,128.8 1945,129.1 1948,129.5 1951,129.8 1954.1,130.1 1957.1,130.3 1960.1,130.6 1963.1,130.8 1966.1,131 1969.1,131.3 1972.1,131.5 1975.1,131.7 1978.2,131.9 1981.2,132.1 1984.2,132.3 1987.2,132.5 1990.2,132.6 1993.2,132.7 1996.2,132.8 1999.2,132.9 2002.3,133.1 2005.3,133.3 2008.3,133.5 2011.3,133.7 2014.3,134.3 2017.3,135 2020.3,135.9 2023.3,137 2026.4,138 2029.4,139 2032.4,140 2035.4,140.7 2038.4,141.3 2041.4,141.8 2044.4,142.2 2047.4,142.6 2050.5,142.9 2053.5,143.2 2056.5,143.6 2059.5,143.9 2062.5,144.3 2065.5,144.7 2068.5,145 2071.5,145.4 2074.6,145.9 2077.6,146.4 2080.6,147.2 2083.6,148.5 2086.6,150.1 2089.6,151.9 2092.6,153.7 2095.2,155.2 2097.8,156.9 2100.4,158.6 2103,160.3 2105.5,162.1 2108.1,163.9 2110.7,165.8 2113.3,167.8 2115.9,169.7 2118.5,171.3 2121.5,172.9 2124.5,174.3 2127.5,175.6 2130.5,176.7 2133.5,177.8 2136.5,178.7 2139.5,179.5 2142.6,180.1 2145.6,180.7 2148.6,181.4 2151.6,182.2 2154.6,183.1 2157.6,184.2 2160.6,185.4 2163.6,186.8 2166.2,188.4 2168.8,190.6 2171,192.9 2173.1,195.6 2175.3,198.4 2177.4,201.3 2179.1,203.8 2180.9,206.6 2182.6,209.7 2184.3,213.1 2186,216.5 2187.7,220.1 2189.5,223.7 2191.2,227.1 2192.9,230.5 2194.6,234.1 2195.9,236.8 2197.2,239.5 2198.5,242.2 2200.2,245.8 2201.9,249.3 2203.7,252.6 2205.4,255.6 2207.1,258.4 2208.8,261.3 2210.6,264.1 2212.3,266.8 2214,269.3 2216.1,272.1 2218.3,274.3 2220.9,276.2 2223.5,278 2226.5,279.5 2229.5,279.9 2232.5,278.4 2235.1,276.1 2237.7,273.8 2240.2,272.2 2243.3,270.9 2246.3,269.7 2249.3,269 2252.3,269 2255.3,269.4 2258.3,270.3 2261.3,271.3 2263.9,273 2266.5,275.4 2268.6,277.6 2270.8,280 2273,282.2 2275.5,284.4 2278.1,286.7 2280.7,288.9 2283.3,291 2285.9,292.9 2288.4,294.6 2291,296.3 2294,298 2297.1,298.3 2299.2,296.2 2300.9,293.3 2302.6,289.8 2303.9,287.1 2305.7,283.7 2307.4,280.4 2309.1,276.8 2310.4,273.9 2311.7,271 2313,268.1 2314.3,265.3 2315.6,262.5 2317.3,258.9 2318.6,256.2 2320.3,252.7 2322,249.2 2323.7,245.9 2325.5,242.9 2327.2,239.9 2328.9,236.9 2330.6,234.1 2332.3,231.5 2334.5,228.7 2336.6,226.5 2339.2,224.6 2341.8,223.1 2344.4,221.3 2347,218.8 2349.1,215.8 2350.8,212.6 2352.1,209.3 2353,206.2 2353.9,202.5 2354.7,198.2 2355.6,193.6 2356.4,188.6 2357.3,187.2" fill="none" stroke="#ff00ff" stroke-width="2.5" stroke-linejoin="round" stroke-linecap="round" marker-start="url(#mkm)" marker-mid="url(#mkm)" marker-end="url(#mkm)"/>
<path d="M2355.6 185.7h.01" stroke="#fff" stroke-opacity=".85" stroke-width="2.7" stroke-linecap="round" fill="none"/>
</g>
<rect x="1496.6" y="91.3" width="860.7" height="694.9" fill="none" stroke="#000" stroke-width="2.7"/>
<path d="M1496.6 786.2v13.5M1604.2 786.2v13.5M1711.8 786.2v13.5M1819.4 786.2v13.5M1927.0 786.2v13.5M2034.5 786.2v13.5M2142.1 786.2v13.5M2249.7 786.2v13.5M2357.3 786.2v13.5M1496.6 91.3h-13.5M1496.6 207.1h-13.5M1496.6 322.9h-13.5M1496.6 438.8h-13.5M1496.6 554.6h-13.5M1496.6 670.4h-13.5M1496.6 786.2h-13.5" stroke="#000" stroke-width="2.7" fill="none"/>
<g font-family="Liberation Serif, serif" font-weight="bold" font-size="46" text-anchor="middle">
<text x="1496.2" y="845.2">2</text>
<text x="1603.8" y="845.2">4</text>
<text x="1711.4" y="845.2">6</text>
<text x="1819.0" y="845.2">8</text>
<text x="1926.5" y="845.2">10</text>
<text x="2034.1" y="845.2">12</text>
<text x="2141.7" y="845.2">14</text>
<text x="2249.3" y="845.2">16</text>
<text x="2356.9" y="845.2">18</text>
</g>
<g font-family="Liberation Serif, serif" font-weight="bold" font-size="46" transform="translate(1473.5 106.4)"><text x="-23.00">0</text></g>
<g font-family="Liberation Serif, serif" font-weight="bold" font-size="46" transform="translate(1473.5 222.2)"><text transform="translate(-50.10 0) scale(1.13 1)">−</text><text x="-23.00">6</text></g>
<g font-family="Liberation Serif, serif" font-weight="bold" font-size="46" transform="translate(1473.5 338.0)"><text transform="translate(-73.10 0) scale(1.13 1)">−</text><text x="-46.00">12</text></g>
<g font-family="Liberation Serif, serif" font-weight="bold" font-size="46" transform="translate(1473.5 453.9)"><text transform="translate(-73.10 0) scale(1.13 1)">−</text><text x="-46.00">18</text></g>
<g font-family="Liberation Serif, serif" font-weight="bold" font-size="46" transform="translate(1473.5 569.7)"><text transform="translate(-73.10 0) scale(1.13 1)">−</text><text x="-46.00">24</text></g>
<g font-family="Liberation Serif, serif" font-weight="bold" font-size="46" transform="translate(1473.5 685.5)"><text transform="translate(-73.10 0) scale(1.13 1)">−</text><text x="-46.00">30</text></g>
<g font-family="Liberation Serif, serif" font-weight="bold" font-size="46" transform="translate(1473.5 801.3)"><text transform="translate(-73.10 0) scale(1.13 1)">−</text><text x="-46.00">36</text></g>
<text font-family="Liberation Serif, serif" font-weight="bold" font-size="59.1" text-anchor="middle" x="1927.4" y="927.1">Frequency(GHz)</text>
<text font-family="Liberation Serif, serif" font-weight="bold" font-size="59.1" text-anchor="middle" transform="translate(1356.8 414.8) rotate(-90)">Reflection loss(dB)</text>
<text font-family="Liberation Serif, serif" font-weight="bold" font-size="79" x="1309.5" y="116.2">(b)</text>
<path d="M1508.3 438.9H1604.2" stroke="#000000" stroke-width="3.2" stroke-linecap="round"/>
<circle cx="1556.2" cy="438.9" r="4.5" fill="#000000"/><circle cx="1554.5" cy="437.4" r="1.4" fill="#fff" fill-opacity=".9"/>
<text font-family="Liberation Serif, serif" font-weight="bold" font-size="42" x="1615.3" y="453.5">5.5 mm</text>
<path d="M1508.3 492.7H1604.2" stroke="#ff0000" stroke-width="1.8" stroke-linecap="round"/>
<circle cx="1556.2" cy="492.7" r="4.5" fill="#ff0000"/><circle cx="1554.5" cy="491.2" r="1.4" fill="#fff" fill-opacity=".9"/>
<text font-family="Liberation Serif, serif" font-weight="bold" font-size="42" x="1615.3" y="507.3">6 mm</text>
<path d="M1508.3 546.9H1604.2" stroke="#00ff00" stroke-width="2.8" stroke-linecap="round"/>
<circle cx="1556.2" cy="546.9" r="4.5" fill="#00ff00"/><circle cx="1554.5" cy="545.4" r="1.4" fill="#fff" fill-opacity=".9"/>
<text font-family="Liberation Serif, serif" font-weight="bold" font-size="42" x="1615.3" y="561.5">6.5 mm</text>
<path d="M1508.3 599.7H1604.2" stroke="#0000ff" stroke-width="3" stroke-linecap="round"/>
<circle cx="1556.2" cy="599.7" r="4.5" fill="#0000ff"/><circle cx="1554.5" cy="598.2" r="1.4" fill="#fff" fill-opacity=".9"/>
<text font-family="Liberation Serif, serif" font-weight="bold" font-size="42" x="1615.3" y="614.3">7 mm</text>
<path d="M1508.3 653.3H1604.2" stroke="#00ffff" stroke-width="3" stroke-linecap="round"/>
<circle cx="1556.2" cy="653.3" r="4.5" fill="#00ffff"/><circle cx="1554.5" cy="651.8" r="1.4" fill="#fff" fill-opacity=".9"/>
<text font-family="Liberation Serif, serif" font-weight="bold" font-size="42" x="1615.3" y="667.9">7.5 mm</text>
<path d="M1508.3 706.5H1604.2" stroke="#ff00ff" stroke-width="2.4" stroke-linecap="round"/>
<circle cx="1556.2" cy="706.5" r="4.5" fill="#ff00ff"/><circle cx="1554.5" cy="705.0" r="1.4" fill="#fff" fill-opacity=".9"/>
<text font-family="Liberation Serif, serif" font-weight="bold" font-size="42" x="1615.3" y="721.1">8 mm</text>
<g font-family="Liberation Serif, serif" font-weight="bold" font-size="43.2" transform="translate(1919.0 405.6)"><text x="-0.7">RL</text><text x="58.9" y="11.3" font-size="28.2">min</text><text transform="translate(104.8 0) scale(1.15 1)">=</text><text transform="translate(129.3 0) scale(1.085 1)">−</text><text x="154.9">11.32 dB</text></g>
<path d="M2205.5 359.7L2269.3 328.3" stroke="#000" stroke-width="4.6"/>
<path d="M2298.4 314.0L2269.8 338.4L2261.6 321.7Z" fill="#000"/>
</g>
<g>
<clipPath id="clip_data_d"><rect x="1500.3" y="1062.0" width="861.9" height="694.5"/></clipPath>
<g clip-path="url(#clip_data_d)">
<polyline points="1500.3,1093.1 1503.3,1093.4 1506.3,1093.7 1509.3,1094 1512.3,1094.3 1515.4,1094.6 1518.4,1094.9 1521.4,1095.2 1524.4,1095.5 1527.4,1095.8 1530.4,1096.1 1533.4,1096.4 1536.4,1096.7 1539.4,1097 1542.5,1097.3 1545.5,1097.6 1548.5,1097.9 1551.5,1098.2 1554.5,1098.5 1557.5,1098.8 1560.5,1099.1 1563.5,1099.3 1566.6,1099.6 1569.6,1099.9 1572.6,1100.2 1575.6,1100.5 1578.6,1100.9 1581.6,1101.3 1584.6,1101.8 1587.6,1102.6 1590.6,1103.6 1593.7,1104.7 1596.7,1105.9 1599.7,1107 1602.7,1108.1 1605.7,1109.1 1608.7,1109.8 1611.7,1110.4 1614.7,1110.8 1617.7,1111.2 1620.8,1111.5 1623.8,1111.8 1626.8,1112.1 1629.8,1112.4 1632.8,1112.8 1635.8,1113.3 1638.8,1113.8 1641.8,1114.5 1644.8,1115.4 1647.9,1116.3 1650.9,1117.3 1653.9,1118.4 1656.9,1119.4 1659.9,1120.4 1662.9,1121.3 1665.9,1122 1668.9,1122.7 1671.9,1123.2 1675,1123.8 1678,1124.3 1681,1124.8 1684,1125.3 1687,1126 1690,1126.6 1693,1127.5 1696,1128.4 1699.1,1129.5 1702.1,1130.7 1705.1,1132.1 1708.1,1133.5 1711.1,1135.1 1714.1,1136.9 1716.7,1139 1719.3,1141.4 1721.9,1143.8 1724.4,1145.9 1727.4,1147.5 1730.5,1148.5 1733.5,1149.2 1736.5,1149.7 1739.5,1150.2 1742.5,1150.6 1745.5,1151 1748.5,1151.5 1751.5,1152 1754.5,1152.7 1757.6,1153.4 1760.6,1154.1 1763.6,1154.8 1766.6,1155.6 1769.6,1156.3 1772.6,1157 1775.6,1157.7 1778.6,1158.5 1781.7,1159.3 1784.7,1160 1787.7,1160.5 1790.7,1160.9 1793.7,1160.9 1796.7,1160.9 1799.7,1160.9 1802.7,1160.9 1805.7,1160.9 1808.8,1160.9 1811.8,1160.9 1814.8,1160.8 1817.8,1160.2 1820.8,1159.3 1823.8,1158.3 1826.8,1157.2 1829.8,1156.4 1832.8,1156 1835.9,1156 1838.9,1156.2 1841.9,1156.5 1844.9,1156.7 1847.9,1157 1850.9,1157.2 1853.9,1157.3 1856.9,1157.3 1859.9,1157.2 1863,1157.1 1866,1156.9 1869,1156.6 1872,1156.3 1875,1156 1878,1155.2 1881,1154 1884,1152.3 1886.6,1150.8 1889.2,1149.1 1891.8,1147.6 1894.8,1146 1897.8,1144.6 1900.8,1143.3 1903.8,1141.9 1906.8,1140.6 1909.9,1139.4 1912.9,1138.4 1915.9,1137.5 1918.9,1136.7 1921.9,1135.9 1924.9,1135.2 1927.9,1134.6 1930.9,1134 1933.9,1133.6 1937,1133.3 1940,1133.1 1943,1133 1946,1132.9 1949,1132.7 1952,1132.2 1955,1131.3 1958,1130.4 1961,1129.8 1964.1,1129.2 1967.1,1128.6 1970.1,1128.1 1973.1,1127.5 1976.1,1127 1979.1,1126.4 1982.1,1125.7 1985.1,1125 1988.1,1124.1 1991.2,1123.1 1994.2,1121.9 1997.2,1120.7 2000.2,1119.5 2003.2,1118.3 2006.2,1117.2 2009.2,1116.3 2012.2,1115.6 2015.2,1115.1 2018.3,1114.5 2021.3,1114 2024.3,1113.5 2027.3,1113.1 2030.3,1112.7 2033.3,1112.4 2036.3,1112.2 2039.3,1112.1 2042.4,1112.2 2045.4,1112.2 2048.4,1112.4 2051.4,1112.5 2054.4,1112.7 2057.4,1112.8 2060.4,1113 2063.4,1113.1 2066.4,1113.1 2069.5,1113.1 2072.5,1112.9 2075.5,1112.7 2078.5,1112.4 2081.5,1112 2084.5,1111.7 2087.5,1111.4 2090.5,1111.2 2093.5,1111.1 2096.6,1111.1 2099.6,1111.1 2102.6,1111.3 2105.6,1111.5 2108.6,1111.7 2111.6,1111.9 2114.6,1112 2117.6,1112.2 2120.6,1112.3 2123.7,1112.3 2126.7,1112.3 2129.7,1112.2 2132.7,1112.2 2135.7,1112.1 2138.7,1112 2141.7,1111.9 2144.7,1111.8 2147.8,1111.7 2150.8,1111.6 2153.8,1111.4 2156.8,1111.2 2159.8,1111 2162.8,1110.7 2165.8,1110.4 2168.8,1110.1 2171.8,1109.6 2174.9,1109.1 2177.9,1109.1 2180.9,1109.4 2183.9,1109.9 2186.9,1110.4 2189.9,1111 2192.9,1111.7 2195.9,1112.4 2198.9,1113.5 2202,1114.7 2205,1115.9 2208,1117.1 2211,1118 2214,1118.7 2217,1119.5 2220,1120.2 2223,1120.6 2226,1120.8 2229.1,1120.6 2232.1,1120.2 2235.1,1119.6 2238.1,1119.1 2241.1,1118.6 2244.1,1118 2247.1,1117.4 2250.1,1116.9 2253.2,1116.5 2256.2,1116.3 2259.2,1116.4 2262.2,1117 2265.2,1117.9 2268.2,1119 2271.2,1120.2 2274.2,1121.5 2277.2,1122.9 2279.8,1124.5 2282.4,1126.3 2285,1128.2 2287.6,1130.1 2290.1,1131.9 2292.7,1133.4 2295.7,1134.9 2298.8,1136.3 2301.8,1137.6 2304.8,1138.9 2307.8,1140.2 2310.8,1141.5 2313.8,1143 2316.8,1144.4 2319.8,1145.9 2322.8,1147.4 2325.9,1148.9 2328.9,1150.6 2331.9,1152.3 2334.9,1154.1 2337.5,1155.7 2340.1,1157.3 2342.6,1159.1 2345.2,1161.2 2347.4,1163.4 2349.5,1165.5 2352.5,1167 2355.1,1164.7 2356.8,1161.9 2358.5,1159.3 2360.3,1156.1 2360.7,1155.3" fill="none" stroke="#000000" stroke-width="2.5" stroke-linejoin="round" stroke-linecap="round" marker-start="url(#mkk)" marker-mid="url(#mkk)" marker-end="url(#mkk)"/>
<path d="M2359 1153.8h.01" stroke="#fff" stroke-opacity=".85" stroke-width="2.7" stroke-linecap="round" fill="none"/>
<polyline points="1500.3,1095.8 1503.3,1096.2 1506.3,1096.6 1509.3,1097 1512.3,1097.3 1515.4,1097.7 1518.4,1098.1 1521.4,1098.5 1524.4,1098.8 1527.4,1099.2 1530.4,1099.6 1533.4,1100 1536.4,1100.3 1539.4,1100.7 1542.5,1101.1 1545.5,1101.5 1548.5,1101.8 1551.5,1102.2 1554.5,1102.6 1557.5,1103 1560.5,1103.3 1563.5,1103.6 1566.6,1104 1569.6,1104.3 1572.6,1104.7 1575.6,1105.1 1578.6,1105.5 1581.6,1106.1 1584.6,1106.8 1587.6,1107.9 1590.6,1109.3 1593.7,1110.8 1596.7,1112.5 1599.7,1114.1 1602.7,1115.7 1605.7,1117 1608.7,1118 1611.7,1118.7 1614.7,1119.3 1617.7,1119.7 1620.8,1120.1 1623.8,1120.4 1626.8,1120.8 1629.8,1121.2 1632.8,1121.6 1635.8,1122.1 1638.8,1122.8 1641.8,1123.6 1644.8,1124.6 1647.9,1125.7 1650.9,1126.9 1653.9,1128.1 1656.9,1129.3 1659.9,1130.4 1662.9,1131.5 1665.9,1132.4 1668.9,1133.2 1671.9,1133.9 1675,1134.5 1678,1135.1 1681,1135.8 1684,1136.5 1687,1137.3 1690,1138.1 1693,1139.2 1696,1140.5 1699.1,1142.1 1701.6,1143.7 1704.2,1145.3 1706.8,1147.1 1709.4,1148.9 1712,1150.6 1714.5,1152.4 1717.1,1154.5 1719.7,1156.7 1722.3,1158.8 1724.9,1160.6 1727.9,1162.1 1730.9,1163.1 1733.9,1164 1736.9,1164.9 1739.9,1165.9 1742.9,1166.7 1745.9,1167.3 1749,1167.7 1752,1167.8 1755,1167.5 1758,1167.1 1761,1166.4 1764,1165.8 1767,1165.3 1770,1165 1773,1164.9 1776.1,1165.3 1779.1,1165.9 1782.1,1166.6 1785.1,1167.3 1788.1,1167.9 1791.1,1168.3 1794.1,1168.3 1797.1,1168 1800.1,1167.4 1803.2,1166.7 1806.2,1165.8 1809.2,1164.8 1812.2,1163.8 1815.2,1162.6 1818.2,1160.8 1820.8,1159 1823.4,1157 1826,1155.1 1828.5,1153.4 1831.6,1151.8 1834.6,1151 1837.6,1150.4 1840.6,1150 1843.6,1149.7 1846.6,1149.4 1849.6,1149 1852.6,1148.7 1855.6,1148.2 1858.7,1147.7 1861.7,1147.2 1864.7,1146.6 1867.7,1146 1870.7,1145.3 1873.7,1144.6 1876.7,1143.7 1879.7,1142.7 1882.7,1141.5 1885.8,1140.2 1888.8,1138.9 1891.8,1137.6 1894.8,1136.3 1897.8,1135.1 1900.8,1133.9 1903.8,1132.7 1906.8,1131.5 1909.9,1130.3 1912.9,1129.3 1915.9,1128.5 1918.9,1127.9 1921.9,1127.3 1924.9,1126.8 1927.9,1126.3 1930.9,1125.8 1933.9,1125.4 1937,1125 1940,1124.7 1943,1124.4 1946,1124.1 1949,1123.8 1952,1123.4 1955,1122.8 1958,1122.2 1961,1121.6 1964.1,1121.1 1967.1,1120.5 1970.1,1119.9 1973.1,1119.3 1976.1,1118.7 1979.1,1118.1 1982.1,1117.5 1985.1,1116.9 1988.1,1116.3 1991.2,1115.6 1994.2,1115 1997.2,1114.3 2000.2,1113.6 2003.2,1113 2006.2,1112.5 2009.2,1112.1 2012.2,1111.7 2015.2,1111.5 2018.3,1111.3 2021.3,1111.1 2024.3,1110.9 2027.3,1110.7 2030.3,1110.6 2033.3,1110.5 2036.3,1110.4 2039.3,1110.4 2042.4,1110.4 2045.4,1110.6 2048.4,1110.9 2051.4,1111.3 2054.4,1111.8 2057.4,1112.2 2060.4,1112.6 2063.4,1112.8 2066.4,1113 2069.5,1112.9 2072.5,1112.8 2075.5,1112.5 2078.5,1112.2 2081.5,1111.9 2084.5,1111.6 2087.5,1111.3 2090.5,1111 2093.5,1110.9 2096.6,1110.9 2099.6,1111 2102.6,1111.2 2105.6,1111.4 2108.6,1111.7 2111.6,1112 2114.6,1112.3 2117.6,1112.6 2120.6,1112.8 2123.7,1113.1 2126.7,1113.4 2129.7,1113.7 2132.7,1114 2135.7,1114.3 2138.7,1114.6 2141.7,1114.8 2144.7,1115 2147.8,1115.1 2150.8,1115.2 2153.8,1115 2156.8,1114.8 2159.8,1114.5 2162.8,1114.2 2165.8,1113.9 2168.8,1113.8 2171.8,1113.9 2174.9,1114.4 2177.9,1115 2180.9,1115.7 2183.9,1116.6 2186.9,1117.6 2189.9,1118.6 2192.9,1119.8 2195.9,1121 2198.9,1122.5 2202,1124.2 2205,1125.9 2208,1127.4 2211,1128.8 2214,1130 2217,1131.3 2220,1132.4 2223,1133.2 2226,1133.5 2229.1,1133.4 2232.1,1133.1 2235.1,1132.9 2238.1,1132.6 2241.1,1132.4 2244.1,1132.2 2247.1,1132 2250.1,1131.8 2253.2,1131.7 2256.2,1131.7 2259.2,1132 2262.2,1132.9 2265.2,1134.4 2268.2,1136.2 2270.8,1137.8 2273.4,1139.6 2276,1142.1 2278.1,1144.4 2280.3,1146.8 2282.4,1149.2 2284.6,1151.4 2286.7,1153.6 2288.9,1155.9 2291,1158.1 2293.2,1160.3 2295.7,1162.7 2298.3,1164.8 2300.9,1166.8 2303.5,1168.6 2306.1,1170.4 2308.6,1172.3 2311.2,1174.4 2313.8,1176.7 2316.4,1179.2 2318.5,1181.4 2320.7,1183.6 2322.8,1185.9 2325,1188.2 2327.1,1190.5 2329.3,1192.8 2331.4,1195.2 2333.6,1197.7 2335.7,1200.2 2337.9,1202.9 2340.1,1205.7 2342.2,1208.7 2343.9,1211.1 2345.6,1213.6 2347.4,1216.1 2349.1,1219.3 2350.8,1222.5 2353.8,1223.3 2355.5,1220.7 2357.3,1217.3 2358.5,1214.1 2359.8,1210 2360.7,1206.9" fill="none" stroke="#ff0000" stroke-width="2.5" stroke-linejoin="round" stroke-linecap="round" marker-start="url(#mkr)" marker-mid="url(#mkr)" marker-end="url(#mkr)"/>
<path d="M2359 1205.4h.01" stroke="#fff" stroke-opacity=".85" stroke-width="2.7" stroke-linecap="round" fill="none"/>
<polyline points="1500.3,1099.3 1503.3,1099.8 1506.3,1100.4 1509.3,1100.9 1512.3,1101.5 1515.4,1102 1518.4,1102.5 1521.4,1103 1524.4,1103.5 1527.4,1104 1530.4,1104.5 1533.4,1104.9 1536.4,1105.4 1539.4,1105.8 1542.5,1106.2 1545.5,1106.7 1548.5,1107.1 1551.5,1107.6 1554.5,1108.1 1557.5,1108.6 1560.5,1109.1 1563.5,1109.6 1566.6,1110.2 1569.6,1110.7 1572.6,1111.3 1575.6,1112 1578.6,1112.7 1581.6,1113.6 1584.6,1114.6 1587.6,1116 1590.6,1117.7 1593.2,1119.3 1595.8,1121 1598.4,1122.7 1601,1124.3 1604,1126.1 1607,1127.6 1610,1128.7 1613,1129.5 1616,1130.1 1619,1130.7 1622,1131.2 1625.1,1131.7 1628.1,1132.2 1631.1,1132.7 1634.1,1133.3 1637.1,1134.1 1640.1,1134.9 1643.1,1136 1646.1,1137.2 1649.1,1138.6 1652.2,1139.9 1655.2,1141.3 1658.2,1142.7 1661.2,1144 1664.2,1145.2 1667.2,1146.2 1670.2,1147.1 1673.2,1148 1676.3,1148.9 1679.3,1149.7 1682.3,1150.6 1685.3,1151.5 1688.3,1152.5 1691.3,1153.6 1694.3,1154.9 1697.3,1156.5 1700.3,1158.2 1702.9,1159.8 1705.5,1161.5 1708.1,1163 1711.1,1164.8 1714.1,1166.3 1717.1,1168.1 1720.1,1169.8 1723.1,1171.2 1726.2,1171.9 1729.2,1171.9 1732.2,1171.9 1735.2,1171.7 1738.2,1171.4 1741.2,1171 1744.2,1170.5 1747.2,1170 1750.2,1169.5 1753.3,1168.9 1756.3,1168.1 1759.3,1167.2 1762.3,1166.2 1765.3,1165.4 1768.3,1164.7 1771.3,1164.2 1774.3,1164.1 1777.3,1164 1780.4,1163.9 1783.4,1163.8 1786.4,1163.8 1789.4,1163.7 1792.4,1163.5 1795.4,1163.2 1798.4,1162.5 1801.4,1161.5 1804.5,1160.4 1807.5,1159.1 1810.5,1157.8 1813.5,1156.4 1816.5,1154.7 1819.1,1152.8 1821.7,1150.8 1824.2,1148.7 1826.8,1146.7 1829.4,1144.9 1832.4,1143.4 1835.4,1142.4 1838.4,1141.7 1841.4,1141 1844.5,1140.5 1847.5,1140 1850.5,1139.5 1853.5,1138.9 1856.5,1138.4 1859.5,1137.8 1862.5,1137.2 1865.5,1136.7 1868.6,1136.1 1871.6,1135.5 1874.6,1134.7 1877.6,1133.9 1880.6,1133 1883.6,1131.9 1886.6,1130.8 1889.6,1129.7 1892.6,1128.7 1895.7,1127.7 1898.7,1126.9 1901.7,1126 1904.7,1125.2 1907.7,1124.4 1910.7,1123.6 1913.7,1122.9 1916.7,1122.2 1919.7,1121.4 1922.8,1120.7 1925.8,1120 1928.8,1119.4 1931.8,1118.8 1934.8,1118.4 1937.8,1118.1 1940.8,1117.9 1943.8,1117.7 1946.8,1117.6 1949.9,1117.5 1952.9,1117.5 1955.9,1117.6 1958.9,1117.6 1961.9,1117.5 1964.9,1117.3 1967.9,1117.1 1970.9,1116.7 1974,1116.4 1977,1116 1980,1115.6 1983,1115.1 1986,1114.8 1989,1114.2 1992,1113.6 1995,1113 1998,1112.3 2001.1,1111.6 2004.1,1111 2007.1,1110.6 2010.1,1110.3 2013.1,1110.2 2016.1,1110.2 2019.1,1110.3 2022.1,1110.3 2025.1,1110.4 2028.2,1110.5 2031.2,1110.6 2034.2,1110.7 2037.2,1110.8 2040.2,1110.9 2043.2,1111.2 2046.2,1111.5 2049.2,1112 2052.2,1112.5 2055.3,1113.1 2058.3,1113.5 2061.3,1114 2064.3,1114.2 2067.3,1114.3 2070.3,1114.3 2073.3,1114.3 2076.3,1114.2 2079.3,1114.1 2082.4,1114 2085.4,1113.8 2088.4,1113.8 2091.4,1113.7 2094.4,1113.7 2097.4,1113.7 2100.4,1114 2103.4,1114.5 2106.5,1115.2 2109.5,1115.9 2112.5,1116.6 2115.5,1117.4 2118.5,1118.2 2121.5,1118.8 2124.5,1119.5 2127.5,1120.2 2130.5,1121 2133.6,1121.8 2136.6,1122.6 2139.6,1123.3 2142.6,1123.8 2145.6,1124.3 2148.6,1124.5 2151.6,1124.5 2154.6,1124.4 2157.6,1124.4 2160.7,1124.3 2163.7,1124.2 2166.7,1124.1 2169.7,1124.1 2172.7,1124.2 2175.7,1124.5 2178.7,1125.2 2181.7,1126.4 2184.7,1128.1 2187.3,1129.6 2189.9,1131.3 2192.5,1133 2195.1,1134.6 2197.7,1136.6 2200.2,1138.7 2202.8,1141 2205.4,1143.3 2208,1145.4 2210.6,1147.4 2213.1,1149.1 2215.7,1150.9 2218.3,1152.6 2221.3,1154.3 2224.3,1155.6 2227.3,1156.4 2230.3,1156.9 2233.4,1157.3 2236.4,1157.6 2239.4,1158 2242.4,1158.4 2245.4,1158.7 2248.4,1159.1 2251.4,1159.5 2254.4,1160.1 2257.5,1160.9 2260.5,1162.4 2263,1164.4 2265.6,1166.8 2267.8,1169 2269.9,1171.2 2272.1,1173.7 2274.2,1176.6 2276,1179.2 2277.7,1181.9 2279.4,1184.7 2281.1,1187.6 2282.8,1190.6 2284.6,1193.6 2286.3,1196.8 2288,1200.2 2289.7,1203.8 2291,1206.5 2292.3,1209.2 2294,1212.8 2295.7,1216.2 2297.5,1219.4 2299.2,1222.5 2300.9,1225.6 2302.6,1228.5 2304.3,1231.5 2306.1,1234.4 2307.8,1237.4 2309.5,1240.4 2311.2,1243.4 2312.9,1246.6 2314.7,1249.7 2316.4,1252.8 2318.1,1256 2319.8,1259.2 2321.6,1262.5 2323.3,1265.8 2325,1269.2 2326.7,1272.7 2328.4,1276.1 2330.2,1279.5 2331.9,1283.1 2333.2,1285.8 2334.5,1288.6 2335.7,1291.6 2337,1294.6 2338.3,1297.8 2339.6,1301.2 2340.9,1304.8 2342.2,1308.6 2343.5,1312.6 2344.8,1316.6 2346.1,1320.8 2347.4,1325.1 2348.2,1328.7 2349.1,1332.8 2349.9,1337 2350.8,1340.6 2352.1,1344 2354.2,1341.3 2355.1,1338.2 2356,1334.5 2356.8,1330.9 2357.7,1327.6 2358.5,1323.9 2359.4,1320 2360.3,1315.8 2360.7,1313.7" fill="none" stroke="#00ff00" stroke-width="2.5" stroke-linejoin="round" stroke-linecap="round" marker-start="url(#mkg)" marker-mid="url(#mkg)" marker-end="url(#mkg)"/>
<path d="M2346.5 1327.2h.01M2347 1329.2h.01M2347.4 1331.3h.01M2347.8 1333.4h.01M2359 1312.2h.01" stroke="#fff" stroke-opacity=".85" stroke-width="2.7" stroke-linecap="round" fill="none"/>
<polyline points="1500.3,1103.4 1503.3,1104.1 1506.3,1104.8 1509.3,1105.5 1512.3,1106.1 1515.4,1106.8 1518.4,1107.5 1521.4,1108.2 1524.4,1108.8 1527.4,1109.5 1530.4,1110.2 1533.4,1110.9 1536.4,1111.5 1539.4,1112.2 1542.5,1112.9 1545.5,1113.6 1548.5,1114.3 1551.5,1114.9 1554.5,1115.6 1557.5,1116.3 1560.5,1116.9 1563.5,1117.5 1566.6,1118.1 1569.6,1118.7 1572.6,1119.3 1575.6,1120 1578.6,1120.8 1581.6,1121.8 1584.6,1122.9 1587.6,1124.5 1590.2,1126.2 1592.8,1128.1 1595.4,1130 1598,1132 1600.5,1134 1603.1,1135.8 1605.7,1137.5 1608.7,1139.1 1611.7,1140.3 1614.7,1141.3 1617.7,1142.2 1620.8,1143 1623.8,1143.7 1626.8,1144.5 1629.8,1145.2 1632.8,1146 1635.8,1146.9 1638.8,1148 1641.8,1149.1 1644.8,1150.4 1647.9,1151.8 1650.9,1153.2 1653.9,1154.6 1656.9,1155.9 1659.9,1157.2 1662.9,1158.4 1665.9,1159.5 1668.9,1160.5 1671.9,1161.4 1675,1162.2 1678,1163.1 1681,1163.9 1684,1164.7 1687,1165.5 1690,1166.4 1693,1167.3 1696,1168.2 1699.1,1169.2 1702.1,1170.2 1705.1,1171.1 1708.1,1172.2 1711.1,1173.3 1714.1,1174.5 1717.1,1176.1 1719.7,1177.7 1722.7,1179.2 1725.7,1180.1 1728.7,1180.1 1731.7,1179.9 1734.8,1178.9 1737.8,1177.3 1740.4,1175.5 1742.9,1173.5 1745.5,1171.5 1748.1,1169.6 1750.7,1167.9 1753.7,1166.3 1756.7,1164.7 1759.7,1163.1 1762.7,1161.6 1765.7,1160.2 1768.7,1159 1771.8,1158 1774.8,1157.3 1777.8,1156.7 1780.8,1156.2 1783.8,1155.7 1786.8,1155.1 1789.8,1154.5 1792.8,1153.8 1795.8,1152.9 1798.9,1151.9 1801.9,1150.7 1804.9,1149.4 1807.9,1148.1 1810.9,1146.7 1813.9,1145.2 1816.9,1143.5 1819.5,1141.7 1822.1,1139.9 1824.7,1138.1 1827.3,1136.4 1830.3,1134.7 1833.3,1133.4 1836.3,1132.6 1839.3,1131.8 1842.3,1131.2 1845.3,1130.6 1848.3,1130.1 1851.3,1129.6 1854.4,1129.2 1857.4,1128.7 1860.4,1128.3 1863.4,1127.9 1866.4,1127.6 1869.4,1127.2 1872.4,1126.8 1875.4,1126.3 1878.4,1125.8 1881.5,1125.2 1884.5,1124.6 1887.5,1124 1890.5,1123.3 1893.5,1122.7 1896.5,1122.1 1899.5,1121.5 1902.5,1120.8 1905.5,1120.2 1908.6,1119.6 1911.6,1119 1914.6,1118.4 1917.6,1117.9 1920.6,1117.5 1923.6,1117 1926.6,1116.5 1929.6,1116.1 1932.7,1115.8 1935.7,1115.5 1938.7,1115.3 1941.7,1115.2 1944.7,1115.2 1947.7,1115 1950.7,1114.8 1953.7,1113.8 1956.7,1112.9 1959.8,1112.8 1962.8,1112.9 1965.8,1113 1968.8,1113.1 1971.8,1113.3 1974.8,1113.4 1977.8,1113.5 1980.8,1113.6 1983.8,1113.7 1986.9,1113.6 1989.9,1113.4 1992.9,1113.1 1995.9,1112.7 1998.9,1112.2 2001.9,1111.8 2004.9,1111.4 2007.9,1111.1 2010.9,1110.9 2014,1110.9 2017,1111 2020,1111.1 2023,1111.3 2026,1111.5 2029,1111.8 2032,1112.1 2035,1112.4 2038.1,1112.7 2041.1,1113.1 2044.1,1113.8 2047.1,1114.9 2050.1,1116.1 2053.1,1117.3 2056.1,1118.6 2059.1,1119.7 2062.1,1120.6 2065.2,1121.2 2068.2,1121.3 2071.2,1121.3 2074.2,1121.3 2077.2,1121.3 2080.2,1121.2 2083.2,1121.2 2086.2,1121.1 2089.2,1121.1 2092.3,1121.1 2095.3,1121.1 2098.3,1121.3 2101.3,1121.8 2104.3,1122.6 2107.3,1123.6 2110.3,1124.7 2113.3,1125.8 2116.3,1127.1 2119.4,1128.2 2122.4,1129.3 2125.4,1130.5 2128.4,1131.8 2131.4,1133.3 2134.4,1134.8 2137.4,1136.3 2140.4,1137.6 2143.4,1138.8 2146.5,1139.7 2149.5,1140.3 2152.5,1140.6 2155.5,1140.8 2158.5,1140.9 2161.5,1141 2164.5,1141.2 2167.5,1141.4 2170.6,1141.8 2173.6,1142.7 2176.6,1144 2179.6,1145.6 2182.2,1147.3 2184.7,1149.1 2187.3,1151 2189.9,1153.1 2192.5,1155.4 2195.1,1157.7 2197.2,1160 2199.4,1162.5 2201.5,1165.1 2203.7,1167.8 2205.8,1170.6 2208,1173.4 2210.1,1176.2 2212.3,1178.9 2214.4,1181.7 2216.6,1184.7 2218.7,1187.6 2220.9,1190.5 2223,1193.1 2225.2,1195.3 2227.8,1197.4 2230.3,1199.1 2232.9,1200.7 2235.9,1202.4 2238.5,1204 2241.1,1205.6 2244.1,1207.3 2247.1,1209 2249.7,1210.6 2252.3,1212.3 2254.9,1214.3 2257.5,1216.6 2259.6,1218.9 2261.8,1221.7 2263.5,1224.2 2265.2,1226.9 2266.9,1229.7 2268.6,1232.7 2270.4,1235.8 2272.1,1239.1 2273.4,1241.8 2274.7,1244.7 2276,1247.7 2277.2,1250.9 2278.5,1254.2 2279.8,1257.8 2281.1,1261.6 2282.4,1265.7 2283.7,1270 2284.6,1272.9 2285.4,1275.9 2286.3,1278.8 2287.1,1281.8 2288,1284.7 2288.9,1287.7 2289.7,1290.7 2290.6,1293.7 2291.4,1296.8 2292.3,1300 2293.2,1303.1 2294,1306.3 2294.9,1309.4 2295.7,1312.6 2296.6,1315.8 2297.5,1319 2298.3,1322.2 2299.2,1325.5 2300,1328.9 2300.9,1332.1 2301.8,1335.4 2302.6,1338.6 2303.5,1341.6 2304.3,1344.6 2305.2,1347.6 2306.1,1350.6 2306.9,1353.5 2308.2,1357.7 2309.5,1361.8 2310.8,1365.6 2312.1,1369.1 2313.4,1372.5 2314.7,1375.8 2316,1379 2317.2,1382 2318.5,1384.8 2320.3,1388.2 2322,1391.6 2323.7,1394.9 2325.4,1397.9 2327.1,1400.4 2329.7,1402.6 2332.7,1403.9 2335.7,1404.8 2338.8,1406.2 2341.3,1408.1 2343.9,1410.3 2346.5,1412.6 2349.1,1414.8 2351.7,1417 2354.7,1414.2 2355.5,1408.8 2356,1405.6 2356.4,1402.2 2356.8,1398.9 2357.3,1395.7 2357.7,1392.2 2358.1,1388.5 2358.5,1384.5 2359,1380.2 2359.4,1375.7 2359.8,1371 2360.3,1366 2360.7,1360.9" fill="none" stroke="#0000ff" stroke-width="2.5" stroke-linejoin="round" stroke-linecap="round" marker-start="url(#mkb)" marker-mid="url(#mkb)" marker-end="url(#mkb)"/>
<path d="M2358.6 1364.5h.01M2359 1359.4h.01" stroke="#fff" stroke-opacity=".85" stroke-width="2.7" stroke-linecap="round" fill="none"/>
<polyline points="1500.3,1106.9 1503.3,1107.8 1506.3,1108.7 1509.3,1109.7 1512.3,1110.6 1515.4,1111.5 1518.4,1112.4 1521.4,1113.3 1524.4,1114.1 1527.4,1115 1530.4,1115.9 1533.4,1116.7 1536.4,1117.5 1539.4,1118.3 1542.5,1119.1 1545.5,1119.9 1548.5,1120.8 1551.5,1121.6 1554.5,1122.5 1557.5,1123.3 1560.5,1124.1 1563.5,1124.9 1566.6,1125.7 1569.6,1126.5 1572.6,1127.4 1575.6,1128.3 1578.6,1129.4 1581.6,1130.6 1584.6,1132.1 1587.2,1133.9 1589.8,1135.9 1592.4,1138.2 1594.9,1140.7 1597.1,1142.8 1599.2,1144.9 1601.8,1147.4 1604.4,1149.6 1607,1151.6 1609.6,1153.2 1612.6,1154.7 1615.6,1156 1618.6,1157.3 1621.6,1158.4 1624.6,1159.5 1627.6,1160.5 1630.7,1161.5 1633.7,1162.4 1636.7,1163.4 1639.7,1164.4 1642.7,1165.4 1645.7,1166.4 1648.7,1167.4 1651.7,1168.4 1654.7,1169.3 1657.8,1170.1 1660.8,1170.9 1663.8,1171.7 1666.8,1172.3 1669.8,1172.9 1672.8,1173.5 1675.8,1174 1678.8,1174.5 1681.8,1175 1684.9,1175.5 1687.9,1176 1690.9,1176.5 1693.9,1177 1696.9,1177.6 1699.9,1178.3 1702.9,1178.9 1705.9,1179.5 1708.9,1179.9 1712,1180.1 1715,1180.1 1718,1180.1 1721,1180.1 1724,1180.1 1727,1180.1 1729.6,1178.2 1732.2,1176 1734.8,1173.8 1737.3,1171.4 1739.9,1169 1742.5,1166.5 1745.1,1164.2 1747.7,1162 1750.2,1160.1 1752.8,1158.3 1755.4,1156.7 1758,1155 1760.6,1153.5 1763.6,1151.8 1766.6,1150.4 1769.6,1149.1 1772.6,1148.2 1775.6,1147.5 1778.6,1146.9 1781.7,1146.4 1784.7,1145.9 1787.7,1145.4 1790.7,1144.7 1793.7,1143.9 1796.7,1143 1799.7,1141.9 1802.7,1140.6 1805.7,1139.3 1808.8,1138 1811.8,1136.6 1814.8,1135.2 1817.8,1133.6 1820.8,1131.8 1823.4,1130.3 1826.4,1128.6 1829.4,1127.1 1832.4,1126 1835.4,1125.4 1838.4,1124.9 1841.4,1124.4 1844.5,1124.1 1847.5,1123.7 1850.5,1123.4 1853.5,1123.1 1856.5,1122.7 1859.5,1122.4 1862.5,1122.2 1865.5,1121.9 1868.6,1121.6 1871.6,1121.3 1874.6,1121 1877.6,1120.6 1880.6,1120.2 1883.6,1119.8 1886.6,1119.4 1889.6,1119 1892.6,1118.6 1895.7,1118.2 1898.7,1117.8 1901.7,1117.4 1904.7,1117 1907.7,1116.6 1910.7,1116.2 1913.7,1115.8 1916.7,1115.3 1919.7,1114.8 1922.8,1114.1 1925.8,1113.4 1928.8,1112.7 1931.8,1112.1 1934.8,1111.7 1937.8,1111.6 1940.8,1111.5 1943.8,1111.4 1946.8,1111.3 1949.9,1111.3 1952.9,1111.6 1955.9,1112.1 1958.9,1112.4 1961.9,1112.8 1964.9,1113.2 1967.9,1113.6 1970.9,1113.9 1974,1114.3 1977,1114.5 1980,1114.7 1983,1114.9 1986,1114.9 1989,1114.8 1992,1114.7 1995,1114.5 1998,1114.3 2001.1,1114.1 2004.1,1113.9 2007.1,1113.8 2010.1,1113.7 2013.1,1113.7 2016.1,1113.8 2019.1,1114.2 2022.1,1114.7 2025.1,1115.4 2028.2,1116.2 2031.2,1117.1 2034.2,1118 2037.2,1118.9 2040.2,1119.8 2043.2,1120.8 2046.2,1122.2 2049.2,1123.6 2052.2,1125.2 2055.3,1126.8 2058.3,1128.3 2061.3,1129.6 2064.3,1130.6 2067.3,1131.4 2070.3,1131.8 2073.3,1132.2 2076.3,1132.5 2079.3,1132.7 2082.4,1133 2085.4,1133.2 2088.4,1133.5 2091.4,1133.9 2094.4,1134.3 2097.4,1135 2100.4,1135.9 2103.4,1137.1 2106.5,1138.4 2109.5,1139.9 2112.5,1141.6 2115.5,1143.3 2118.5,1145 2121.5,1146.7 2124.5,1148.5 2127.1,1150.2 2129.7,1152 2132.3,1154 2134.8,1156 2137.4,1158 2140,1160 2142.6,1161.9 2145.2,1163.7 2147.8,1165.3 2150.8,1166.9 2153.8,1168.2 2156.8,1169.4 2159.8,1170.5 2162.8,1171.6 2165.8,1172.8 2168.8,1174.1 2171.8,1175.6 2174.4,1177.2 2177,1179.1 2179.6,1181.2 2182.2,1183.4 2184.7,1185.9 2186.9,1188.1 2189.1,1190.5 2191.2,1193.1 2193.4,1195.9 2195.1,1198.5 2196.8,1201.5 2198.5,1204.9 2200.2,1208.5 2201.5,1211.3 2202.8,1214.2 2204.1,1217.1 2205.4,1219.9 2206.7,1222.7 2208,1225.6 2209.3,1228.6 2210.6,1231.7 2211.9,1234.8 2213.1,1237.9 2214.4,1241 2215.7,1244 2217,1246.9 2218.3,1249.9 2219.6,1253 2220.9,1256 2222.2,1259.1 2223.5,1262 2224.8,1264.8 2226.5,1268.1 2228.2,1270.8 2230.3,1273.8 2232.5,1276.5 2234.7,1279 2236.8,1281.1 2239.4,1283.5 2242,1285.4 2244.5,1287 2247.1,1288.7 2249.7,1290.5 2252.3,1292.8 2254.4,1295 2256.6,1297.4 2258.7,1300.2 2260.9,1303.2 2262.6,1305.9 2264.3,1308.9 2266.1,1312.5 2267.3,1315.7 2268.6,1319.2 2269.9,1323 2271.2,1326.8 2272.5,1330.6 2273.8,1334.3 2275.1,1337.9 2276.4,1341.6 2277.7,1345.2 2279,1348.9 2280.3,1352.6 2281.5,1356.3 2282.8,1359.8 2284.1,1363.2 2285.4,1366.8 2286.7,1370.5 2288,1374.1 2289.3,1377.5 2290.6,1380.5 2292.3,1383.5 2294.4,1385.6 2297,1387.5 2300,1385.7 2301.3,1382.3 2302.6,1378.3 2303.9,1374.5 2305.2,1370.8 2306.5,1366.7 2307.8,1362.4 2308.6,1359.4 2309.5,1356.5 2310.4,1353.5 2311.2,1350.7 2312.1,1347.7 2312.9,1344.7 2313.8,1341.6 2314.7,1338.5 2315.5,1335.4 2316.4,1332.4 2317.2,1329.4 2318.5,1325.2 2319.8,1321.3 2321.1,1317.7 2322.4,1314.3 2323.7,1311.1 2325,1308 2326.3,1305 2327.6,1302.2 2328.9,1299.5 2330.6,1295.9 2332.3,1292.5 2334,1289.2 2335.7,1286.2 2337.5,1283.6 2339.6,1281 2341.8,1278.8 2344.4,1276.5 2346.9,1274 2349.1,1271.6 2351.2,1269.2 2353.4,1266.3 2355.1,1263.3 2356.4,1260.3 2357.7,1256.7 2359,1252.6 2359.8,1249.7 2360.7,1246.7" fill="none" stroke="#00ffff" stroke-width="2.5" stroke-linejoin="round" stroke-linecap="round" marker-start="url(#mkc)" marker-mid="url(#mkc)" marker-end="url(#mkc)"/>
<path d="M2359 1245.2h.01" stroke="#fff" stroke-opacity=".85" stroke-width="2.7" stroke-linecap="round" fill="none"/>
<polyline points="1500.3,1111.6 1503.3,1112.8 1506.3,1113.9 1509.3,1115 1512.3,1116.2 1515.4,1117.2 1518.4,1118.3 1521.4,1119.3 1524.4,1120.3 1527.4,1121.3 1530.4,1122.3 1533.4,1123.1 1536.4,1124 1539.4,1124.8 1542.5,1125.6 1545.5,1126.4 1548.5,1127.3 1551.5,1128.2 1554.5,1129.2 1557.5,1130.2 1560.5,1131.2 1563.5,1132.2 1566.6,1133.3 1569.6,1134.4 1572.6,1135.6 1575.6,1136.9 1578.6,1138.3 1581.6,1139.9 1584.2,1141.4 1586.8,1143.4 1589.4,1145.7 1591.5,1147.8 1593.7,1150.1 1595.8,1152.5 1598,1154.8 1600.1,1157.1 1602.3,1159.4 1604.8,1161.8 1607.4,1164 1610,1165.8 1612.6,1167.4 1615.2,1168.9 1617.7,1170.4 1620.8,1172.2 1623.8,1173.7 1626.8,1175.1 1629.8,1176.3 1632.8,1177.3 1635.8,1177.9 1638.8,1178.2 1641.8,1178.5 1644.8,1178.7 1647.9,1178.9 1650.9,1179.1 1653.9,1179.2 1656.9,1179.3 1659.9,1179.4 1662.9,1179.5 1665.9,1179.5 1668.9,1179.4 1671.9,1179.3 1675,1179.2 1678,1179.1 1681,1178.9 1684,1178.7 1687,1178.5 1690,1178.3 1693,1178 1696,1177.8 1699.1,1177.5 1702.1,1177.1 1705.1,1176.7 1708.1,1176.3 1711.1,1175.7 1714.1,1175.1 1717.1,1174.2 1720.1,1173 1723.1,1171.4 1725.7,1169.8 1728.3,1167.3 1730.5,1164.5 1733,1162.1 1735.6,1159.8 1738.2,1157.7 1740.8,1155.8 1743.4,1154 1745.9,1152.3 1748.5,1150.8 1751.5,1149.1 1754.5,1147.5 1757.6,1145.9 1760.6,1144.5 1763.6,1143.1 1766.6,1142 1769.6,1140.9 1772.6,1140.1 1775.6,1139.4 1778.6,1138.9 1781.7,1138.4 1784.7,1138 1787.7,1137.5 1790.7,1136.9 1793.7,1136.1 1796.7,1135.1 1799.7,1133.9 1802.7,1132.5 1805.7,1131.1 1808.8,1129.7 1811.8,1128.4 1814.8,1127.3 1817.8,1126.1 1820.8,1124.8 1823.8,1123.6 1826.8,1122.6 1829.8,1121.6 1832.8,1120.9 1835.9,1120.5 1838.9,1120 1841.9,1119.7 1844.9,1119.4 1847.9,1119.1 1850.9,1118.8 1853.9,1118.6 1856.9,1118.4 1859.9,1118.3 1863,1118.2 1866,1118.1 1869,1117.9 1872,1117.8 1875,1117.6 1878,1117.4 1881,1117.1 1884,1116.8 1887,1116.4 1890.1,1116.1 1893.1,1115.8 1896.1,1115.5 1899.1,1115.3 1902.1,1115.1 1905.1,1114.8 1908.1,1114.6 1911.1,1114.5 1914.2,1114.3 1917.2,1114.2 1920.2,1114 1923.2,1113.9 1926.2,1113.8 1929.2,1113.6 1932.2,1113.6 1935.2,1113.5 1938.2,1113.5 1941.3,1113.6 1944.3,1113.7 1947.3,1113.8 1950.3,1114 1953.3,1114.8 1956.3,1116.1 1959.3,1117.1 1962.3,1117.9 1965.3,1118.8 1968.4,1119.7 1971.4,1120.5 1974.4,1121.2 1977.4,1121.8 1980.4,1122.2 1983.4,1122.4 1986.4,1122.4 1989.4,1122.4 1992.4,1122.4 1995.5,1122.3 1998.5,1122.2 2001.5,1122.2 2004.5,1122.1 2007.5,1122.1 2010.5,1122 2013.5,1122.1 2016.5,1122.3 2019.6,1122.9 2022.6,1123.7 2025.6,1124.7 2028.6,1125.9 2031.6,1127.1 2034.6,1128.4 2037.6,1129.7 2040.6,1131 2043.6,1132.5 2046.7,1134.2 2049.2,1135.9 2051.8,1137.6 2054.4,1139.4 2057,1141.1 2059.6,1142.8 2062.1,1144.4 2065.2,1146.1 2068.2,1147.5 2071.2,1148.7 2074.2,1149.8 2077.2,1150.7 2080.2,1151.6 2083.2,1152.6 2086.2,1153.5 2089.2,1154.5 2092.3,1155.7 2095.3,1157 2098.3,1158.4 2101.3,1160 2104.3,1161.8 2106.9,1163.4 2109.5,1165.1 2112,1166.9 2114.6,1168.8 2117.2,1170.9 2119.8,1173.1 2122.4,1175.4 2124.5,1177.6 2126.7,1180.1 2128.8,1183 2130.5,1185.5 2132.3,1188.1 2134,1190.8 2135.7,1193.5 2137.4,1196.3 2139.1,1199.1 2140.9,1201.8 2142.6,1204.5 2144.3,1207.1 2146.5,1210.1 2148.6,1212.8 2150.8,1215.4 2152.9,1217.9 2155.1,1220.3 2157.2,1222.7 2159.4,1225 2161.5,1227.2 2163.7,1229.5 2165.8,1231.7 2168,1233.9 2170.6,1236.3 2173.1,1238.7 2175.7,1241.1 2177.9,1243.3 2180,1245.8 2182.2,1248.6 2183.9,1251.1 2185.6,1253.8 2187.3,1256.7 2189.1,1259.8 2190.8,1263.2 2192.5,1266.7 2193.8,1269.7 2195.1,1272.8 2196.4,1276.2 2197.7,1279.7 2198.9,1283.3 2200.2,1287.2 2201.5,1291.3 2202.8,1295.6 2203.7,1298.5 2204.5,1301.4 2205.4,1304.3 2206.7,1308.6 2207.5,1311.5 2208.4,1314.5 2209.3,1317.5 2210.1,1320.5 2211.4,1324.7 2212.7,1328.5 2214,1331.7 2215.3,1335 2216.6,1338.2 2217.9,1340.9 2219.6,1343.6 2222.2,1345.2 2225.2,1346.1 2228.2,1344.8 2230.3,1341.8 2232.1,1338.9 2233.8,1335.9 2235.5,1332.3 2236.8,1329.1 2238.1,1325.7 2239.4,1322.3 2240.7,1318.9 2242,1315.9 2243.3,1313 2244.5,1310 2245.8,1307.1 2247.1,1304.1 2248.4,1301.4 2250.1,1298 2251.9,1295.2 2254,1292.6 2256.2,1290.3 2258.7,1288.1 2261.8,1286.5 2264.8,1285.8 2267.8,1285.4 2270.8,1285.1 2273.8,1284.7 2276.8,1284.3 2279.8,1283.9 2282.8,1283.4 2285.8,1282.7 2288.9,1281.1 2291.4,1279 2293.6,1276.8 2295.7,1274.5 2297.9,1272.1 2300,1269.2 2301.8,1266.5 2303.5,1263.8 2305.2,1260.9 2306.9,1258.1 2308.6,1255.3 2310.4,1252.3 2312.1,1249.1 2313.8,1246 2315.5,1242.9 2317.2,1239.9 2319,1237.2 2321.1,1234.2 2323.3,1231.4 2325.4,1228.7 2327.6,1226.2 2329.7,1224 2332.3,1221.6 2334.9,1219.5 2337.5,1217.6 2340.1,1215.9 2343.1,1214.2 2346.1,1213 2349.1,1212.1 2352.1,1210.7 2354.2,1208 2355.5,1205.1 2356.8,1202 2358.1,1199 2359.4,1195.8 2360.7,1192.4" fill="none" stroke="#ff00ff" stroke-width="2.5" stroke-linejoin="round" stroke-linecap="round" marker-start="url(#mkm)" marker-mid="url(#mkm)" marker-end="url(#mkm)"/>
<path d="M2359 1190.9h.01" stroke="#fff" stroke-opacity=".85" stroke-width="2.7" stroke-linecap="round" fill="none"/>
</g>
<rect x="1500.3" y="1062.0" width="860.4" height="694.5" fill="none" stroke="#000" stroke-width="2.7"/>
<path d="M1500.3 1756.5v13.5M1607.8 1756.5v13.5M1715.4 1756.5v13.5M1822.9 1756.5v13.5M1930.5 1756.5v13.5M2038.0 1756.5v13.5M2145.6 1756.5v13.5M2253.1 1756.5v13.5M2360.7 1756.5v13.5M1500.3 1062.0h-13.5M1500.3 1177.8h-13.5M1500.3 1293.5h-13.5M1500.3 1409.2h-13.5M1500.3 1525.0h-13.5M1500.3 1640.8h-13.5M1500.3 1756.5h-13.5" stroke="#000" stroke-width="2.7" fill="none"/>
<g font-family="Liberation Serif, serif" font-weight="bold" font-size="46" text-anchor="middle">
<text x="1499.9" y="1815.5">2</text>
<text x="1607.4" y="1815.5">4</text>
<text x="1715.0" y="1815.5">6</text>
<text x="1822.5" y="1815.5">8</text>
<text x="1930.1" y="1815.5">10</text>
<text x="2037.6" y="1815.5">12</text>
<text x="2145.2" y="1815.5">14</text>
<text x="2252.7" y="1815.5">16</text>
<text x="2360.3" y="1815.5">18</text>
</g>
<g font-family="Liberation Serif, serif" font-weight="bold" font-size="46" transform="translate(1477.2 1077.1)"><text x="-23.00">0</text></g>
<g font-family="Liberation Serif, serif" font-weight="bold" font-size="46" transform="translate(1477.2 1192.8)"><text transform="translate(-50.10 0) scale(1.13 1)">−</text><text x="-23.00">6</text></g>
<g font-family="Liberation Serif, serif" font-weight="bold" font-size="46" transform="translate(1477.2 1308.6)"><text transform="translate(-73.10 0) scale(1.13 1)">−</text><text x="-46.00">12</text></g>
<g font-family="Liberation Serif, serif" font-weight="bold" font-size="46" transform="translate(1477.2 1424.3)"><text transform="translate(-73.10 0) scale(1.13 1)">−</text><text x="-46.00">18</text></g>
<g font-family="Liberation Serif, serif" font-weight="bold" font-size="46" transform="translate(1477.2 1540.1)"><text transform="translate(-73.10 0) scale(1.13 1)">−</text><text x="-46.00">24</text></g>
<g font-family="Liberation Serif, serif" font-weight="bold" font-size="46" transform="translate(1477.2 1655.8)"><text transform="translate(-73.10 0) scale(1.13 1)">−</text><text x="-46.00">30</text></g>
<g font-family="Liberation Serif, serif" font-weight="bold" font-size="46" transform="translate(1477.2 1771.6)"><text transform="translate(-73.10 0) scale(1.13 1)">−</text><text x="-46.00">36</text></g>
<text font-family="Liberation Serif, serif" font-weight="bold" font-size="59.1" text-anchor="middle" x="1930.9" y="1897.4">Frequency(GHz)</text>
<text font-family="Liberation Serif, serif" font-weight="bold" font-size="59.1" text-anchor="middle" transform="translate(1360.2 1386.2) rotate(-90)">Reflection loss(dB)</text>
<text font-family="Liberation Serif, serif" font-weight="bold" font-size="79" x="1309.5" y="1054.8">(d)</text>
<path d="M1517.5 1409.7H1612.0" stroke="#000000" stroke-width="3" stroke-linecap="round"/>
<circle cx="1564.8" cy="1409.7" r="4.5" fill="#000000"/><circle cx="1563.0" cy="1408.2" r="1.4" fill="#fff" fill-opacity=".9"/>
<text font-family="Liberation Serif, serif" font-weight="bold" font-size="42" x="1623.5" y="1424.3">5.5 mm</text>
<path d="M1517.5 1463.0H1612.0" stroke="#ff0000" stroke-width="3" stroke-linecap="round"/>
<circle cx="1564.8" cy="1463.0" r="4.5" fill="#ff0000"/><circle cx="1563.0" cy="1461.5" r="1.4" fill="#fff" fill-opacity=".9"/>
<text font-family="Liberation Serif, serif" font-weight="bold" font-size="42" x="1623.5" y="1477.6">6 mm</text>
<path d="M1517.5 1516.3H1612.0" stroke="#00ff00" stroke-width="2.2" stroke-linecap="round"/>
<circle cx="1564.8" cy="1516.3" r="4.5" fill="#00ff00"/><circle cx="1563.0" cy="1514.8" r="1.4" fill="#fff" fill-opacity=".9"/>
<text font-family="Liberation Serif, serif" font-weight="bold" font-size="42" x="1623.5" y="1530.9">6.5 mm</text>
<path d="M1517.5 1570.3H1612.0" stroke="#0000ff" stroke-width="3.2" stroke-linecap="round"/>
<circle cx="1564.8" cy="1570.3" r="4.5" fill="#0000ff"/><circle cx="1563.0" cy="1568.8" r="1.4" fill="#fff" fill-opacity=".9"/>
<text font-family="Liberation Serif, serif" font-weight="bold" font-size="42" x="1623.5" y="1584.9">7 mm</text>
<path d="M1517.5 1623.6H1612.0" stroke="#00ffff" stroke-width="3" stroke-linecap="round"/>
<circle cx="1564.8" cy="1623.6" r="4.5" fill="#00ffff"/><circle cx="1563.0" cy="1622.1" r="1.4" fill="#fff" fill-opacity=".9"/>
<text font-family="Liberation Serif, serif" font-weight="bold" font-size="42" x="1623.5" y="1638.2">7.5 mm</text>
<path d="M1517.5 1676.9H1612.0" stroke="#ff00ff" stroke-width="2.6" stroke-linecap="round"/>
<circle cx="1564.8" cy="1676.9" r="4.5" fill="#ff00ff"/><circle cx="1563.0" cy="1675.4" r="1.4" fill="#fff" fill-opacity=".9"/>
<text font-family="Liberation Serif, serif" font-weight="bold" font-size="42" x="1623.5" y="1691.5">8 mm</text>
<g font-family="Liberation Serif, serif" font-weight="bold" font-size="43.2" transform="translate(1892.0 1525.0)"><text x="-0.7">RL</text><text x="58.9" y="11.3" font-size="28.2">min</text><text transform="translate(104.8 0) scale(1.15 1)">=</text><text transform="translate(129.3 0) scale(1.085 1)">−</text><text x="154.9">18.40 dB</text></g>
<path d="M2198.0 1479.0L2317.8 1433.6" stroke="#000" stroke-width="4.6"/>
<path d="M2348.1 1422.1L2317.4 1443.7L2310.8 1426.3Z" fill="#000"/>
</g>
<g>
<clipPath id="clip_data_f"><rect x="1496.4" y="2001.4" width="862.4" height="694.5"/></clipPath>
<g clip-path="url(#clip_data_f)">
<polyline points="1496.4,2048.7 1499.4,2049.2 1502.4,2049.7 1505.4,2050.2 1508.5,2050.7 1511.5,2051.2 1514.5,2051.7 1517.5,2052.2 1520.5,2052.8 1523.5,2053.5 1526.5,2054.1 1529.5,2054.7 1532.6,2055.2 1535.6,2055.5 1538.6,2055.5 1541.6,2055.4 1544.6,2055.2 1547.6,2054.9 1550.6,2054.6 1553.6,2054.3 1556.7,2054.2 1559.7,2054.2 1562.7,2054.2 1565.7,2054.2 1568.7,2054.2 1571.7,2054.2 1574.7,2054.5 1577.8,2055.4 1580.8,2056.7 1583.8,2058.1 1586.8,2059.5 1589.8,2061.1 1592.4,2062.7 1595,2064.3 1597.6,2066 1600.1,2067.6 1602.7,2069.3 1605.3,2071.1 1607.9,2072.9 1610.5,2074.6 1613.5,2076.3 1616.5,2077.8 1619.5,2079.2 1622.5,2080.5 1625.5,2081.7 1628.5,2083.1 1631.6,2084.4 1634.6,2085.6 1637.6,2087 1640.6,2088.5 1643.6,2090.1 1646.2,2091.7 1648.8,2093.4 1651.4,2095.1 1653.9,2097 1656.5,2099 1659.1,2101.2 1661.7,2103.5 1664.3,2106 1666.9,2108.4 1669.4,2110.9 1672,2113.3 1674.6,2115.7 1677.2,2118.2 1679.3,2120.4 1681.5,2122.8 1683.6,2125.4 1685.8,2128.3 1687.5,2130.8 1689.2,2133.3 1691,2136 1692.7,2138.6 1694.4,2141.4 1696.1,2144.2 1697.9,2147.1 1699.6,2150.1 1701.3,2153.1 1703,2156.4 1704.7,2159.7 1706.5,2163 1708.2,2165.9 1709.9,2168.6 1711.6,2171.2 1713.8,2174.2 1715.9,2176.8 1718.1,2178.9 1720.7,2181.2 1723.2,2183.2 1726.3,2184.6 1729.3,2185.2 1732.3,2185.7 1735.3,2186 1738.3,2186 1741.3,2185.7 1744.3,2185.1 1747.4,2184.7 1750.4,2184.7 1753.4,2184.9 1756.4,2185.1 1759.4,2185.6 1762.4,2187.1 1765,2188.8 1768,2190.2 1771,2191 1774,2191.7 1777.1,2192.2 1780.1,2192.2 1783.1,2191.7 1786.1,2190.7 1789.1,2189.2 1791.7,2186.8 1793.8,2184.2 1796,2181.4 1797.7,2178.8 1799.4,2175.7 1801.2,2172.3 1802.9,2168.8 1804.6,2165.3 1805.9,2162.6 1807.2,2159.7 1808.5,2156.8 1809.8,2153.9 1811.1,2151.1 1812.8,2147.6 1814.5,2144.1 1816.2,2140.7 1817.9,2137.5 1819.7,2134.7 1821.8,2131.9 1824,2129.4 1826.1,2127.3 1828.7,2125.3 1831.7,2123.6 1834.7,2122.1 1837.7,2121 1840.8,2120.3 1843.8,2119.9 1846.8,2119.6 1849.8,2119.2 1852.8,2118.8 1855.8,2118.3 1858.8,2117.8 1861.9,2117 1864.9,2115.8 1867.4,2114.2 1870,2112.4 1872.6,2110.4 1875.2,2108.2 1877.3,2106.1 1879.5,2103.8 1881.7,2101.5 1883.8,2099.3 1886,2097.1 1888.1,2094.8 1890.3,2092.6 1892.4,2090.4 1895,2088.1 1897.6,2085.8 1900.2,2083.6 1902.7,2081.7 1905.3,2080.1 1908.3,2078.8 1911.4,2077.6 1914.4,2076.7 1917.4,2076.2 1920.4,2076 1923.4,2075.9 1926.4,2075.8 1929.4,2075.6 1932.4,2075.5 1935.5,2075.4 1938.5,2075.2 1941.5,2075.1 1944.5,2074.8 1947.5,2074.4 1950.5,2073.8 1953.5,2073.1 1956.6,2072.4 1959.6,2071.6 1962.6,2070.6 1965.6,2069.4 1968.6,2068.3 1971.6,2067.2 1974.6,2066.3 1977.6,2065.3 1980.7,2064.4 1983.7,2063.5 1986.7,2062.8 1989.7,2062.2 1992.7,2061.6 1995.7,2061 1998.7,2060.4 2001.7,2059.8 2004.8,2059.1 2007.8,2058.5 2010.8,2057.9 2013.8,2057.5 2016.8,2057.2 2019.8,2056.9 2022.8,2056.6 2025.9,2056.3 2028.9,2056 2031.9,2055.7 2034.9,2055.4 2037.9,2055.1 2040.9,2054.8 2043.9,2054.5 2046.9,2054.1 2050,2053.8 2053,2053.6 2056,2053.4 2059,2053.2 2062,2053.1 2065,2053 2068,2052.9 2071.1,2053 2074.1,2053 2077.1,2053.1 2080.1,2053.3 2083.1,2053.5 2086.1,2053.6 2089.1,2053.8 2092.1,2054 2095.2,2054.1 2098.2,2054.3 2101.2,2054.5 2104.2,2054.7 2107.2,2054.9 2110.2,2055.1 2113.2,2055.2 2116.2,2055.4 2119.3,2055.5 2122.3,2055.5 2125.3,2055.3 2128.3,2054.3 2131.3,2053.2 2134.3,2052.5 2137.3,2052.1 2140.4,2051.7 2143.4,2051.3 2146.4,2051.1 2149.4,2051 2152.4,2051 2155.4,2051 2158.4,2051 2161.4,2051 2164.5,2051 2167.5,2051 2170.5,2051.4 2173.5,2052.2 2176.5,2053.2 2179.5,2054.2 2182.5,2055.2 2185.6,2056.3 2188.6,2057.5 2191.6,2058.7 2194.6,2059.8 2197.6,2060.9 2200.6,2062.1 2203.6,2063.1 2206.6,2064 2209.7,2064.6 2212.7,2065.1 2215.7,2065.6 2218.7,2065.9 2221.7,2066 2224.7,2065.8 2227.7,2065.2 2230.7,2064.7 2233.8,2064.3 2236.8,2064 2239.8,2063.8 2242.8,2063.6 2245.8,2063.5 2248.8,2063.7 2251.8,2064.7 2254.9,2066 2257.9,2067.5 2260.9,2068.9 2263.9,2070.7 2266.5,2072.3 2269.1,2073.8 2272.1,2075.5 2275.1,2077.1 2278.1,2078.7 2281.1,2080.2 2284.1,2081.3 2287.1,2082.2 2290.1,2083 2293.2,2083.6 2296.2,2084.2 2299.2,2084.7 2302.2,2085.1 2305.2,2085.4 2308.2,2086 2311.2,2087 2314.3,2088.6 2316.8,2090.3 2319.4,2092.2 2322,2094.4 2324.2,2096.8 2326.3,2099.4 2328.5,2102.2 2330.6,2105.2 2332.3,2107.8 2334.1,2110.6 2335.8,2113.5 2337.5,2116.3 2339.2,2119.1 2340.9,2122.1 2342.7,2124.9 2344.8,2127.5 2347.4,2129.3 2350.4,2130.1 2353,2127.7 2354.7,2125 2356,2121.8 2357.3,2117.8" fill="none" stroke="#000000" stroke-width="2.5" stroke-linejoin="round" stroke-linecap="round" marker-start="url(#mkk)" marker-mid="url(#mkk)" marker-end="url(#mkk)"/>
<path d="M2355.6 2116.3h.01" stroke="#fff" stroke-opacity=".85" stroke-width="2.7" stroke-linecap="round" fill="none"/>
<polyline points="1496.4,2053.6 1499.4,2054.1 1502.4,2054.7 1505.4,2055.3 1508.5,2055.9 1511.5,2056.5 1514.5,2057.1 1517.5,2057.8 1520.5,2058.6 1523.5,2059.4 1526.5,2060.3 1529.5,2061.1 1532.6,2061.8 1535.6,2062.3 1538.6,2062.5 1541.6,2062.7 1544.6,2062.8 1547.6,2062.8 1550.6,2062.9 1553.6,2063 1556.7,2063.1 1559.7,2063.2 1562.7,2063.3 1565.7,2063.4 1568.7,2063.6 1571.7,2063.8 1574.7,2064.4 1577.8,2065.5 1580.8,2067.1 1583.8,2068.9 1586.4,2070.4 1588.9,2072.3 1591.5,2074.6 1594.1,2077.1 1596.3,2079.3 1598.4,2081.4 1601,2083.8 1603.2,2085.9 1605.3,2088.1 1607.5,2090.2 1610,2092.7 1612.6,2095 1615.2,2097 1617.8,2098.9 1620.4,2100.6 1623,2102.3 1625.5,2104.1 1628.1,2105.9 1630.7,2107.8 1633.3,2109.7 1635.9,2111.6 1638.4,2113.6 1641,2115.6 1643.6,2117.8 1646.2,2120 1648.8,2122.3 1651.4,2124.7 1653.9,2127.2 1656.1,2129.4 1658.2,2131.7 1660.4,2134.1 1662.6,2136.6 1664.7,2139.4 1666.9,2142.5 1668.6,2145.2 1670.3,2147.9 1672,2150.8 1673.7,2153.6 1675.5,2156.4 1677.2,2159.2 1678.9,2162 1680.6,2164.9 1682.4,2168 1684.1,2171.2 1685.8,2174.7 1687.5,2178.2 1689.2,2181.7 1691,2185.2 1692.7,2188.8 1694.4,2192.3 1696.1,2195.5 1697.9,2198.8 1699.6,2202.2 1701.3,2205.1 1703.9,2207 1706.9,2207.5 1709.9,2208.1 1712.5,2210.3 1714.6,2213.3 1716.8,2215.8 1719.8,2216.3 1722.8,2215.5 1725.8,2214.1 1728.4,2212 1730.1,2209.6 1731.9,2206.6 1733.6,2203.5 1735.3,2200.5 1737,2197.4 1738.7,2194 1740.5,2190.7 1742.2,2187.6 1743.9,2184.9 1745.6,2182.4 1747.8,2179.5 1749.9,2176.8 1752.1,2174.3 1754.2,2171.8 1756.4,2169.4 1758.5,2167.3 1761.1,2165.3 1764.1,2163.8 1767.2,2162.6 1770.2,2161.5 1773.2,2160.2 1776.2,2159 1779.2,2157.7 1782.2,2156.1 1785.2,2154.4 1787.8,2152.8 1790.4,2150.9 1793,2148.7 1795.1,2146.3 1797.3,2143.4 1799,2140.9 1800.7,2138.3 1802.4,2135.7 1804.2,2132.9 1805.9,2130 1807.6,2127 1809.3,2124.1 1811.1,2121.1 1812.8,2118 1814.5,2115 1816.2,2112.2 1818.4,2109.3 1820.5,2106.7 1822.7,2104.4 1825.3,2102 1827.8,2100.1 1830.4,2098.5 1833.4,2096.8 1836.5,2095.7 1839.5,2095.2 1842.5,2094.8 1845.5,2094.5 1848.5,2094.2 1851.5,2093.8 1854.5,2093.5 1857.5,2093.1 1860.6,2092.5 1863.6,2091.6 1866.6,2090.4 1869.6,2089 1872.6,2087.3 1875.2,2085.6 1877.8,2083.7 1880.4,2081.7 1882.9,2079.8 1885.5,2077.8 1888.1,2075.7 1890.7,2073.8 1893.3,2072.2 1895.9,2070.6 1898.9,2068.9 1901.9,2067.7 1904.9,2067 1907.9,2066.5 1910.9,2066.1 1913.9,2065.9 1916.9,2066 1920,2066.1 1923,2066.4 1926,2066.7 1929,2067.2 1932,2067.9 1935,2068.4 1938,2068.7 1941.1,2067.4 1944.1,2065.8 1947.1,2064.9 1950.1,2064.2 1953.1,2063.5 1956.1,2062.8 1959.1,2062.1 1962.1,2061.3 1965.2,2060.5 1968.2,2059.8 1971.2,2059.1 1974.2,2058.4 1977.2,2057.7 1980.2,2057.1 1983.2,2056.5 1986.3,2056.1 1989.3,2055.8 1992.3,2055.5 1995.3,2055.2 1998.3,2054.9 2001.3,2054.6 2004.3,2054.4 2007.3,2054.3 2010.4,2054.5 2013.4,2054.7 2016.4,2055 2019.4,2055.3 2022.4,2055.5 2025.4,2055.7 2028.4,2055.7 2031.4,2055.6 2034.5,2055.5 2037.5,2055.4 2040.5,2055.3 2043.5,2055.1 2046.5,2055 2049.5,2054.9 2052.5,2054.9 2055.6,2054.9 2058.6,2055 2061.6,2055.1 2064.6,2055.3 2067.6,2055.5 2070.6,2055.7 2073.6,2055.8 2076.6,2055.9 2079.7,2056.1 2082.7,2056.3 2085.7,2056.7 2088.7,2057.3 2091.7,2057.8 2094.7,2058.2 2097.7,2058.5 2100.8,2058.6 2103.8,2058.7 2106.8,2058.9 2109.8,2059 2112.8,2059.2 2115.8,2059.3 2118.8,2059.5 2121.8,2059.6 2124.9,2059.8 2127.9,2059.9 2130.9,2060 2133.9,2060.2 2136.9,2060.4 2139.9,2060.7 2142.9,2061 2145.9,2061.4 2149,2061.7 2152,2062.1 2155,2062.4 2158,2062.8 2161,2063.3 2164,2063.8 2167,2064.4 2170.1,2065.3 2173.1,2066.4 2176.1,2067.6 2179.1,2068.9 2182.1,2070.3 2185.1,2071.7 2188.1,2073.3 2191.1,2074.8 2194.2,2076.4 2197.2,2078.1 2200.2,2079.9 2203.2,2081.6 2206.2,2083.3 2209.2,2084.8 2212.2,2086.3 2215.3,2087.7 2218.3,2089 2221.3,2090.1 2224.3,2090.8 2227.3,2091.4 2230.3,2092 2233.3,2092.7 2236.3,2093.4 2239.4,2094.2 2242.4,2095.2 2245.4,2096.3 2248.4,2097.8 2251,2099.6 2253.6,2101.7 2256.1,2104 2258.7,2106.4 2261.3,2108.8 2263.5,2111 2265.6,2113.3 2267.8,2115.5 2269.9,2117.6 2272.5,2120 2275.1,2122.4 2277.7,2124.7 2280.2,2126.9 2282.8,2129 2285.4,2130.8 2288,2132.4 2291,2134.1 2293.6,2135.6 2296.2,2137.3 2298.8,2139.2 2301.3,2141.2 2303.9,2143.3 2306.5,2145.8 2308.7,2148.3 2310.8,2151.2 2312.5,2153.7 2314.3,2156.4 2316,2159.3 2317.7,2162.5 2319.4,2166 2320.7,2168.8 2322,2171.8 2323.3,2175 2324.6,2178.4 2325.9,2182.1 2327.2,2185.8 2328.5,2189.7 2329.8,2193.8 2331,2198.1 2331.9,2201 2332.8,2204 2333.6,2207 2334.5,2210.1 2335.3,2213.2 2336.2,2216.3 2337.1,2219.5 2337.9,2222.8 2338.8,2226.1 2339.7,2229.4 2340.5,2232.8 2341.4,2236.2 2342.2,2239.7 2343.1,2243.3 2344,2247.2 2344.8,2251.4 2345.7,2255.5 2346.5,2258.9 2347.4,2261.8 2348.7,2265.8 2351.3,2263.7 2352.1,2258.4 2353,2252.8 2353.9,2248.4 2354.7,2244.1 2355.6,2239.8 2356.4,2235.5 2357.3,2231.2" fill="none" stroke="#ff0000" stroke-width="2.5" stroke-linejoin="round" stroke-linecap="round" marker-start="url(#mkr)" marker-mid="url(#mkr)" marker-end="url(#mkr)"/>
<path d="M2342.3 2245.7h.01M2342.7 2247.7h.01M2343.1 2249.9h.01M2355.6 2229.7h.01" stroke="#fff" stroke-opacity=".85" stroke-width="2.7" stroke-linecap="round" fill="none"/>
<polyline points="1496.4,2058.4 1499.4,2059.3 1502.4,2060.2 1505.4,2061.1 1508.5,2062 1511.5,2062.9 1514.5,2063.8 1517.5,2064.8 1520.5,2065.9 1523.5,2067.1 1526.5,2068.3 1529.5,2069.4 1532.6,2070.4 1535.6,2071.2 1538.6,2071.6 1541.6,2071.8 1544.6,2072 1547.6,2072.2 1550.6,2072.3 1553.6,2072.5 1556.7,2072.7 1559.7,2072.9 1562.7,2073.2 1565.7,2073.4 1568.7,2073.7 1571.7,2074.2 1574.7,2075.2 1577.3,2077 1579.9,2079.3 1582.1,2081.4 1584.2,2083.7 1586.4,2085.8 1588.5,2088.3 1590.7,2090.9 1592.8,2093.8 1595,2096.8 1597.1,2099.8 1599.3,2102.8 1601.4,2105.8 1603.2,2108.2 1604.9,2110.8 1606.6,2113.3 1608.3,2115.8 1610.5,2118.8 1612.6,2121.6 1614.8,2124.1 1616.9,2126.5 1619.1,2128.7 1621.2,2130.9 1623.4,2133 1625.5,2135.3 1627.7,2137.6 1629.8,2140 1632,2142.4 1634.1,2144.9 1636.3,2147.4 1638.4,2149.9 1640.6,2152.4 1642.8,2154.9 1644.9,2157.3 1647.1,2159.7 1649.2,2162.1 1651.4,2164.6 1653.5,2167.2 1655.7,2169.9 1657.8,2172.7 1660,2175.6 1662.1,2178.6 1664.3,2181.6 1666.4,2184.7 1668.1,2187.2 1669.9,2189.8 1671.6,2192.3 1673.7,2195.2 1675.9,2197.9 1678,2200.4 1680.2,2202.8 1682.4,2205.3 1684.5,2207.9 1686.7,2210.7 1688.8,2213.3 1691,2215.5 1693.5,2217.5 1696.1,2219.2 1699.1,2221 1702.2,2221.9 1705.2,2221.8 1708.2,2221.2 1711.2,2220 1713.8,2217.6 1715.9,2215 1718.1,2211.9 1719.8,2208.8 1721.5,2205.1 1722.8,2202.2 1724.1,2199.2 1725.4,2195.8 1726.7,2192.2 1728,2188.4 1729.3,2184.5 1730.6,2180.7 1731.9,2177 1733.1,2173.6 1734.4,2170.1 1735.7,2166.6 1737,2163.3 1738.3,2160.1 1739.6,2157.3 1741.3,2153.9 1743,2150.7 1744.8,2147.8 1746.5,2145.1 1748.6,2142.2 1750.8,2139.7 1752.9,2137.5 1755.5,2135.2 1758.1,2133.3 1760.7,2131.6 1763.7,2129.9 1766.7,2128.5 1769.7,2127.1 1772.7,2125.9 1775.8,2124.8 1778.8,2123.8 1781.8,2122.5 1784.8,2121 1787.8,2119.3 1790.4,2117.5 1793,2115.5 1795.1,2113.4 1797.3,2110.9 1799.4,2108.1 1801.6,2105.4 1803.7,2102.6 1805.9,2099.6 1808,2096.7 1810.2,2093.9 1812.4,2091.2 1814.5,2088.5 1816.7,2086.2 1819.2,2084.1 1821.8,2082.4 1824.8,2080.7 1827.8,2079.6 1830.9,2078.7 1833.9,2078 1836.9,2077.6 1839.9,2077.6 1842.9,2077.6 1845.9,2077.6 1848.9,2077.6 1852,2077.6 1855,2077.6 1858,2077.6 1861,2077.5 1864,2076.9 1867,2076 1870,2074.9 1873,2073.7 1876.1,2072.2 1879.1,2070.5 1882.1,2068.9 1885.1,2067.2 1888.1,2065.6 1891.1,2064.2 1894.1,2063.3 1897.1,2062.6 1900.2,2062 1903.2,2061.8 1906.2,2061.8 1909.2,2062 1912.2,2062.3 1915.2,2062.5 1918.2,2063.1 1921.3,2063.7 1924.3,2064.3 1927.3,2064.8 1930.3,2065.2 1933.3,2065.6 1936.3,2065.9 1939.3,2065.4 1941.9,2063.1 1944.5,2061.5 1947.5,2060.5 1950.5,2059.8 1953.5,2059.2 1956.6,2058.5 1959.6,2057.9 1962.6,2057.2 1965.6,2056.6 1968.6,2056 1971.6,2055.5 1974.6,2055.1 1977.6,2054.7 1980.7,2054.4 1983.7,2054.2 1986.7,2054.2 1989.7,2054.2 1992.7,2054.2 1995.7,2054.2 1998.7,2054.2 2001.7,2054.3 2004.8,2054.5 2007.8,2054.9 2010.8,2055.3 2013.8,2055.6 2016.8,2056 2019.8,2056.3 2022.8,2056.6 2025.9,2056.9 2028.9,2057.1 2031.9,2057.2 2034.9,2057.4 2037.9,2057.5 2040.9,2057.6 2043.9,2057.8 2046.9,2057.9 2050,2058.1 2053,2058.2 2056,2058.4 2059,2058.5 2062,2058.6 2065,2058.8 2068,2059 2071.1,2059.4 2074.1,2059.9 2077.1,2060.6 2080.1,2061.3 2083.1,2062 2086.1,2062.8 2089.1,2063.5 2092.1,2064.3 2095.2,2065.1 2098.2,2065.8 2101.2,2066.6 2104.2,2067.4 2107.2,2068.1 2110.2,2068.8 2113.2,2069.4 2116.2,2069.9 2119.3,2070.4 2122.3,2071.1 2125.3,2072.3 2127.9,2074 2130.5,2075.9 2133,2077.5 2136,2078.8 2139.1,2079.9 2142.1,2080.9 2145.1,2081.9 2148.1,2082.9 2151.1,2083.9 2154.1,2084.9 2157.1,2085.8 2160.2,2086.8 2163.2,2087.9 2166.2,2089.1 2169.2,2090.6 2172.2,2092.3 2174.8,2094 2177.4,2095.8 2180,2097.6 2182.5,2099.6 2185.1,2101.6 2187.7,2103.8 2190.3,2106.2 2192.4,2108.4 2194.6,2110.7 2196.7,2113.4 2198.9,2116.4 2200.6,2118.9 2202.3,2121.4 2204.1,2124 2205.8,2126.4 2207.9,2129.4 2210.1,2132.4 2212.2,2135.4 2214.4,2138.4 2216.5,2141.4 2218.7,2144.3 2220.8,2147.1 2223,2149.8 2225.2,2152.5 2227.3,2155.2 2229.5,2157.8 2231.6,2160.5 2233.8,2163.2 2235.9,2165.9 2238.1,2168.6 2240.2,2171.3 2242.4,2174.1 2244.5,2177 2246.7,2180 2248.8,2183 2250.5,2185.5 2252.3,2188.1 2254,2190.9 2255.7,2194 2257.4,2197.6 2258.7,2200.5 2260,2203.5 2261.3,2206.5 2262.6,2209.4 2263.9,2212.2 2265.6,2215.7 2267.3,2219.2 2269.1,2222.6 2270.8,2226 2272.5,2229.2 2274.2,2232.3 2275.9,2235.3 2277.7,2238.3 2279.4,2241.5 2281.1,2245 2282.4,2247.8 2283.7,2250.7 2285,2253.7 2286.3,2256.6 2287.6,2259.4 2289.3,2262.8 2291,2265.9 2292.7,2268.8 2294.5,2271.7 2296.2,2275 2297.5,2277.7 2298.8,2280.6 2300.1,2283.6 2301.3,2286.9 2302.6,2290.5 2303.9,2294.6 2304.8,2297.5 2305.6,2300.7 2306.5,2304.2 2307.4,2308 2308.2,2312.1 2309.1,2316.3 2310,2320.8 2310.8,2326.4 2311.2,2330.1 2311.7,2334.4 2312.1,2342.8 2312.5,2351.5 2313,2356.6 2313.4,2360.7 2313.8,2364.5 2314.3,2368.5 2314.7,2372.7 2315.1,2376.7 2315.5,2380.7 2316,2385 2316.4,2389.6 2316.8,2394.8 2317.3,2401 2317.7,2407.7 2318.1,2414.5 2318.6,2421 2319,2427.2 2319.4,2433.4 2319.9,2440.2 2320.3,2447.7 2320.7,2456.2 2321.1,2465.2 2321.6,2474.1 2322,2482.9 2322.4,2491.9 2322.9,2500.6 2323.3,2508.7 2323.7,2515.7 2324.2,2522.1 2324.6,2528.3 2325,2534.6 2325.4,2541.1 2325.9,2547.7 2326.3,2554.2 2326.7,2560.3 2327.2,2566.3 2327.6,2572 2328,2577.4 2328.5,2582.5 2328.9,2588.2 2329.3,2592.9 2330.2,2589.4 2330.6,2580.8 2331,2570.4 2331.5,2556.1 2331.9,2546.4 2332.3,2539.6 2332.8,2533.8 2333.2,2528 2333.6,2521.6 2334.1,2515.2 2334.5,2508.7 2334.9,2502.3 2335.3,2495.8 2335.8,2489.3 2336.2,2482.9 2336.6,2476.4 2337.1,2470 2337.5,2463.5 2337.9,2457.1 2338.4,2450.6 2338.8,2443.9 2339.2,2437.1 2339.7,2430.6 2340.1,2425 2340.5,2420 2340.9,2415.3 2341.4,2410.9 2341.8,2406.8 2342.2,2403.1 2342.7,2399.7 2343.1,2396.6 2343.5,2393.6 2344.4,2388 2345.2,2383 2346.1,2378.5 2347,2374.7 2347.8,2371.3 2348.7,2368.3 2350,2364.2 2351.3,2360.4 2352.6,2357.2 2354.3,2353.5 2355.1,2350.3 2355.6,2347.1 2356,2342.7 2356.4,2337.3 2356.9,2331.3 2357.3,2324.8" fill="none" stroke="#00ff00" stroke-width="2.5" stroke-linejoin="round" stroke-linecap="round" marker-start="url(#mkg)" marker-mid="url(#mkg)" marker-end="url(#mkg)"/>
<path d="M2305.7 2306.5h.01M2306.1 2308.5h.01M2306.5 2310.6h.01M2307 2312.8h.01M2307.4 2314.8h.01M2307.8 2317h.01M2308.3 2319.3h.01M2308.7 2321.9h.01M2309.1 2324.9h.01M2309.5 2328.6h.01M2310 2332.9h.01M2310.4 2341.3h.01M2310.8 2350h.01M2311.3 2355.1h.01M2311.7 2359.2h.01M2312.1 2363h.01M2312.6 2367h.01M2313 2371.2h.01M2313.4 2375.2h.01M2313.8 2379.2h.01M2314.3 2383.5h.01M2314.7 2388.1h.01M2315.1 2393.3h.01M2315.6 2399.5h.01M2316 2406.2h.01M2316.4 2413h.01M2316.9 2419.5h.01M2317.3 2425.7h.01M2317.7 2431.9h.01M2318.2 2438.7h.01M2318.6 2446.2h.01M2319 2454.7h.01M2319.4 2463.7h.01M2319.9 2472.6h.01M2320.3 2481.4h.01M2320.7 2490.4h.01M2321.2 2499.1h.01M2321.6 2507.2h.01M2322 2514.2h.01M2322.5 2520.6h.01M2322.9 2526.8h.01M2323.3 2533.1h.01M2323.7 2539.6h.01M2324.2 2546.2h.01M2324.6 2552.7h.01M2325 2558.8h.01M2325.5 2564.8h.01M2325.9 2570.5h.01M2326.3 2575.9h.01M2328.5 2587.9h.01M2328.9 2579.3h.01M2329.3 2568.9h.01M2329.8 2554.6h.01M2330.2 2544.9h.01M2330.6 2538.1h.01M2331.1 2532.3h.01M2331.5 2526.5h.01M2331.9 2520.1h.01M2332.4 2513.7h.01M2332.8 2507.2h.01M2333.2 2500.8h.01M2333.6 2494.3h.01M2334.1 2487.8h.01M2334.5 2481.4h.01M2334.9 2474.9h.01M2335.4 2468.5h.01M2335.8 2462h.01M2336.2 2455.6h.01M2336.7 2449.1h.01M2337.1 2442.4h.01M2337.5 2435.6h.01M2338 2429.1h.01M2338.4 2423.5h.01M2354.3 2341.2h.01M2354.7 2335.8h.01M2355.2 2329.8h.01M2355.6 2323.3h.01" stroke="#fff" stroke-opacity=".85" stroke-width="2.7" stroke-linecap="round" fill="none"/>
<polyline points="1496.4,2066.1 1499.4,2067.2 1502.4,2068.3 1505.4,2069.5 1508.5,2070.7 1511.5,2072 1514.5,2073.2 1517.5,2074.5 1520.5,2076 1523.5,2077.6 1526.5,2079.3 1529.5,2080.9 1532.6,2082.3 1535.6,2083.4 1538.6,2084.1 1541.6,2084.6 1544.6,2084.9 1547.6,2085.2 1550.6,2085.5 1553.6,2085.9 1556.7,2086.3 1559.7,2087 1562.7,2087.9 1565.7,2089 1568.7,2090.4 1571.7,2092 1574.3,2093.7 1576.9,2096 1579,2098.1 1581.2,2100.5 1583.4,2103 1585.5,2105.6 1587.7,2108.4 1589.4,2110.9 1591.1,2113.6 1592.8,2116.5 1594.5,2119.4 1596.3,2122.4 1598,2125.3 1599.7,2128.3 1601.4,2131.3 1603.2,2134.3 1604.9,2137.4 1606.6,2140.6 1608.3,2143.8 1610,2146.9 1611.8,2150 1613.5,2153.1 1615.2,2156.1 1616.9,2159.1 1618.6,2162 1620.4,2165 1622.1,2167.9 1623.8,2170.8 1625.5,2173.7 1627.3,2176.5 1629,2179.3 1630.7,2182.2 1632.4,2185 1634.1,2187.7 1635.9,2190.2 1638,2193.1 1640.2,2195.8 1642.3,2198.3 1644.5,2200.7 1646.6,2202.8 1649.2,2205.2 1651.8,2207.3 1654.4,2209.3 1657,2211 1659.5,2212.7 1662.1,2214.4 1664.7,2216 1667.7,2217.4 1670.7,2217.8 1673.7,2217.7 1676.8,2217.5 1679.8,2217.3 1682.8,2216.8 1685.8,2215.8 1688.8,2214.2 1691.8,2212.5 1694.4,2210.7 1697,2208.3 1699.1,2206 1701.3,2203.5 1703.4,2200.9 1705.6,2197.8 1707.3,2195 1709,2192 1710.8,2188.7 1712.5,2185.1 1713.8,2182.2 1715.1,2179.3 1716.4,2176.3 1717.7,2173.3 1718.9,2170.2 1720.2,2167.1 1721.5,2163.9 1722.8,2160.8 1724.1,2157.7 1725.4,2154.6 1726.7,2151.5 1728,2148.4 1729.3,2145.3 1730.6,2142.4 1731.9,2139.6 1733.6,2136.1 1735.3,2132.6 1737,2129.4 1738.7,2126.4 1740.5,2123.8 1742.6,2120.8 1744.8,2118.1 1746.9,2115.7 1749.5,2113.3 1752.1,2111.4 1754.7,2109.8 1757.7,2108.2 1760.7,2107 1763.7,2105.9 1766.7,2105.1 1769.7,2104.2 1772.7,2103.3 1775.8,2102.4 1778.8,2101.5 1781.8,2100.4 1784.8,2099.2 1787.8,2097.8 1790.8,2096.1 1793.4,2094.5 1796,2092.5 1798.6,2090.3 1801.2,2088 1803.7,2085.8 1806.3,2083.6 1808.9,2081.5 1811.5,2079.4 1814.1,2077.4 1816.7,2075.5 1819.7,2073.9 1822.7,2072.4 1825.7,2071.3 1828.7,2070.4 1831.7,2069.5 1834.7,2068.9 1837.7,2068.7 1840.8,2068.9 1843.8,2069.4 1846.8,2069.9 1849.8,2070.3 1852.8,2070.8 1855.8,2071.2 1858.8,2071.4 1861.9,2071.3 1864.9,2071 1867.9,2070.5 1870.9,2069.9 1873.9,2069 1876.9,2067.8 1879.9,2066.5 1882.9,2065.1 1886,2063.5 1889,2061.9 1892,2060.5 1895,2059.4 1898,2058.5 1901,2057.6 1904,2056.7 1907,2055.8 1910.1,2054.8 1913.1,2054.2 1916.1,2054.2 1919.1,2054.3 1922.1,2054.6 1925.1,2054.8 1928.1,2055.1 1931.2,2055.4 1934.2,2055.8 1937.2,2056.2 1940.2,2056.5 1943.2,2056.9 1946.2,2057.1 1949.2,2057.3 1952.2,2057.4 1955.3,2057.5 1958.3,2057.7 1961.3,2057.8 1964.3,2058 1967.3,2058.1 1970.3,2058.3 1973.3,2058.4 1976.4,2058.6 1979.4,2058.7 1982.4,2058.9 1985.4,2059 1988.4,2059.1 1991.4,2059.3 1994.4,2059.4 1997.4,2059.6 2000.5,2059.8 2003.5,2060.2 2006.5,2060.7 2009.5,2061.2 2012.5,2061.7 2015.5,2062.2 2018.5,2062.6 2021.5,2063.1 2024.6,2063.5 2027.6,2064 2030.6,2064.4 2033.6,2064.8 2036.6,2065.3 2039.6,2065.8 2042.6,2066.3 2045.7,2066.8 2048.7,2067.4 2051.7,2068.1 2054.7,2068.8 2057.7,2069.5 2060.7,2070.4 2063.7,2071.3 2066.7,2072.3 2069.8,2073.5 2072.8,2074.9 2075.8,2076.5 2078.8,2078.1 2081.8,2079.7 2084.8,2081.2 2087.8,2082.8 2090.9,2084.3 2093.9,2085.8 2096.9,2087.1 2099.9,2088.3 2102.9,2089.5 2105.9,2090.6 2108.9,2091.9 2111.9,2093.2 2115,2094.5 2118,2095.9 2121,2097.6 2123.6,2099.2 2126.1,2101.4 2128.3,2103.6 2130.5,2106 2132.6,2108.5 2134.8,2111 2136.9,2113.7 2139.1,2116.5 2141.2,2119.3 2143.4,2122.1 2145.5,2124.7 2147.7,2127.1 2149.8,2129.4 2152,2131.6 2154.1,2133.7 2156.7,2136.2 2159.3,2138.7 2161.9,2141 2164.5,2143.2 2167,2145.2 2169.6,2147.4 2172.2,2149.8 2174.4,2152.1 2176.5,2154.8 2178.7,2157.7 2180.8,2160.7 2182.5,2163.2 2184.7,2166.2 2186.8,2169.3 2188.6,2171.8 2190.3,2174.4 2192,2177.1 2193.7,2180 2195.5,2183.2 2197.2,2186.5 2198.9,2190.2 2200.2,2193.1 2201.5,2196.3 2202.8,2199.7 2204.1,2203.3 2205.4,2207.1 2206.6,2210.9 2207.9,2214.9 2209.2,2219.1 2210.1,2222.1 2210.9,2225.1 2211.8,2228.2 2212.7,2231.4 2213.5,2234.7 2214.4,2238.1 2215.3,2241.7 2216.1,2245.3 2217,2249 2217.8,2252.7 2218.7,2256.5 2219.6,2260.4 2220.4,2264.6 2221.3,2268.9 2222.1,2273.7 2223,2278.9 2223.9,2284.6 2224.7,2290.3 2225.6,2296 2226.4,2301.6 2227.3,2307.1 2228.2,2312.6 2229,2318.1 2229.9,2323.6 2230.7,2328.9 2231.6,2334 2232.5,2339.2 2233.3,2344.8 2233.8,2347.9 2234.2,2351.2 2234.6,2354.9 2235.1,2359.1 2235.5,2363.6 2235.9,2368.1 2236.3,2372.7 2236.8,2377.1 2237.2,2381.4 2237.6,2385.7 2238.1,2390 2238.5,2394.3 2238.9,2398.6 2239.4,2402.9 2239.8,2407.2 2240.2,2411.5 2240.6,2415.8 2241.1,2420.1 2241.5,2424.4 2241.9,2428.7 2242.4,2433.1 2242.8,2437.5 2243.2,2441.9 2243.7,2446.2 2244.1,2450.3 2244.5,2454.3 2245,2458.3 2245.4,2462.2 2245.8,2466 2246.2,2469.5 2246.7,2472.7 2247.5,2478.4 2248.4,2483.4 2249.3,2488.2 2250.1,2493.4 2251,2498.7 2251.8,2504.4 2252.3,2507.5 2252.7,2511 2253.1,2515.2 2253.6,2519.7 2254,2524.2 2254.4,2528.7 2254.9,2533.5 2255.3,2538.2 2255.7,2541.9 2256.6,2546.3 2257.4,2549.2 2258.7,2553.7 2259.6,2558.9 2260,2562.7 2260.4,2567.5 2260.9,2574.5 2261.3,2579.1 2261.7,2582.6 2262.2,2585.6 2263,2591.2 2263.9,2595.6 2265.6,2590.5 2266.5,2585.3 2267.3,2581.2 2268.2,2577.1 2269.1,2572.9 2269.9,2568.2 2270.8,2562.7 2271.2,2559.6 2271.6,2556.4 2272.1,2553.1 2272.5,2549.6 2272.9,2546.1 2273.4,2542.4 2273.8,2538.5 2274.2,2534.2 2274.7,2529.7 2275.1,2525.1 2275.5,2520.5 2275.9,2516.1 2276.4,2511.9 2276.8,2508.2 2277.2,2504.6 2277.7,2501.3 2278.1,2498.1 2278.5,2495 2279,2491.9 2279.4,2488.8 2279.8,2485.7 2280.2,2482.4 2280.7,2479.1 2281.1,2475.8 2281.5,2472.5 2282,2469.2 2282.4,2465.9 2282.8,2462.8 2283.3,2459.8 2284.1,2454.2 2285,2449 2285.8,2444 2286.7,2439 2287.6,2433.9 2288.4,2428.7 2289.3,2423.4 2290.1,2418.1 2291,2413 2291.9,2408.2 2292.7,2403.7 2293.6,2399.3 2294.5,2395.1 2295.3,2390.9 2296.2,2386.7 2297,2382.5 2297.9,2378.2 2298.8,2374 2299.6,2369.9 2300.5,2365.9 2301.3,2362.3 2302.2,2359.1 2303.1,2356 2303.9,2352.2 2304.8,2347.2 2305.2,2344.1 2305.6,2340.6 2306.1,2336.9 2306.5,2333.1 2306.9,2329.2 2307.4,2325.5 2307.8,2321.8 2308.2,2318.4 2308.7,2315.3 2309.1,2312.2 2309.5,2309.2 2310.4,2303.4 2311.2,2297.7 2312.1,2292.1 2313,2286.7 2313.8,2281.2 2314.7,2275.8 2315.5,2270.4 2316.4,2265.2 2317.3,2260.2 2318.1,2255.4 2319,2251 2319.9,2246.8 2320.7,2242.8 2321.6,2238.9 2322.4,2235 2323.3,2231.2 2324.2,2227.3 2325,2223.3 2325.9,2219.4 2326.7,2215.6 2327.6,2212.1 2328.5,2208.9 2329.3,2205.9 2330.2,2203 2331.5,2199 2332.8,2195.6 2334.5,2192.1 2336.2,2189.3 2338.4,2186.4 2340.5,2183.7 2342.7,2181.6 2345.2,2179.3 2347.4,2176.7 2349.1,2174.1 2350.8,2171 2352.6,2167.5 2353.9,2164.5 2355.1,2161 2356.4,2157.2 2357.3,2154.4" fill="none" stroke="#0000ff" stroke-width="2.5" stroke-linejoin="round" stroke-linecap="round" marker-start="url(#mkb)" marker-mid="url(#mkb)" marker-end="url(#mkb)"/>
<path d="M2217.9 2258.9h.01M2218.3 2261h.01M2218.7 2263.1h.01M2219.1 2265.2h.01M2219.6 2267.4h.01M2220 2269.7h.01M2220.4 2272.2h.01M2220.9 2274.7h.01M2221.3 2277.4h.01M2221.7 2280.2h.01M2222.2 2283.1h.01M2222.6 2285.9h.01M2223 2288.8h.01M2223.5 2291.7h.01M2223.9 2294.5h.01M2224.3 2297.3h.01M2224.7 2300.1h.01M2225.2 2302.8h.01M2225.6 2305.6h.01M2226 2308.3h.01M2226.5 2311.1h.01M2226.9 2313.8h.01M2227.3 2316.6h.01M2227.8 2319.4h.01M2228.2 2322.1h.01M2228.6 2324.8h.01M2229 2327.4h.01M2229.5 2330h.01M2229.9 2332.5h.01M2230.3 2335.1h.01M2230.8 2337.7h.01M2231.2 2340.4h.01M2231.6 2343.3h.01M2232.1 2346.4h.01M2232.5 2349.7h.01M2232.9 2353.4h.01M2233.4 2357.6h.01M2233.8 2362.1h.01M2234.2 2366.6h.01M2234.6 2371.2h.01M2235.1 2375.6h.01M2235.5 2379.9h.01M2235.9 2384.2h.01M2236.4 2388.5h.01M2236.8 2392.8h.01M2237.2 2397.1h.01M2237.7 2401.4h.01M2238.1 2405.7h.01M2238.5 2410h.01M2238.9 2414.3h.01M2239.4 2418.6h.01M2239.8 2422.9h.01M2240.2 2427.2h.01M2240.7 2431.6h.01M2241.1 2436h.01M2241.5 2440.4h.01M2242 2444.7h.01M2242.4 2448.8h.01M2242.8 2452.8h.01M2243.3 2456.8h.01M2243.7 2460.7h.01M2244.1 2464.5h.01M2244.5 2468h.01M2245 2471.2h.01M2245.4 2474.2h.01M2245.8 2476.9h.01M2246.3 2479.4h.01M2246.7 2481.9h.01M2247.1 2484.3h.01M2247.6 2486.7h.01M2248 2489.2h.01M2248.4 2491.9h.01M2248.8 2494.6h.01M2249.3 2497.2h.01M2249.7 2500h.01M2250.1 2502.9h.01M2250.6 2506h.01M2251 2509.5h.01M2251.4 2513.7h.01M2251.9 2518.2h.01M2252.3 2522.7h.01M2252.7 2527.2h.01M2253.2 2532h.01M2253.6 2536.7h.01M2254 2540.4h.01M2257 2552.2h.01M2257.5 2554.4h.01M2257.9 2557.4h.01M2258.3 2561.2h.01M2258.7 2566h.01M2259.2 2573h.01M2259.6 2577.6h.01M2260 2581.1h.01M2260.5 2584.1h.01M2260.9 2586.8h.01M2261.3 2589.7h.01M2355.6 2152.9h.01" stroke="#fff" stroke-opacity=".85" stroke-width="2.7" stroke-linecap="round" fill="none"/>
<polyline points="1496.4,2070.9 1499.4,2072.5 1502.4,2074.2 1505.4,2075.8 1508.5,2077.6 1511.5,2079.3 1514,2080.9 1516.6,2082.4 1519.2,2084.1 1521.8,2086 1524.4,2087.9 1527,2089.8 1529.5,2091.7 1532.1,2093.5 1534.7,2095 1537.7,2096.4 1540.7,2097.4 1543.7,2098.3 1546.8,2099 1549.8,2099.9 1552.8,2101 1555.8,2102.3 1558.8,2103.7 1561.8,2105.3 1564.4,2106.9 1567,2108.7 1569.6,2110.9 1572.2,2113.4 1574.3,2115.7 1576.5,2118.2 1578.6,2120.8 1580.8,2123.7 1582.5,2126.2 1584.2,2128.9 1585.9,2131.9 1587.7,2134.9 1589.4,2138.1 1591.1,2141.5 1592.8,2144.9 1594.1,2147.7 1595.4,2150.6 1596.7,2153.7 1598,2157 1599.3,2160.3 1600.6,2163.7 1601.9,2167.1 1603.2,2170.5 1604.4,2173.9 1605.7,2177.3 1607,2180.5 1608.3,2183.8 1609.6,2187.1 1610.9,2190.4 1612.2,2193.7 1613.5,2197 1614.8,2200.3 1616.1,2203.5 1617.4,2206.7 1618.6,2209.8 1619.9,2212.9 1621.2,2215.9 1622.5,2219 1623.8,2222.2 1625.1,2225.2 1626.4,2227.9 1628.1,2231 1630.3,2234 1632.4,2236.8 1634.6,2239 1637.6,2239.9 1640.6,2238.8 1643.2,2237.2 1645.8,2235.3 1647.9,2232.8 1649.6,2230.3 1651.4,2227.5 1653.1,2224.6 1654.8,2222 1656.5,2219.5 1658.2,2216.9 1660,2214.4 1661.7,2211.9 1663.8,2209 1666,2206.3 1668.1,2203.8 1670.3,2201.4 1672.5,2199.1 1674.6,2196.7 1676.8,2194.4 1678.9,2192 1681.1,2189.7 1683.2,2187.3 1685.4,2185 1687.5,2182.6 1689.7,2180.2 1691.8,2177.7 1694,2175.3 1696.1,2172.8 1698.3,2170.3 1700.4,2167.6 1702.6,2164.7 1704.7,2161.7 1706.5,2159 1708.2,2156.1 1709.9,2153.1 1711.6,2149.9 1713.3,2146.4 1715.1,2142.9 1716.8,2139.3 1718.5,2135.9 1720.2,2132.4 1722,2128.9 1723.7,2125.5 1725.4,2122.2 1727.1,2119 1728.8,2115.8 1730.6,2112.7 1732.3,2109.8 1734,2106.9 1735.7,2104.1 1737.5,2101.4 1739.6,2098.5 1741.8,2096.3 1744.3,2094 1746.9,2092 1749.5,2090.4 1752.5,2088.8 1755.5,2087.4 1758.5,2086.3 1761.6,2085.5 1764.6,2084.9 1767.6,2084.3 1770.6,2083.9 1773.6,2083.5 1776.6,2083.2 1779.6,2082.8 1782.6,2082.3 1785.7,2081.7 1788.7,2081 1791.7,2080.1 1794.7,2079 1797.7,2077.5 1800.7,2075.8 1803.7,2074.1 1806.3,2072.5 1809.3,2070.8 1812.4,2069.1 1815.4,2067.5 1818.4,2066.4 1821.4,2065.5 1824.4,2064.8 1827.4,2064.5 1830.4,2064.6 1833.4,2064.6 1836.5,2064.8 1839.5,2065.1 1842.5,2065.6 1845.5,2066.2 1848.5,2066.6 1851.5,2066.9 1854.5,2067.1 1857.5,2067.3 1860.6,2067.3 1863.6,2067 1866.6,2066.6 1869.6,2066 1872.6,2065.3 1875.6,2064.2 1878.6,2062.9 1881.7,2061.6 1884.7,2060.2 1887.7,2058.8 1890.7,2057.5 1893.7,2056.5 1896.7,2055.5 1899.7,2054.6 1902.7,2054.2 1905.8,2054.2 1908.8,2054.5 1911.8,2054.8 1914.8,2055.2 1917.8,2055.7 1920.8,2056.5 1923.8,2057.2 1926.9,2057.9 1929.9,2058.7 1932.9,2059.4 1935.9,2060 1938.9,2060.5 1941.9,2060.9 1944.9,2061.2 1947.9,2061.5 1951,2061.8 1954,2062.1 1957,2062.4 1960,2062.8 1963,2063.2 1966,2063.6 1969,2064.1 1972,2064.6 1975.1,2065.2 1978.1,2065.8 1981.1,2066.4 1984.1,2067.1 1987.1,2067.7 1990.1,2068.2 1993.1,2068.8 1996.2,2069.4 1999.2,2070.1 2002.2,2070.8 2005.2,2071.5 2008.2,2072.3 2011.2,2073.1 2014.2,2073.9 2017.2,2074.7 2020.3,2075.6 2023.3,2076.6 2026.3,2077.5 2029.3,2078.5 2032.3,2079.5 2035.3,2080.5 2038.3,2081.6 2041.3,2082.8 2044.4,2084.1 2047.4,2085.5 2050.4,2087.1 2053.4,2088.8 2056,2090.6 2058.6,2092.6 2061.2,2094.9 2063.7,2097.4 2065.9,2099.6 2068,2101.7 2070.2,2104 2072.3,2106.5 2074.5,2109 2076.6,2111.5 2078.8,2113.9 2081,2116.2 2083.1,2118.5 2085.3,2120.8 2087.8,2123.2 2090.4,2125 2093.4,2126.7 2096.4,2128.2 2099,2129.8 2101.6,2131.4 2104.2,2133.1 2106.8,2135 2109.4,2137.1 2111.9,2139.5 2114.1,2141.8 2116.2,2144.3 2118.4,2147.1 2120.6,2150.1 2122.3,2152.9 2124,2155.9 2125.7,2159.2 2127.4,2162.5 2129.2,2166 2130.9,2169.6 2132.2,2172.5 2133.5,2175.5 2134.8,2178.7 2136,2182.1 2137.3,2185.9 2138.6,2189.8 2139.9,2193.8 2141.2,2197.9 2142.5,2202 2143.8,2206.1 2145.1,2210.3 2146.4,2214.6 2147.7,2218.8 2149,2223 2150.3,2227.2 2151.5,2231.4 2152.8,2235.6 2154.1,2239.8 2155.4,2244 2156.7,2248.3 2158,2252.5 2159.3,2256.7 2160.6,2260.9 2161.9,2265 2163.2,2268.9 2164.5,2272.8 2165.7,2276.7 2167,2280.5 2168.3,2284.3 2169.6,2288.2 2170.9,2292 2172.2,2295.8 2173.5,2299.7 2174.8,2303.7 2176.1,2307.7 2177.4,2311.8 2178.7,2316 2180,2320.2 2180.8,2323.1 2181.7,2326 2182.5,2329.2 2183.4,2332.6 2184.3,2336.1 2185.1,2339.4 2186,2342.4 2187.3,2345.7 2189,2348.5 2190.3,2352.1 2191.1,2357.3 2191.6,2360.7 2192,2364.4 2192.4,2368.3 2192.9,2372.1 2193.3,2375.7 2193.7,2379.2 2194.2,2382.6 2194.6,2386.1 2195,2389.7 2195.5,2393.4 2195.9,2397.1 2196.3,2401 2196.7,2405.1 2197.2,2409.3 2197.6,2413.7 2198,2418.2 2198.5,2422.9 2198.9,2427.8 2199.3,2432.9 2199.8,2438.2 2200.2,2443.8 2200.6,2449.6 2201,2455.4 2201.5,2461.3 2201.9,2467.1 2202.3,2473 2202.8,2479.1 2203.2,2485.6 2203.6,2492.6 2204.1,2500.3 2204.5,2508.3 2204.9,2516.2 2205.4,2523.6 2205.8,2530.5 2206.2,2538 2206.6,2547.1 2207.1,2560.7 2207.5,2576.1 2207.9,2589.2 2208.4,2601.9 2208.8,2615.5 2209.2,2627.4 2209.7,2636.9 2210.1,2643.9 2210.5,2649.8 2210.9,2654.4 2211.8,2650.7 2212.2,2640.7 2212.7,2630.2 2213.1,2618 2213.5,2604.9 2214,2590.9 2214.4,2577.2 2214.8,2564 2215.3,2553.9 2215.7,2546 2216.1,2538.5 2216.5,2530 2217,2520.8 2217.4,2511.4 2217.8,2502.3 2218.3,2493.2 2218.7,2483.7 2219.1,2472.7 2219.6,2461.8 2220,2452.8 2220.4,2444.7 2220.8,2437.4 2221.3,2430.9 2221.7,2424.9 2222.1,2419.1 2222.6,2413.4 2223,2407.6 2223.4,2401.9 2223.9,2396.4 2224.3,2391.2 2224.7,2386.3 2225.2,2381.5 2225.6,2377 2226,2372.5 2226.4,2368.3 2226.9,2364.1 2227.3,2360.1 2227.7,2356.2 2228.2,2352.4 2228.6,2348.8 2229,2345.4 2229.5,2342.1 2229.9,2338.8 2230.3,2335.7 2230.7,2332.5 2231.2,2329.5 2231.6,2326.4 2232,2323.4 2232.5,2320.4 2232.9,2317.4 2233.8,2311.5 2234.6,2305.7 2235.5,2300.1 2236.3,2294.7 2237.2,2289.4 2238.1,2284.3 2238.9,2279.2 2239.8,2274.4 2240.6,2269.7 2241.5,2265.1 2242.4,2260.7 2243.2,2256.3 2244.1,2252 2245,2248 2245.8,2244.2 2246.7,2241 2247.5,2238 2248.4,2235.1 2249.7,2230.9 2251,2227.3 2252.3,2224.4 2254,2221.8 2256.1,2219.5 2258.7,2217.3 2261.3,2215.6 2263.9,2214 2266.9,2212.4 2269.9,2211 2272.9,2209.6 2275.9,2208.1 2278.5,2206.5 2281.1,2204.9 2283.7,2203 2286.3,2201 2288.9,2198.7 2291,2196.6 2293.2,2194.2 2295.3,2191.4 2297.5,2188.3 2299.2,2185.6 2300.9,2182.8 2302.6,2179.7 2304.4,2176.2 2305.6,2173.5 2306.9,2170.7 2308.2,2167.9 2309.5,2165 2310.8,2161.8 2312.1,2158.5 2313.4,2155.3 2314.7,2152.1 2316,2149.1 2317.7,2145.5 2319.4,2142.1 2321.1,2138.8 2322.9,2135.8 2324.6,2133.2 2326.7,2130.5 2328.9,2127.9 2331,2125.8 2333.6,2124.2 2336.6,2123.1 2339.7,2122.3 2342.7,2121.6 2345.7,2121 2348.7,2120 2351.3,2117.5 2353,2114.9 2354.7,2111.3 2356,2107.4 2356.9,2104.4 2357.3,2102.8" fill="none" stroke="#00ffff" stroke-width="2.5" stroke-linejoin="round" stroke-linecap="round" marker-start="url(#mkc)" marker-mid="url(#mkc)" marker-end="url(#mkc)"/>
<path d="M2188.6 2350.6h.01M2189 2352.9h.01M2189.4 2355.8h.01M2189.9 2359.2h.01M2190.3 2362.9h.01M2190.7 2366.8h.01M2191.2 2370.6h.01M2191.6 2374.2h.01M2192 2377.7h.01M2192.5 2381.1h.01M2192.9 2384.6h.01M2193.3 2388.2h.01M2193.8 2391.9h.01M2194.2 2395.6h.01M2194.6 2399.5h.01M2195 2403.6h.01M2195.5 2407.8h.01M2195.9 2412.2h.01M2196.3 2416.7h.01M2196.8 2421.4h.01M2197.2 2426.3h.01M2197.6 2431.4h.01M2198.1 2436.7h.01M2198.5 2442.3h.01M2198.9 2448.1h.01M2199.3 2453.9h.01M2199.8 2459.8h.01M2200.2 2465.6h.01M2200.6 2471.5h.01M2201.1 2477.6h.01M2201.5 2484.1h.01M2201.9 2491.1h.01M2202.4 2498.8h.01M2202.8 2506.8h.01M2203.2 2514.7h.01M2203.7 2522.1h.01M2204.1 2529h.01M2204.5 2536.5h.01M2204.9 2545.6h.01M2205.4 2559.2h.01M2205.8 2574.6h.01M2206.2 2587.7h.01M2206.7 2600.4h.01M2207.1 2614h.01M2207.5 2625.9h.01M2208 2635.4h.01M2208.4 2642.4h.01M2209.7 2654.4h.01M2210.1 2649.2h.01M2210.5 2639.2h.01M2211 2628.7h.01M2211.4 2616.5h.01M2211.8 2603.4h.01M2212.3 2589.4h.01M2212.7 2575.7h.01M2213.1 2562.5h.01M2213.6 2552.4h.01M2214 2544.5h.01M2214.4 2537h.01M2214.8 2528.5h.01M2215.3 2519.3h.01M2215.7 2509.9h.01M2216.1 2500.8h.01M2216.6 2491.7h.01M2217 2482.2h.01M2217.4 2471.2h.01M2217.9 2460.3h.01M2218.3 2451.3h.01M2218.7 2443.2h.01M2219.1 2435.9h.01M2219.6 2429.4h.01M2220 2423.4h.01M2220.4 2417.6h.01M2220.9 2411.9h.01M2221.3 2406.1h.01M2221.7 2400.4h.01M2222.2 2394.9h.01M2355.6 2101.3h.01" stroke="#fff" stroke-opacity=".85" stroke-width="2.7" stroke-linecap="round" fill="none"/>
<polyline points="1496.4,2080.7 1499,2082.5 1501.6,2084.3 1504.1,2086.3 1506.7,2088.3 1509.3,2090.4 1511.9,2092.5 1514.5,2094.9 1517.1,2097.3 1519.6,2099.7 1522.2,2102 1524.8,2104.2 1527.4,2106.5 1530,2108.8 1532.6,2110.9 1535.1,2112.9 1537.7,2114.4 1540.7,2115.8 1543.7,2116.8 1546.8,2117.9 1549.8,2119.1 1552.8,2120.6 1555.8,2122.3 1558.4,2124 1561,2125.9 1563.6,2128.1 1566.1,2130.5 1568.3,2133 1570.4,2136 1572.2,2138.6 1573.9,2141.3 1575.6,2144.3 1577.3,2147.3 1579,2150.5 1580.8,2153.9 1582.1,2156.6 1583.4,2159.5 1584.6,2162.6 1585.9,2165.8 1587.2,2169.1 1588.5,2172.6 1589.8,2176.1 1591.1,2179.9 1592.4,2184 1593.7,2188.3 1594.5,2191.3 1595.4,2194.3 1596.3,2197.3 1597.1,2200.3 1598,2203.3 1598.8,2206.2 1599.7,2209.2 1600.6,2212.3 1601.4,2215.3 1602.3,2218.3 1603.2,2221.4 1604,2224.4 1604.9,2227.4 1605.7,2230.4 1606.6,2233.4 1607.5,2236.4 1608.3,2239.4 1609.2,2242.5 1610,2245.6 1610.9,2248.6 1611.8,2251.5 1613.1,2255.7 1614.3,2259.5 1615.6,2263 1616.9,2266.5 1618.2,2269.9 1619.5,2272.8 1621.2,2275.5 1623.8,2277.1 1626.8,2278.4 1629.8,2278.3 1632.4,2276 1634.6,2273.1 1636.3,2270.2 1637.6,2266.8 1638.9,2262.6 1639.7,2259.5 1640.6,2256.2 1641.5,2253 1642.3,2249.8 1643.2,2246.7 1644,2243.3 1644.9,2239.8 1645.8,2236.2 1646.6,2232.6 1647.5,2229 1648.3,2225.6 1649.2,2222.3 1650.1,2219.1 1650.9,2215.9 1651.8,2212.8 1652.7,2209.8 1653.5,2206.8 1654.8,2202.6 1656.1,2198.8 1657.4,2195.2 1658.7,2191.8 1660,2188.6 1661.3,2185.6 1662.6,2182.8 1664.3,2179.5 1666,2176.6 1667.7,2174 1669.9,2171 1672,2168.3 1674.2,2165.6 1676.3,2163 1678.5,2160.5 1680.6,2158 1682.8,2155.7 1684.9,2153.4 1687.1,2151.1 1689.2,2148.9 1691.4,2146.7 1694,2144.2 1696.6,2141.8 1699.1,2139.3 1701.3,2137.1 1703.4,2134.6 1705.6,2131.6 1707.3,2129 1709,2126.5 1711.2,2124 1713.3,2121.9 1715.9,2119.4 1718.1,2117.1 1720.2,2114.5 1722.4,2111.9 1724.5,2109.2 1726.7,2106.3 1728.8,2103.3 1731,2100.5 1733.1,2097.7 1735.3,2095 1737.5,2092.4 1739.6,2090.1 1742.2,2087.8 1744.8,2085.8 1747.4,2084.1 1750.4,2082.3 1753.4,2080.7 1756.4,2079.4 1759.4,2078.4 1762.4,2077.8 1765.4,2077.4 1768.4,2077 1771.5,2076.6 1774.5,2076.1 1777.5,2075.7 1780.5,2075.2 1783.5,2074.5 1786.5,2073.7 1789.5,2072.7 1792.5,2071.6 1795.6,2070.2 1798.6,2068.6 1801.6,2067.1 1804.6,2065.5 1807.6,2064 1810.6,2062.6 1813.6,2061.1 1816.7,2060 1819.7,2059.3 1822.7,2058.7 1825.7,2058.4 1828.7,2058.3 1831.7,2058.5 1834.7,2058.8 1837.7,2059.1 1840.8,2059.6 1843.8,2060.2 1846.8,2060.8 1849.8,2061.4 1852.8,2062.2 1855.8,2062.8 1858.8,2063.1 1861.9,2063 1864.9,2062.7 1867.9,2062.2 1870.9,2061.6 1873.9,2060.9 1876.9,2060.1 1879.9,2059.3 1882.9,2058.6 1886,2057.9 1889,2057.2 1892,2056.9 1895,2057 1898,2057.2 1901,2057.4 1904,2057.7 1907,2058.1 1910.1,2058.7 1913.1,2059.4 1916.1,2060.1 1919.1,2060.8 1922.1,2061.6 1925.1,2062.4 1928.1,2063.1 1931.2,2063.9 1934.2,2064.7 1937.2,2065.7 1940.2,2066.9 1943.2,2068.4 1946.2,2069.5 1949.2,2070.4 1952.2,2071.3 1955.3,2072.1 1958.3,2073 1961.3,2074 1964.3,2075.1 1967.3,2076.1 1970.3,2077.2 1973.3,2078.4 1976.4,2079.5 1979.4,2080.7 1982.4,2081.9 1985.4,2083.2 1988.4,2084.8 1991.4,2086.4 1994.4,2088.2 1997.4,2089.9 2000.5,2091.5 2003.5,2093 2006.5,2094.5 2009.5,2096 2012.5,2097.5 2015.5,2099 2018.5,2100.4 2021.5,2101.9 2024.6,2103.4 2027.6,2105.1 2030.6,2106.8 2033.2,2108.3 2035.8,2110 2038.3,2112 2040.9,2114.2 2043.1,2116.3 2045.2,2118.6 2047.4,2121.1 2049.5,2123.9 2051.3,2126.4 2053,2129.1 2054.7,2131.9 2056.4,2134.9 2058.1,2138.2 2059.9,2141.7 2061.6,2145.3 2062.9,2148 2064.2,2150.8 2065.5,2153.6 2066.7,2156.5 2068,2159.4 2069.3,2162.2 2070.6,2165.1 2071.9,2167.9 2073.2,2170.7 2074.5,2173.6 2075.8,2176.4 2077.1,2179.3 2078.4,2182.3 2079.7,2185.3 2081,2188.2 2082.7,2191.6 2084.4,2194.6 2086.1,2197.5 2087.8,2200.7 2089.1,2203.7 2090.4,2207 2091.7,2210.1 2093.4,2213.1 2096.4,2214 2099.5,2214.2 2102.5,2216.1 2104.6,2219.2 2106.3,2222.3 2108.1,2225.5 2109.8,2228.9 2111.1,2231.8 2112.4,2235 2113.7,2238.5 2115,2242.3 2116.2,2246.3 2117.5,2250.7 2118.4,2253.9 2119.3,2257.3 2120.1,2261 2121,2264.8 2121.8,2268.8 2122.7,2272.9 2123.6,2277.1 2124.4,2281.6 2125.3,2286.3 2126.1,2291.3 2127,2296.4 2127.9,2301.5 2128.7,2306.8 2129.6,2312.2 2130.5,2317.8 2131.3,2323.4 2132.2,2329 2133,2334.1 2133.9,2338.4 2134.8,2343.1 2135.6,2349.1 2136,2353.3 2136.5,2359.4 2136.9,2366.5 2137.3,2373.6 2137.8,2379.7 2138.2,2385.2 2138.6,2390.6 2139.1,2396 2139.5,2401.7 2139.9,2408.1 2140.4,2415.6 2140.8,2424.2 2141.2,2433.3 2141.6,2442.2 2142.1,2450.7 2142.5,2459 2142.9,2467.5 2143.4,2476.7 2143.8,2486.6 2144.2,2497.2 2144.7,2509.1 2145.1,2524.4 2145.5,2541.2 2145.9,2553.6 2146.4,2560.9 2146.8,2567.5 2147.2,2578.8 2147.7,2607.1 2148.1,2626 2148.5,2638.7 2149,2650 2149.4,2661.5 2149.8,2672.1 2150.3,2681.9 2150.7,2690.2 2151.1,2684.3 2151.5,2663.5 2152,2652.8 2152.4,2644.9 2152.8,2632.2 2153.3,2616.6 2153.7,2602 2154.1,2588.7 2154.6,2578.4 2155,2569.7 2155.4,2561 2155.8,2552 2156.3,2542.9 2156.7,2533.3 2157.1,2522.8 2157.6,2512.8 2158,2503.6 2158.4,2496.2 2158.9,2490.5 2159.3,2485.6 2159.7,2480.9 2160.2,2475.8 2160.6,2470.5 2161,2465.1 2161.4,2460.1 2161.9,2455.5 2162.3,2451.2 2162.7,2447.1 2163.2,2443.1 2163.6,2439.3 2164,2435.5 2164.5,2431.8 2164.9,2428.1 2165.3,2424.4 2165.7,2420.9 2166.2,2417.6 2167,2412 2167.9,2407 2168.8,2402.4 2169.6,2398.2 2170.5,2394.3 2171.3,2390.6 2172.2,2387.2 2173.1,2384 2173.9,2380.9 2174.8,2378 2176.1,2373.9 2177.4,2370.2 2178.7,2366.9 2180,2364.1 2181.7,2360.9 2183.4,2357.9 2185.1,2354.6 2186.4,2351.7 2187.7,2348 2188.6,2345.1 2189.4,2341.9 2190.3,2338.5 2191.1,2335 2192,2331.4 2192.9,2327.9 2193.7,2324.4 2194.6,2320.9 2195.5,2317.3 2196.3,2313.7 2197.2,2310 2198,2306.3 2198.9,2302.5 2199.8,2298.7 2200.6,2295 2201.5,2291.2 2202.3,2287.4 2203.2,2283.6 2204.1,2279.7 2204.9,2275.8 2205.8,2271.8 2206.6,2267.8 2207.5,2263.6 2208.4,2259.3 2209.2,2255 2210.1,2250.6 2210.9,2246.2 2211.8,2241.8 2212.7,2237.5 2213.5,2233.4 2214.4,2229.4 2215.3,2225.4 2216.1,2221.4 2217,2217.5 2217.8,2213.7 2218.7,2209.9 2219.6,2206.2 2220.4,2202.6 2221.3,2198.9 2222.1,2195.3 2223,2191.7 2223.9,2188.2 2224.7,2184.8 2225.6,2181.5 2226.4,2178.4 2227.3,2175.5 2228.2,2172.6 2229.5,2168.3 2230.7,2164.3 2232,2160.7 2233.3,2157.7 2235.1,2154.2 2236.8,2151.1 2238.5,2148.4 2240.6,2145.5 2242.8,2143.1 2245.4,2140.7 2248,2138.7 2251,2137.3 2254,2136.3 2257,2135.6 2260,2135.2 2263,2134.9 2266,2134.8 2269.1,2134.6 2272.1,2134.4 2275.1,2134.2 2278.1,2133.7 2281.1,2133.2 2284.1,2132.4 2287.1,2131.2 2290.1,2129.6 2292.7,2128 2295.3,2126.3 2297.9,2124.3 2300.5,2122 2303.1,2119.6 2305.2,2117.3 2307.4,2114.6 2309.5,2111.8 2311.7,2109.3 2314.3,2106.9 2316.8,2104.8 2319.4,2103 2322.4,2101.4 2325.4,2100.2 2328.5,2099.3 2331.5,2098.6 2334.5,2098.5 2337.5,2098.5 2340.5,2098.5 2343.5,2098.5 2346.5,2097.9 2349.6,2096.3 2351.7,2092.7 2353,2088.9 2354.3,2085.8 2356,2082.8 2357.3,2081" fill="none" stroke="#ff00ff" stroke-width="2.5" stroke-linejoin="round" stroke-linecap="round" marker-start="url(#mkm)" marker-mid="url(#mkm)" marker-end="url(#mkm)"/>
<path d="M2119.7 2265.3h.01M2120.1 2267.3h.01M2120.6 2269.4h.01M2121 2271.4h.01M2121.4 2273.5h.01M2121.9 2275.6h.01M2122.3 2277.8h.01M2122.7 2280.1h.01M2123.2 2282.4h.01M2123.6 2284.8h.01M2124 2287.3h.01M2124.4 2289.8h.01M2124.9 2292.3h.01M2125.3 2294.9h.01M2125.7 2297.5h.01M2126.2 2300h.01M2126.6 2302.6h.01M2127 2305.3h.01M2127.5 2308h.01M2127.9 2310.7h.01M2128.3 2313.5h.01M2128.8 2316.3h.01M2129.2 2319.1h.01M2129.6 2321.9h.01M2130 2324.7h.01M2130.5 2327.5h.01M2130.9 2330.1h.01M2131.3 2332.6h.01M2131.8 2334.8h.01M2132.2 2336.9h.01M2132.6 2339.2h.01M2133.1 2341.6h.01M2133.5 2344.4h.01M2133.9 2347.6h.01M2134.3 2351.8h.01M2134.8 2357.9h.01M2135.2 2365h.01M2135.6 2372.1h.01M2136.1 2378.2h.01M2136.5 2383.7h.01M2136.9 2389.1h.01M2137.4 2394.5h.01M2137.8 2400.2h.01M2138.2 2406.6h.01M2138.7 2414.1h.01M2139.1 2422.7h.01M2139.5 2431.8h.01M2139.9 2440.7h.01M2140.4 2449.2h.01M2140.8 2457.5h.01M2141.2 2466h.01M2141.7 2475.2h.01M2142.1 2485.1h.01M2142.5 2495.7h.01M2143 2507.6h.01M2143.4 2522.9h.01M2143.8 2539.7h.01M2144.2 2552.1h.01M2144.7 2559.4h.01M2145.1 2566h.01M2145.5 2577.3h.01M2146 2605.6h.01M2146.4 2624.5h.01M2146.8 2637.2h.01M2147.3 2648.5h.01M2147.7 2660h.01M2148.1 2670.6h.01M2148.6 2680.4h.01M2149 2688.7h.01M2149.4 2682.8h.01M2149.8 2662h.01M2150.3 2651.3h.01M2150.7 2643.4h.01M2151.1 2630.7h.01M2151.6 2615.1h.01M2152 2600.5h.01M2152.4 2587.2h.01M2152.9 2576.9h.01M2153.3 2568.2h.01M2153.7 2559.5h.01M2154.1 2550.5h.01M2154.6 2541.4h.01M2155 2531.8h.01M2155.4 2521.3h.01M2155.9 2511.3h.01M2156.3 2502.1h.01M2156.7 2494.7h.01M2158 2479.4h.01M2158.5 2474.3h.01M2158.9 2469h.01M2159.3 2463.6h.01M2355.6 2079.5h.01" stroke="#fff" stroke-opacity=".85" stroke-width="2.7" stroke-linecap="round" fill="none"/>
</g>
<rect x="1496.4" y="2001.4" width="860.9" height="694.5" fill="none" stroke="#000" stroke-width="2.7"/>
<path d="M1496.4 2695.9v13.5M1604.0 2695.9v13.5M1711.6 2695.9v13.5M1819.2 2695.9v13.5M1926.9 2695.9v13.5M2034.5 2695.9v13.5M2142.1 2695.9v13.5M2249.7 2695.9v13.5M2357.3 2695.9v13.5M1496.4 2001.4h-13.5M1496.4 2117.2h-13.5M1496.4 2232.9h-13.5M1496.4 2348.7h-13.5M1496.4 2464.4h-13.5M1496.4 2580.2h-13.5M1496.4 2695.9h-13.5" stroke="#000" stroke-width="2.7" fill="none"/>
<g font-family="Liberation Serif, serif" font-weight="bold" font-size="46" text-anchor="middle">
<text x="1496.0" y="2754.9">2</text>
<text x="1603.6" y="2754.9">4</text>
<text x="1711.2" y="2754.9">6</text>
<text x="1818.8" y="2754.9">8</text>
<text x="1926.5" y="2754.9">10</text>
<text x="2034.1" y="2754.9">12</text>
<text x="2141.7" y="2754.9">14</text>
<text x="2249.3" y="2754.9">16</text>
<text x="2356.9" y="2754.9">18</text>
</g>
<g font-family="Liberation Serif, serif" font-weight="bold" font-size="46" transform="translate(1473.3 2016.5)"><text x="-23.00">0</text></g>
<g font-family="Liberation Serif, serif" font-weight="bold" font-size="46" transform="translate(1473.3 2132.2)"><text transform="translate(-50.10 0) scale(1.13 1)">−</text><text x="-23.00">6</text></g>
<g font-family="Liberation Serif, serif" font-weight="bold" font-size="46" transform="translate(1473.3 2248.0)"><text transform="translate(-73.10 0) scale(1.13 1)">−</text><text x="-46.00">12</text></g>
<g font-family="Liberation Serif, serif" font-weight="bold" font-size="46" transform="translate(1473.3 2363.8)"><text transform="translate(-73.10 0) scale(1.13 1)">−</text><text x="-46.00">18</text></g>
<g font-family="Liberation Serif, serif" font-weight="bold" font-size="46" transform="translate(1473.3 2479.5)"><text transform="translate(-73.10 0) scale(1.13 1)">−</text><text x="-46.00">24</text></g>
<g font-family="Liberation Serif, serif" font-weight="bold" font-size="46" transform="translate(1473.3 2595.2)"><text transform="translate(-73.10 0) scale(1.13 1)">−</text><text x="-46.00">30</text></g>
<g font-family="Liberation Serif, serif" font-weight="bold" font-size="46" transform="translate(1473.3 2711.0)"><text transform="translate(-73.10 0) scale(1.13 1)">−</text><text x="-46.00">36</text></g>
<text font-family="Liberation Serif, serif" font-weight="bold" font-size="59.1" text-anchor="middle" x="1927.3" y="2836.8">Frequency(GHz)</text>
<text font-family="Liberation Serif, serif" font-weight="bold" font-size="59.1" text-anchor="middle" transform="translate(1352.9 2325.7) rotate(-90)">Reflection loss(dB)</text>
<text font-family="Liberation Serif, serif" font-weight="bold" font-size="79" x="1317.5" y="1993.8">(f)</text>
<path d="M1515.5 2349.7H1612.0" stroke="#000000" stroke-width="3.2" stroke-linecap="round"/>
<circle cx="1563.8" cy="2349.7" r="4.5" fill="#000000"/><circle cx="1562.0" cy="2348.2" r="1.4" fill="#fff" fill-opacity=".9"/>
<text font-family="Liberation Serif, serif" font-weight="bold" font-size="42" x="1621.8" y="2364.3">5.5mm</text>
<path d="M1515.5 2403.1H1612.0" stroke="#ff0000" stroke-width="2" stroke-linecap="round"/>
<circle cx="1563.8" cy="2403.1" r="4.5" fill="#ff0000"/><circle cx="1562.0" cy="2401.6" r="1.4" fill="#fff" fill-opacity=".9"/>
<text font-family="Liberation Serif, serif" font-weight="bold" font-size="42" x="1621.8" y="2417.7">6mm</text>
<path d="M1515.5 2457.1H1612.0" stroke="#00ff00" stroke-width="3" stroke-linecap="round"/>
<circle cx="1563.8" cy="2457.1" r="4.5" fill="#00ff00"/><circle cx="1562.0" cy="2455.6" r="1.4" fill="#fff" fill-opacity=".9"/>
<text font-family="Liberation Serif, serif" font-weight="bold" font-size="42" x="1621.8" y="2471.7">6.5mm</text>
<path d="M1515.5 2510.4H1612.0" stroke="#0000ff" stroke-width="3.2" stroke-linecap="round"/>
<circle cx="1563.8" cy="2510.4" r="4.5" fill="#0000ff"/><circle cx="1562.0" cy="2508.9" r="1.4" fill="#fff" fill-opacity=".9"/>
<text font-family="Liberation Serif, serif" font-weight="bold" font-size="42" x="1621.8" y="2525.0">7mm</text>
<path d="M1515.5 2563.7H1612.0" stroke="#00ffff" stroke-width="3" stroke-linecap="round"/>
<circle cx="1563.8" cy="2563.7" r="4.5" fill="#00ffff"/><circle cx="1562.0" cy="2562.2" r="1.4" fill="#fff" fill-opacity=".9"/>
<text font-family="Liberation Serif, serif" font-weight="bold" font-size="42" x="1621.8" y="2578.3">7.5mm</text>
<path d="M1515.5 2617.0H1612.0" stroke="#ff00ff" stroke-width="3" stroke-linecap="round"/>
<circle cx="1563.8" cy="2617.0" r="4.5" fill="#ff00ff"/><circle cx="1562.0" cy="2615.5" r="1.4" fill="#fff" fill-opacity=".9"/>
<text font-family="Liberation Serif, serif" font-weight="bold" font-size="42" x="1621.8" y="2631.6">8mm</text>
<g font-family="Liberation Serif, serif" font-weight="bold" font-size="43.2" transform="translate(1791.7 2555.3)"><text x="-0.7">RL</text><text x="58.9" y="11.3" font-size="28.2">min</text><text transform="translate(104.8 0) scale(1.15 1)">=</text><text transform="translate(129.3 0) scale(1.085 1)">−</text><text x="154.9">35.76 dB</text></g>
<path d="M2022.9 2573.6L2120.9 2665.4" stroke="#000" stroke-width="4.6"/>
<path d="M2144.5 2687.5L2111.6 2669.4L2124.3 2655.8Z" fill="#000"/>
</g>
</svg></body></html>
